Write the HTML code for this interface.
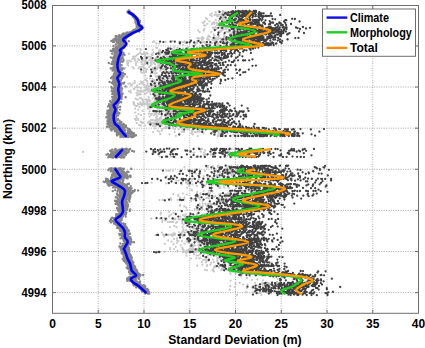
<!DOCTYPE html>
<html><head><meta charset="utf-8"><style>
html,body{margin:0;padding:0;background:#fff;width:425px;height:348px;overflow:hidden}
svg{display:block}
text{fill:#000}
</style></head><body>
<svg width="425" height="348" viewBox="0 0 425 348">
<path d="M98.25 5.5V313.3M144.00 5.5V313.3M189.75 5.5V313.3M235.50 5.5V313.3M281.25 5.5V313.3M327.00 5.5V313.3M372.75 5.5V313.3M52.5 292.64H418.5M52.5 251.52H418.5M52.5 210.40H418.5M52.5 169.28H418.5M52.5 128.16H418.5M52.5 87.04H418.5M52.5 45.92H418.5" stroke="#a8a8a8" stroke-width="1" stroke-dasharray="1 1.4" fill="none"/>
<path d="M128.6 11.4h0M128.8 10.9h0M128.3 11.2h0M129.1 10.8h0M129.3 11.2h0M129.3 10.8h0M128.0 11.6h0M128.5 10.7h0M129.5 11.1h0M128.6 10.7h0M128.6 11.7h0M128.2 11.4h0M127.6 12.4h0M130.5 12.1h0M130.6 12.3h0M128.7 12.2h0M128.9 11.8h0M129.0 12.3h0M127.5 11.6h0M128.1 11.9h0M129.1 13.0h0M128.1 12.4h0M129.9 13.0h0M129.1 12.8h0M130.0 12.7h0M130.5 13.2h0M130.0 13.2h0M129.7 13.0h0M129.9 12.7h0M130.0 12.4h0M130.5 13.7h0M130.9 13.1h0M132.6 13.8h0M130.6 13.8h0M129.8 13.8h0M131.6 13.5h0M131.8 13.3h0M131.1 13.6h0M128.8 13.2h0M131.7 13.8h0M131.4 13.9h0M130.7 14.0h0M132.4 14.0h0M131.7 14.1h0M130.8 13.8h0M131.5 13.8h0M131.2 14.4h0M131.8 14.6h0M132.6 14.2h0M132.4 14.6h0M133.8 14.8h0M132.7 15.5h0M133.7 15.0h0M133.1 14.8h0M132.5 14.8h0M131.9 15.0h0M132.6 14.7h0M132.2 15.1h0M133.3 14.8h0M134.1 14.7h0M134.4 15.7h0M133.2 15.9h0M133.3 16.2h0M132.5 15.7h0M133.0 15.9h0M134.1 16.0h0M133.5 15.8h0M133.5 16.1h0M135.2 16.1h0M134.1 15.8h0M133.8 16.9h0M134.7 16.7h0M134.4 16.5h0M134.7 17.1h0M133.9 17.1h0M133.3 16.2h0M134.0 16.6h0M134.1 16.4h0M133.3 16.9h0M136.1 17.0h0M135.9 17.8h0M135.6 17.0h0M135.3 17.8h0M135.6 17.2h0M135.0 17.1h0M135.3 17.5h0M135.4 17.3h0M134.3 17.0h0M135.6 17.2h0M135.5 17.6h0M134.2 18.1h0M138.0 18.7h0M136.9 18.3h0M136.6 18.5h0M134.9 18.6h0M136.6 18.0h0M134.6 18.6h0M135.7 18.0h0M135.7 18.5h0M136.0 18.7h0M135.2 19.3h0M137.8 18.6h0M136.0 18.9h0M136.4 19.4h0M137.2 18.7h0M137.2 18.7h0M136.7 18.8h0M136.2 19.5h0M136.0 18.7h0M137.0 19.1h0M137.3 19.6h0M136.9 20.1h0M137.3 19.6h0M137.8 20.4h0M139.0 20.3h0M136.5 20.0h0M138.0 19.6h0M136.0 20.1h0M136.7 19.6h0M136.5 20.2h0M137.1 20.3h0M135.6 20.5h0M137.2 20.4h0M139.9 20.6h0M136.4 20.8h0M135.5 20.9h0M138.5 20.3h0M135.2 20.2h0M139.0 20.6h0M135.7 20.6h0M136.8 21.1h0M136.2 21.2h0M136.8 21.2h0M138.6 21.7h0M138.3 21.6h0M137.1 21.6h0M137.7 21.5h0M135.8 21.7h0M139.8 21.9h0M137.7 21.7h0M137.9 21.8h0M138.9 22.2h0M137.7 22.1h0M138.8 21.9h0M137.7 22.4h0M136.6 21.8h0M135.6 22.6h0M136.7 22.1h0M138.5 22.1h0M138.5 22.1h0M137.8 23.3h0M138.7 23.0h0M136.4 23.4h0M136.1 23.2h0M138.9 23.1h0M137.5 23.3h0M139.3 23.5h0M137.2 22.8h0M136.0 23.3h0M138.4 23.4h0M137.6 23.8h0M138.7 23.8h0M138.6 24.0h0M138.3 24.1h0M137.9 24.2h0M139.3 23.6h0M138.4 24.1h0M137.7 24.3h0M136.9 24.0h0M138.3 23.7h0M138.7 24.8h0M138.0 24.7h0M137.1 24.3h0M138.8 25.0h0M136.5 24.8h0M139.1 25.1h0M138.0 24.7h0M137.2 24.2h0M137.8 25.2h0M136.9 24.4h0M137.0 25.8h0M138.3 25.6h0M139.2 25.1h0M137.7 25.2h0M140.3 25.7h0M139.0 25.8h0M138.5 25.1h0M137.8 25.7h0M139.5 25.6h0M138.4 25.7h0M136.6 26.8h0M136.9 26.1h0M139.0 25.9h0M139.3 26.2h0M138.5 25.9h0M138.3 26.5h0M138.3 25.9h0M137.7 26.0h0M138.8 26.7h0M141.7 25.8h0M142.6 27.4h0M138.5 26.8h0M142.2 26.7h0M139.2 26.6h0M138.4 26.6h0M141.0 27.6h0M138.9 27.1h0M138.2 26.7h0M139.7 26.6h0M137.4 27.4h0M138.3 27.7h0M143.1 27.6h0M140.8 27.5h0M141.6 27.6h0M138.5 28.0h0M140.7 27.5h0M141.2 28.3h0M140.5 27.5h0M139.6 28.0h0M138.6 28.3h0M139.0 28.7h0M141.6 28.6h0M138.3 28.3h0M139.7 29.1h0M138.5 29.0h0M138.4 28.4h0M138.0 29.0h0M137.4 28.6h0M141.5 28.6h0M138.4 28.3h0M137.8 29.5h0M138.8 29.8h0M137.8 29.4h0M135.5 29.3h0M138.7 29.7h0M135.6 29.6h0M138.4 29.3h0M135.8 29.4h0M137.4 29.9h0M139.2 29.7h0M135.2 30.3h0M135.4 29.9h0M134.4 30.2h0M137.0 30.3h0M140.5 29.9h0M136.6 30.7h0M137.5 30.6h0M133.6 30.0h0M138.3 30.6h0M138.5 29.9h0M139.1 31.5h0M135.1 30.9h0M135.4 31.4h0M133.3 30.6h0M133.7 31.2h0M133.9 30.6h0M134.2 31.0h0M134.0 30.7h0M133.9 30.9h0M135.4 31.1h0M131.1 31.9h0M130.3 32.3h0M131.7 32.1h0M133.2 31.8h0M134.4 31.4h0M131.8 31.7h0M134.7 32.2h0M132.0 31.8h0M132.0 31.6h0M132.1 31.5h0M129.0 32.8h0M131.5 32.8h0M130.6 32.2h0M132.1 32.3h0M127.2 32.4h0M133.5 32.6h0M133.2 32.6h0M130.7 32.5h0M129.2 32.6h0M131.6 32.4h0M127.2 33.9h0M123.4 33.4h0M132.2 33.5h0M128.7 33.5h0M126.2 33.5h0M125.1 33.4h0M128.8 33.2h0M128.9 33.2h0M131.1 33.0h0M127.4 33.3h0M123.0 34.2h0M129.1 34.3h0M126.6 33.9h0M128.8 34.6h0M123.0 34.4h0M127.0 33.9h0M126.5 34.6h0M128.8 34.1h0M130.8 34.5h0M125.9 34.3h0M124.4 34.7h0M123.1 35.5h0M119.2 35.3h0M126.7 35.2h0M121.8 34.8h0M126.8 35.0h0M123.3 35.5h0M129.3 34.7h0M127.4 35.3h0M125.5 35.0h0M124.0 36.1h0M116.8 36.1h0M125.7 36.0h0M126.2 35.6h0M127.4 36.4h0M124.2 36.0h0M125.2 35.7h0M128.5 35.7h0M125.3 36.3h0M119.3 36.3h0M124.1 36.8h0M122.3 36.4h0M124.8 37.0h0M118.8 37.1h0M120.5 36.7h0M115.7 36.3h0M115.9 36.8h0M121.6 36.5h0M123.4 36.3h0M123.0 36.9h0M119.7 38.0h0M123.5 37.3h0M119.6 37.4h0M119.0 37.4h0M119.8 37.6h0M121.4 37.6h0M126.4 38.0h0M125.6 37.3h0M118.5 37.5h0M124.9 37.6h0M120.6 38.1h0M115.8 38.3h0M122.2 38.7h0M115.1 38.6h0M119.9 38.2h0M119.7 38.5h0M120.2 38.4h0M121.2 38.6h0M124.5 38.2h0M120.1 37.8h0M117.0 39.1h0M114.3 39.2h0M121.4 39.2h0M120.7 39.4h0M117.1 39.2h0M123.9 39.2h0M120.6 38.7h0M123.3 39.0h0M123.5 39.5h0M115.9 38.8h0M121.3 39.6h0M117.1 40.3h0M125.7 39.8h0M116.6 39.6h0M122.6 40.3h0M116.8 40.1h0M123.1 40.2h0M118.4 40.3h0M113.3 39.8h0M121.4 40.4h0M115.7 40.2h0M118.4 40.5h0M119.4 40.5h0M119.8 40.5h0M121.0 41.1h0M120.7 40.4h0M116.8 40.2h0M111.4 40.9h0M120.6 40.5h0M120.7 41.1h0M120.9 41.8h0M119.2 41.1h0M113.0 41.9h0M128.8 41.1h0M117.5 41.7h0M118.9 41.9h0M114.2 41.9h0M117.8 41.2h0M121.8 41.5h0M120.7 41.7h0M123.4 42.5h0M117.2 42.4h0M119.1 42.5h0M118.4 42.6h0M123.4 42.5h0M117.3 41.9h0M119.3 42.1h0M123.4 42.0h0M117.0 42.1h0M124.4 42.7h0M124.2 43.3h0M121.5 43.4h0M122.7 42.7h0M121.4 43.2h0M123.6 42.9h0M122.9 42.7h0M119.3 43.2h0M123.4 42.9h0M123.6 43.3h0M122.4 42.6h0M121.3 44.3h0M121.7 43.6h0M120.6 43.9h0M121.6 44.2h0M126.0 44.3h0M119.3 43.4h0M122.1 44.3h0M121.0 44.4h0M121.1 44.1h0M118.1 43.5h0M121.9 44.4h0M120.3 44.5h0M120.1 44.6h0M118.6 44.7h0M121.3 45.0h0M115.8 44.5h0M122.3 44.3h0M121.6 44.9h0M125.2 44.2h0M123.5 44.9h0M120.7 45.8h0M124.6 45.7h0M121.2 45.4h0M120.9 45.9h0M118.5 45.5h0M121.1 45.8h0M121.0 45.9h0M122.0 45.4h0M118.4 45.2h0M121.5 45.9h0M120.9 46.5h0M118.2 46.7h0M113.5 45.9h0M124.0 46.6h0M121.5 46.1h0M118.5 46.1h0M123.5 46.5h0M124.0 46.6h0M118.9 45.9h0M118.6 46.1h0M119.9 47.1h0M119.3 46.9h0M119.2 47.2h0M122.2 46.8h0M122.6 47.4h0M124.2 47.0h0M119.8 47.5h0M123.4 47.4h0M116.2 47.0h0M121.1 47.3h0M118.6 48.1h0M119.2 48.3h0M117.7 47.7h0M119.4 47.6h0M121.6 47.7h0M115.6 47.7h0M121.3 48.4h0M121.3 48.2h0M120.2 48.3h0M118.8 48.3h0M118.9 49.1h0M117.1 49.2h0M118.2 48.5h0M115.3 49.1h0M116.5 48.3h0M117.1 48.2h0M117.8 48.3h0M116.3 48.5h0M113.4 48.7h0M119.6 48.3h0M119.4 49.5h0M114.1 49.9h0M115.4 49.1h0M119.0 49.7h0M113.0 49.0h0M113.2 49.4h0M115.1 49.0h0M118.6 49.8h0M121.2 49.3h0M118.6 49.4h0M118.0 50.3h0M115.6 50.1h0M114.6 50.5h0M115.0 49.9h0M114.5 49.9h0M114.3 50.8h0M119.8 50.6h0M113.4 50.3h0M118.4 50.5h0M116.3 50.8h0M121.0 51.6h0M119.0 50.7h0M112.5 50.9h0M115.6 50.8h0M116.7 51.5h0M113.2 51.3h0M122.0 50.9h0M119.1 51.2h0M116.3 51.2h0M110.7 50.7h0M114.9 52.2h0M117.8 51.6h0M117.3 52.4h0M117.8 51.4h0M116.6 51.7h0M117.7 51.8h0M118.0 51.7h0M120.0 51.9h0M119.7 51.6h0M117.6 51.4h0M122.1 53.0h0M116.1 52.3h0M114.8 52.7h0M119.7 52.9h0M120.2 52.8h0M123.4 52.8h0M116.0 52.2h0M116.9 52.4h0M117.3 52.8h0M118.5 52.4h0M117.1 53.7h0M115.8 53.3h0M120.8 53.8h0M120.8 53.2h0M123.1 53.8h0M119.3 53.8h0M118.8 54.0h0M115.6 53.8h0M118.4 53.9h0M112.1 53.6h0M121.1 54.3h0M119.1 53.8h0M116.1 54.4h0M122.3 54.7h0M118.0 54.5h0M116.3 53.8h0M119.4 54.8h0M116.4 53.8h0M117.9 54.7h0M116.8 54.6h0M114.4 54.8h0M117.5 55.0h0M119.3 54.7h0M119.8 55.2h0M115.3 54.9h0M117.8 55.6h0M124.5 55.0h0M115.4 54.7h0M120.4 55.0h0M122.1 54.7h0M119.3 56.0h0M117.0 55.8h0M119.2 56.2h0M119.5 55.9h0M117.8 55.5h0M117.2 55.8h0M115.9 55.7h0M115.5 56.2h0M119.8 55.5h0M114.5 56.1h0M114.0 56.9h0M114.7 56.8h0M113.6 57.1h0M120.7 57.2h0M116.8 56.4h0M119.1 56.9h0M119.3 56.6h0M116.9 56.7h0M114.5 56.6h0M119.0 56.8h0M121.7 58.0h0M116.6 57.4h0M118.3 57.2h0M118.7 57.8h0M117.8 57.9h0M120.6 57.4h0M117.7 58.0h0M122.7 57.1h0M120.4 57.3h0M110.8 57.4h0M117.8 58.6h0M118.8 58.2h0M116.2 58.7h0M119.5 58.8h0M116.2 58.1h0M119.0 58.6h0M118.6 57.9h0M116.2 58.1h0M119.6 58.8h0M112.6 58.2h0M117.8 59.4h0M117.2 59.0h0M118.0 58.7h0M118.9 59.5h0M114.1 58.8h0M118.3 59.1h0M116.8 59.5h0M123.3 59.3h0M113.0 58.7h0M115.3 59.0h0M120.5 59.7h0M113.7 59.8h0M117.0 60.4h0M117.1 59.6h0M117.5 59.9h0M115.4 59.9h0M117.8 59.5h0M119.0 59.4h0M113.5 59.6h0M120.8 59.8h0M114.3 60.4h0M118.9 60.2h0M113.2 60.8h0M123.5 60.7h0M115.7 60.3h0M121.0 60.8h0M115.8 60.7h0M116.9 60.5h0M119.8 60.4h0M117.1 60.3h0M115.4 61.4h0M113.6 61.7h0M118.6 61.5h0M114.9 61.9h0M116.4 61.5h0M119.7 61.4h0M112.3 61.9h0M115.0 61.4h0M115.8 61.7h0M121.3 61.3h0M114.7 62.3h0M117.3 62.0h0M118.5 61.9h0M117.5 62.1h0M115.5 62.7h0M118.7 62.6h0M116.2 62.3h0M122.5 61.8h0M115.5 62.1h0M116.8 62.8h0M108.8 63.0h0M114.9 62.9h0M116.8 63.4h0M118.5 63.2h0M118.5 63.5h0M114.1 63.5h0M120.1 62.7h0M118.3 63.0h0M119.2 62.7h0M119.2 62.7h0M116.0 64.2h0M112.3 64.3h0M115.2 63.7h0M111.4 63.9h0M113.8 63.9h0M115.6 63.9h0M115.6 63.5h0M116.3 64.2h0M117.6 63.5h0M115.0 63.6h0M118.4 65.2h0M114.2 64.7h0M119.7 64.3h0M119.3 64.9h0M120.7 65.0h0M116.1 64.6h0M118.0 65.1h0M117.0 65.0h0M114.6 64.7h0M115.4 65.0h0M120.8 65.1h0M120.0 65.7h0M121.6 65.3h0M116.9 65.6h0M120.1 66.0h0M117.4 65.3h0M117.1 65.0h0M115.0 65.7h0M115.7 65.1h0M120.5 65.1h0M115.1 66.0h0M119.4 65.9h0M118.4 65.9h0M118.1 66.3h0M119.6 66.1h0M117.0 65.8h0M119.9 66.5h0M116.9 66.0h0M115.4 66.3h0M115.9 66.6h0M117.7 67.5h0M119.3 66.9h0M116.8 66.9h0M115.5 67.4h0M118.0 67.0h0M114.9 66.9h0M117.4 67.4h0M118.8 67.2h0M118.5 67.3h0M113.6 67.2h0M117.4 67.7h0M119.7 67.6h0M114.2 68.4h0M122.2 68.4h0M114.6 67.8h0M116.1 67.7h0M121.9 68.2h0M115.4 67.9h0M112.3 68.3h0M117.1 68.1h0M120.3 69.0h0M115.6 68.8h0M112.0 68.6h0M115.3 69.0h0M116.4 68.9h0M124.1 68.4h0M115.9 68.3h0M114.8 68.3h0M110.8 68.4h0M119.5 68.7h0M115.4 69.7h0M117.5 69.3h0M122.0 69.8h0M118.4 69.0h0M114.7 69.7h0M117.6 69.3h0M116.7 69.9h0M116.1 69.6h0M112.9 69.7h0M119.9 69.3h0M120.3 70.2h0M119.1 70.7h0M120.0 70.6h0M121.2 70.0h0M116.9 70.1h0M120.8 70.3h0M114.4 69.9h0M116.5 70.1h0M118.9 69.9h0M112.6 70.5h0M120.1 71.6h0M114.9 71.2h0M114.8 71.2h0M118.0 71.3h0M119.0 70.9h0M117.4 71.5h0M116.5 71.2h0M115.3 70.7h0M117.9 71.4h0M118.1 70.7h0M116.3 72.1h0M119.7 71.5h0M119.6 72.0h0M118.1 71.8h0M119.9 71.7h0M119.0 72.1h0M117.9 72.2h0M117.5 71.5h0M115.7 71.4h0M119.7 71.5h0M118.3 73.0h0M114.4 73.2h0M120.3 72.9h0M117.1 72.9h0M119.2 73.1h0M123.0 72.8h0M119.0 73.0h0M116.4 72.5h0M117.4 72.8h0M121.8 72.7h0M121.2 73.5h0M115.0 73.9h0M116.8 74.0h0M120.5 73.3h0M122.5 73.7h0M122.9 73.3h0M120.4 73.5h0M115.1 73.5h0M122.1 73.1h0M117.9 73.4h0M116.2 74.2h0M124.9 74.2h0M118.9 73.9h0M113.9 74.5h0M121.7 74.1h0M117.0 74.7h0M121.3 74.0h0M119.7 74.4h0M113.9 73.9h0M121.7 74.3h0M117.7 75.4h0M119.2 75.2h0M116.0 75.0h0M120.7 74.7h0M117.6 74.7h0M118.6 75.4h0M118.4 74.6h0M115.8 75.5h0M119.8 75.4h0M118.8 75.2h0M113.1 76.3h0M119.3 76.0h0M118.4 75.9h0M117.0 76.1h0M119.3 76.0h0M115.0 75.7h0M117.1 76.4h0M114.0 75.9h0M119.2 75.9h0M122.0 75.5h0M120.1 76.4h0M116.3 76.4h0M116.9 77.0h0M123.2 76.2h0M116.3 76.6h0M114.7 76.9h0M116.4 77.1h0M119.2 77.0h0M119.2 77.2h0M113.1 77.0h0M116.5 77.7h0M114.3 77.9h0M112.7 77.2h0M114.7 77.5h0M112.3 77.5h0M115.8 77.2h0M119.6 77.1h0M116.3 77.8h0M112.1 77.0h0M121.5 77.8h0M114.4 77.8h0M112.4 78.3h0M114.0 77.9h0M116.2 78.4h0M111.0 78.0h0M122.1 78.2h0M115.5 78.0h0M115.1 77.9h0M119.0 77.9h0M112.4 78.1h0M116.1 78.7h0M115.7 78.8h0M116.9 79.3h0M114.5 78.8h0M113.8 79.2h0M113.5 78.8h0M114.5 78.9h0M117.0 78.9h0M118.0 79.0h0M115.6 79.4h0M120.9 80.3h0M119.1 80.0h0M119.5 80.2h0M115.5 80.4h0M113.8 80.4h0M116.9 80.1h0M114.1 80.1h0M116.7 80.4h0M113.8 79.9h0M116.7 79.4h0M119.0 80.8h0M113.2 80.9h0M118.1 80.8h0M114.4 80.4h0M113.4 80.8h0M115.7 80.4h0M116.9 80.6h0M117.8 80.8h0M114.6 80.6h0M120.3 80.7h0M118.3 81.2h0M120.5 81.2h0M113.9 81.5h0M119.0 81.2h0M113.6 81.2h0M115.6 81.1h0M119.0 81.6h0M115.5 81.5h0M115.0 81.2h0M117.2 81.7h0M114.9 82.3h0M111.9 82.7h0M109.6 82.0h0M117.5 82.1h0M118.0 82.4h0M114.8 82.7h0M117.9 81.8h0M118.6 82.4h0M119.5 82.3h0M117.0 82.2h0M112.9 83.5h0M118.1 83.2h0M112.1 83.0h0M118.9 82.9h0M114.0 82.8h0M118.4 83.3h0M117.2 83.3h0M118.6 83.5h0M124.3 82.6h0M113.8 83.6h0M122.7 83.4h0M114.7 84.1h0M119.9 83.7h0M123.6 83.5h0M114.5 83.9h0M115.9 83.8h0M122.0 83.4h0M119.9 84.0h0M120.5 84.0h0M119.8 83.6h0M118.0 85.1h0M115.8 84.6h0M116.8 84.5h0M115.2 84.3h0M117.3 84.7h0M117.4 84.6h0M117.4 84.7h0M119.9 85.1h0M118.6 84.8h0M115.7 84.8h0M117.1 85.1h0M114.1 85.1h0M118.3 85.6h0M115.7 85.1h0M115.8 85.0h0M116.7 85.0h0M118.0 85.8h0M121.0 85.0h0M115.3 85.6h0M117.7 85.7h0M119.4 86.7h0M118.7 86.5h0M119.3 86.2h0M120.5 86.0h0M114.9 86.5h0M119.5 86.7h0M116.4 86.2h0M125.6 86.4h0M115.3 86.5h0M119.4 86.5h0M118.0 86.9h0M117.7 86.9h0M111.4 86.9h0M119.7 86.8h0M115.3 87.0h0M118.5 87.1h0M120.9 87.2h0M120.5 87.4h0M115.9 87.3h0M118.1 87.5h0M120.7 87.5h0M114.6 87.7h0M117.1 87.7h0M116.6 87.8h0M117.5 87.7h0M116.7 88.0h0M119.7 88.1h0M117.4 87.9h0M117.3 88.1h0M115.3 87.6h0M113.9 88.3h0M113.7 88.5h0M114.5 88.3h0M122.1 88.6h0M118.4 89.2h0M117.2 88.3h0M114.4 88.9h0M116.4 88.5h0M111.9 88.4h0M118.2 89.1h0M118.5 89.2h0M118.1 89.5h0M116.0 89.1h0M120.0 89.3h0M118.5 89.7h0M117.2 89.6h0M116.5 89.8h0M117.3 89.1h0M116.3 89.9h0M114.5 89.1h0M116.7 90.7h0M117.9 90.4h0M116.4 90.7h0M118.6 90.2h0M119.4 90.2h0M119.4 90.6h0M121.5 90.7h0M118.9 89.9h0M115.4 90.6h0M113.3 90.7h0M113.5 91.2h0M118.1 91.0h0M119.6 91.1h0M119.8 90.9h0M116.6 91.1h0M111.7 91.0h0M112.9 90.9h0M117.1 91.4h0M115.1 91.2h0M113.8 90.7h0M114.1 92.1h0M113.1 92.2h0M119.2 92.1h0M119.8 92.3h0M119.0 91.6h0M118.3 91.7h0M115.8 92.3h0M115.2 92.1h0M115.4 92.3h0M111.9 91.4h0M114.0 92.9h0M119.3 93.1h0M118.4 93.1h0M120.5 92.4h0M120.2 92.4h0M118.3 92.2h0M114.5 92.8h0M119.9 93.1h0M117.1 93.1h0M119.6 92.3h0M116.4 93.8h0M116.8 93.1h0M118.8 93.9h0M115.7 93.6h0M117.8 93.7h0M115.8 93.7h0M114.8 93.5h0M119.6 93.8h0M122.6 93.5h0M117.5 93.1h0M112.8 94.0h0M112.3 93.9h0M118.1 94.3h0M118.8 94.0h0M122.0 94.7h0M114.0 94.3h0M113.9 94.2h0M119.0 94.4h0M120.8 94.4h0M119.0 94.0h0M119.0 95.5h0M120.4 95.6h0M117.2 94.9h0M115.5 95.5h0M117.4 95.3h0M121.4 94.9h0M119.6 95.6h0M116.9 95.3h0M114.3 95.5h0M117.2 95.5h0M120.2 95.4h0M118.5 95.8h0M117.1 96.0h0M115.3 95.6h0M118.6 95.7h0M120.2 96.1h0M118.3 96.2h0M115.6 95.8h0M120.0 95.9h0M114.2 96.2h0M118.4 97.1h0M116.1 96.5h0M125.7 97.2h0M121.2 96.9h0M118.4 97.0h0M118.1 96.9h0M121.7 96.8h0M112.2 97.0h0M116.1 96.8h0M120.0 96.5h0M114.9 97.4h0M113.5 97.9h0M118.3 97.1h0M116.0 97.3h0M115.1 97.2h0M116.1 97.7h0M117.0 97.1h0M120.5 97.7h0M118.1 97.9h0M119.9 97.3h0M118.1 98.3h0M116.9 98.4h0M116.9 98.0h0M114.8 98.3h0M119.4 98.2h0M116.2 98.5h0M115.4 98.2h0M120.9 98.0h0M116.8 97.9h0M117.9 98.2h0M114.6 98.7h0M121.4 98.9h0M114.5 99.2h0M115.2 99.2h0M119.1 99.1h0M116.8 98.7h0M117.6 99.6h0M113.9 98.7h0M115.2 99.0h0M116.8 99.5h0M117.0 99.8h0M118.2 99.7h0M117.3 99.7h0M112.6 100.2h0M116.9 99.6h0M117.8 100.0h0M117.4 99.6h0M112.5 99.8h0M118.4 100.2h0M113.3 99.6h0M116.9 100.2h0M114.8 100.7h0M114.0 100.7h0M113.3 100.4h0M113.5 100.2h0M115.1 100.5h0M113.0 101.2h0M119.2 101.2h0M114.0 101.1h0M115.3 101.0h0M117.9 102.0h0M115.3 101.6h0M114.6 101.9h0M114.3 101.1h0M113.6 101.8h0M110.1 101.2h0M121.0 102.0h0M115.2 101.8h0M117.7 101.2h0M115.3 101.2h0M113.7 102.7h0M115.6 102.6h0M114.2 101.9h0M117.1 102.0h0M115.0 102.5h0M117.7 101.9h0M110.8 102.0h0M113.6 102.4h0M114.9 102.3h0M121.1 102.2h0M117.5 103.0h0M113.1 102.8h0M116.5 102.6h0M116.1 103.5h0M118.8 103.1h0M111.5 103.0h0M114.3 102.9h0M116.1 102.9h0M112.9 103.1h0M114.6 103.1h0M116.1 104.3h0M116.6 104.2h0M111.9 104.1h0M113.3 103.6h0M115.1 103.6h0M112.1 104.2h0M114.4 104.1h0M116.0 103.8h0M109.1 104.3h0M117.6 104.4h0M110.6 104.8h0M112.1 104.6h0M115.1 105.0h0M112.6 105.0h0M112.2 104.9h0M117.7 105.0h0M111.5 104.7h0M112.9 105.2h0M115.0 104.8h0M111.7 104.2h0M112.0 105.4h0M109.1 105.3h0M114.4 105.4h0M113.7 105.4h0M115.0 105.0h0M116.1 105.2h0M112.3 105.8h0M114.3 106.0h0M110.3 105.8h0M113.1 105.8h0M109.4 105.9h0M108.0 106.4h0M112.2 105.9h0M120.1 106.7h0M113.8 106.7h0M112.5 106.3h0M115.5 106.8h0M111.2 106.1h0M114.4 106.8h0M116.6 106.1h0M112.5 107.0h0M111.3 107.2h0M113.7 107.5h0M110.1 107.3h0M117.0 106.6h0M114.1 106.8h0M110.6 107.3h0M112.7 107.0h0M114.6 107.2h0M110.1 107.2h0M110.3 107.4h0M113.6 107.5h0M112.9 107.6h0M115.5 108.1h0M112.1 108.1h0M114.2 107.6h0M113.1 108.1h0M115.4 107.9h0M117.9 107.6h0M114.0 107.7h0M116.9 108.8h0M116.2 108.5h0M116.7 108.3h0M113.9 109.0h0M110.9 108.8h0M113.7 108.7h0M113.2 109.0h0M114.3 108.8h0M113.7 108.7h0M113.0 108.5h0M110.1 109.3h0M113.6 109.7h0M113.9 109.9h0M113.3 109.6h0M113.6 109.0h0M120.0 109.6h0M116.9 109.9h0M110.8 109.5h0M115.0 109.8h0M113.8 109.2h0M109.1 110.3h0M107.5 110.6h0M112.0 109.8h0M109.4 110.3h0M111.7 110.7h0M110.7 110.0h0M110.4 110.2h0M113.7 110.7h0M113.2 110.4h0M114.2 110.5h0M113.0 111.1h0M111.0 111.5h0M112.7 111.4h0M109.9 110.7h0M112.3 111.3h0M108.8 111.5h0M110.3 111.4h0M116.8 111.3h0M110.8 111.5h0M113.7 110.8h0M113.1 112.2h0M115.3 112.2h0M112.0 112.2h0M115.9 112.0h0M107.6 111.9h0M116.6 111.5h0M112.0 111.6h0M115.6 112.0h0M109.7 112.3h0M112.3 111.6h0M112.8 112.9h0M117.4 112.9h0M118.1 112.4h0M115.1 112.3h0M114.8 113.1h0M113.2 112.4h0M115.2 112.9h0M119.4 113.2h0M117.6 112.6h0M114.5 112.5h0M108.8 113.5h0M115.5 113.9h0M116.7 113.1h0M111.8 113.1h0M108.2 114.0h0M112.0 113.7h0M119.3 113.6h0M113.3 113.1h0M111.3 113.3h0M107.0 113.6h0M110.4 114.1h0M110.3 114.3h0M116.1 114.0h0M111.3 114.4h0M113.0 114.7h0M111.9 114.3h0M113.4 113.9h0M114.9 114.6h0M114.2 114.8h0M110.4 114.0h0M118.0 115.4h0M112.9 114.8h0M112.3 115.2h0M113.8 115.1h0M109.1 115.4h0M108.8 114.9h0M111.4 115.2h0M113.5 115.0h0M112.0 115.0h0M110.5 115.3h0M113.9 116.0h0M114.4 116.1h0M114.8 115.9h0M114.7 115.8h0M116.6 116.1h0M114.5 115.6h0M107.6 116.1h0M111.5 115.4h0M111.9 116.3h0M114.5 116.1h0M112.8 116.9h0M112.4 116.3h0M114.1 116.8h0M115.7 116.5h0M115.7 117.2h0M109.4 116.3h0M110.2 116.6h0M113.3 116.3h0M114.0 116.3h0M112.0 116.2h0M114.4 117.3h0M107.5 117.2h0M112.4 117.6h0M115.8 117.3h0M112.6 117.9h0M108.4 117.9h0M112.7 117.8h0M106.3 117.4h0M114.8 117.9h0M113.2 117.7h0M113.4 118.6h0M112.2 118.1h0M112.2 118.6h0M115.9 118.5h0M113.3 118.2h0M113.0 118.4h0M110.4 118.7h0M113.9 118.3h0M114.6 118.2h0M115.3 118.1h0M117.5 119.3h0M116.3 119.6h0M111.9 119.5h0M110.1 119.2h0M117.5 119.1h0M109.3 118.8h0M109.9 119.0h0M117.9 119.0h0M114.0 118.6h0M117.9 119.5h0M114.3 119.7h0M114.9 119.8h0M109.2 119.9h0M110.9 120.1h0M117.0 120.0h0M114.2 119.5h0M116.9 119.9h0M112.5 119.6h0M107.8 120.1h0M112.5 119.5h0M110.8 120.3h0M119.6 120.8h0M116.5 120.8h0M110.1 120.2h0M113.0 120.5h0M115.6 120.9h0M113.2 120.3h0M113.9 120.6h0M110.0 120.5h0M115.0 121.0h0M119.8 121.9h0M110.7 121.4h0M107.5 121.2h0M115.7 121.9h0M114.7 121.0h0M111.2 121.5h0M114.3 121.4h0M115.6 121.4h0M113.5 121.8h0M108.8 121.8h0M111.3 122.2h0M115.7 122.3h0M109.5 122.7h0M114.3 122.2h0M111.8 122.4h0M113.0 122.4h0M112.2 121.9h0M110.6 122.2h0M113.5 122.7h0M116.0 122.5h0M121.4 122.1h0M111.2 122.9h0M110.6 123.0h0M114.3 122.7h0M120.5 123.2h0M111.0 123.0h0M110.6 123.0h0M111.7 123.3h0M114.1 123.4h0M117.6 123.3h0M115.2 123.1h0M117.3 122.8h0M114.8 123.8h0M110.0 123.7h0M116.1 124.0h0M117.4 123.9h0M118.8 124.1h0M109.5 124.0h0M115.5 124.3h0M119.2 124.2h0M114.9 124.2h0M107.4 123.7h0M123.6 124.0h0M109.6 124.0h0M119.6 125.1h0M109.9 124.7h0M119.0 124.6h0M113.0 124.7h0M115.3 124.4h0M115.5 125.0h0M124.1 125.1h0M117.8 124.7h0M122.6 124.6h0M110.5 125.0h0M117.1 124.4h0M119.9 124.5h0M121.6 124.5h0M116.1 125.1h0M122.9 126.0h0M109.4 125.0h0M117.9 125.2h0M113.6 125.5h0M113.7 125.2h0M125.9 125.4h0M120.3 125.5h0M122.7 125.5h0M121.4 125.5h0M113.7 125.9h0M109.4 125.6h0M112.3 125.7h0M115.8 126.4h0M117.5 126.7h0M118.2 126.1h0M107.0 126.7h0M118.3 125.8h0M118.5 126.0h0M119.1 126.3h0M125.4 126.7h0M116.3 126.1h0M119.8 126.0h0M119.1 126.3h0M107.7 126.4h0M111.7 126.6h0M115.3 126.6h0M113.7 127.1h0M120.4 126.8h0M126.1 127.0h0M122.4 126.8h0M119.6 127.0h0M118.9 127.2h0M125.2 127.0h0M114.9 127.2h0M121.3 127.0h0M119.0 127.2h0M114.3 127.0h0M109.6 127.0h0M121.0 126.8h0M121.5 127.4h0M113.0 126.7h0M113.8 127.9h0M117.5 127.9h0M116.7 127.4h0M115.6 128.0h0M114.4 127.4h0M115.2 127.6h0M118.1 128.4h0M112.3 127.9h0M118.3 128.3h0M121.9 128.1h0M123.8 127.6h0M122.5 127.9h0M123.4 128.3h0M117.2 127.7h0M116.7 128.2h0M122.0 128.5h0M123.3 128.8h0M119.4 128.6h0M117.4 129.1h0M115.0 129.1h0M112.5 128.7h0M119.3 128.7h0M123.8 129.1h0M118.5 128.5h0M127.7 128.4h0M124.2 129.0h0M121.4 128.6h0M118.5 128.5h0M118.6 128.7h0M123.6 129.0h0M120.9 129.1h0M122.0 129.2h0M114.4 129.2h0M117.8 129.3h0M115.5 129.8h0M110.6 129.3h0M117.7 129.4h0M122.5 129.8h0M117.2 129.8h0M117.2 129.9h0M115.5 129.2h0M129.3 129.3h0M118.3 129.0h0M130.1 129.6h0M120.6 130.0h0M123.4 130.2h0M124.4 130.0h0M125.2 130.3h0M129.2 130.2h0M115.3 130.5h0M125.0 130.2h0M124.4 130.1h0M123.6 130.0h0M111.6 130.4h0M115.4 129.9h0M128.0 130.8h0M129.3 130.2h0M117.8 130.5h0M122.2 130.7h0M115.2 129.8h0M118.3 131.5h0M120.7 130.9h0M121.5 131.3h0M124.2 131.2h0M129.7 131.2h0M129.6 130.9h0M115.7 130.7h0M119.4 130.9h0M114.9 131.0h0M123.5 130.7h0M119.7 131.5h0M125.0 130.6h0M122.1 131.1h0M120.9 130.7h0M118.9 131.1h0M124.0 131.8h0M128.4 131.7h0M124.1 132.0h0M119.5 131.4h0M124.7 132.1h0M120.6 132.4h0M123.9 131.5h0M129.5 132.3h0M118.9 131.4h0M116.7 131.8h0M119.8 132.2h0M120.7 132.0h0M124.8 132.0h0M131.4 131.6h0M118.8 132.0h0M128.9 132.6h0M122.6 132.4h0M122.1 132.3h0M120.7 132.9h0M116.8 132.8h0M120.7 132.6h0M128.0 132.3h0M124.3 132.5h0M121.2 132.9h0M124.8 133.0h0M121.9 132.4h0M125.2 133.2h0M122.4 132.5h0M123.1 132.5h0M131.9 132.4h0M120.7 133.6h0M134.1 133.5h0M122.2 133.6h0M123.4 133.7h0M127.1 133.9h0M124.2 133.5h0M123.6 133.4h0M130.3 133.1h0M128.2 133.5h0M123.0 133.4h0M125.7 133.3h0M120.2 133.5h0M133.7 133.1h0M122.6 133.9h0M122.1 133.3h0M123.5 134.5h0M132.1 134.1h0M121.8 134.3h0M125.7 134.3h0M119.0 133.9h0M126.1 134.0h0M127.0 134.5h0M120.0 134.4h0M123.4 134.0h0M128.0 134.8h0M130.3 134.0h0M122.0 133.9h0M124.3 134.8h0M126.4 134.5h0M116.9 133.9h0M117.6 135.1h0M136.0 135.3h0M132.6 134.8h0M123.9 135.5h0M125.5 134.6h0M122.4 134.9h0M122.6 135.0h0M127.2 135.1h0M127.8 135.2h0M134.9 135.6h0M123.6 134.7h0M123.7 134.9h0M117.1 135.4h0M122.9 135.5h0M126.1 135.0h0M121.0 135.6h0M134.2 136.0h0M126.9 135.7h0M127.1 135.9h0M127.1 135.6h0M127.5 135.9h0M125.1 135.9h0M124.9 136.0h0M123.8 135.6h0M123.8 136.2h0M128.3 135.9h0M131.6 136.2h0M127.0 135.5h0M130.1 136.1h0M120.8 136.1h0M131.3 137.0h0M127.7 136.9h0M127.0 136.6h0M120.5 137.0h0M132.6 137.0h0M133.4 136.7h0M120.8 136.2h0M122.8 136.4h0M128.0 136.6h0M123.3 137.0h0M126.2 136.6h0M125.4 136.4h0M122.5 136.6h0M128.2 137.0h0M120.5 136.4h0M123.2 149.3h0M121.5 149.0h0M125.0 149.1h0M121.0 149.6h0M129.5 149.5h0M115.5 149.0h0M126.5 148.8h0M119.0 149.6h0M127.1 149.1h0M122.2 148.7h0M122.1 149.6h0M119.9 149.6h0M124.2 149.5h0M115.8 149.7h0M114.8 149.6h0M130.1 149.0h0M128.4 150.1h0M120.5 150.2h0M122.9 149.7h0M129.1 150.2h0M118.1 150.3h0M118.7 150.0h0M119.9 149.9h0M121.7 150.1h0M114.8 149.8h0M122.9 150.1h0M112.3 149.6h0M122.0 150.4h0M124.9 149.8h0M122.2 150.2h0M119.5 150.1h0M123.9 149.6h0M117.2 150.7h0M132.2 150.9h0M111.6 150.5h0M121.3 150.3h0M115.7 150.9h0M126.1 150.5h0M120.5 150.5h0M122.0 150.9h0M124.2 150.5h0M116.7 150.6h0M121.5 150.8h0M120.0 150.9h0M117.0 151.2h0M115.7 151.1h0M110.2 150.7h0M110.8 150.7h0M120.0 151.3h0M117.2 151.9h0M122.9 152.0h0M117.1 151.6h0M111.9 151.8h0M117.2 152.0h0M113.4 151.9h0M121.7 151.8h0M123.8 151.1h0M123.1 151.9h0M124.4 151.7h0M125.3 151.6h0M115.9 151.1h0M134.0 151.5h0M118.7 151.5h0M111.5 151.6h0M118.1 152.3h0M120.1 152.5h0M114.0 152.5h0M116.9 152.3h0M119.1 152.0h0M120.6 152.2h0M128.6 152.1h0M126.5 152.1h0M114.6 152.5h0M120.4 152.5h0M121.0 152.8h0M125.0 152.0h0M121.2 152.3h0M123.5 152.8h0M125.3 152.0h0M124.1 152.1h0M122.7 153.4h0M120.9 153.3h0M127.2 153.0h0M111.5 153.3h0M115.8 153.1h0M114.2 153.7h0M113.7 153.5h0M121.4 153.1h0M120.1 153.7h0M125.4 153.3h0M117.9 153.2h0M125.6 153.1h0M111.1 153.4h0M124.1 153.7h0M120.8 152.8h0M125.8 153.3h0M113.8 154.1h0M120.9 154.1h0M120.0 153.6h0M121.3 153.9h0M122.7 153.5h0M112.2 154.3h0M114.3 154.3h0M111.9 154.2h0M116.3 153.7h0M118.2 153.5h0M113.6 153.8h0M122.9 153.5h0M117.5 154.2h0M117.4 154.2h0M121.5 154.2h0M108.0 153.9h0M114.0 154.4h0M118.7 154.9h0M118.2 155.3h0M117.1 154.9h0M117.3 154.8h0M109.3 155.2h0M120.4 154.3h0M122.7 155.3h0M115.6 155.0h0M116.7 154.3h0M106.6 154.7h0M118.7 155.0h0M125.8 154.9h0M116.6 154.6h0M120.4 154.3h0M115.4 155.0h0M111.4 155.3h0M116.3 155.1h0M116.8 155.2h0M117.0 155.6h0M121.9 155.6h0M116.6 155.5h0M120.0 155.5h0M117.6 155.7h0M118.9 155.8h0M121.7 155.2h0M120.5 155.8h0M121.0 155.6h0M112.9 155.3h0M116.9 155.2h0M117.6 155.4h0M121.6 156.1h0M112.5 156.6h0M116.4 156.1h0M115.7 156.0h0M117.2 156.8h0M112.0 156.6h0M113.5 156.7h0M119.0 155.9h0M115.0 156.2h0M113.7 156.2h0M112.6 156.9h0M119.4 156.0h0M124.4 156.7h0M113.6 156.8h0M121.8 156.4h0M119.6 156.4h0M117.1 156.1h0M112.6 156.9h0M113.1 157.6h0M117.8 157.0h0M121.7 157.5h0M110.4 157.0h0M117.7 157.2h0M123.9 157.5h0M115.6 157.3h0M120.4 157.2h0M112.4 157.5h0M108.3 157.2h0M116.9 157.4h0M116.2 157.2h0M117.3 157.4h0M111.1 156.8h0M118.3 156.9h0M119.3 168.7h0M111.1 168.4h0M121.0 168.5h0M114.6 168.7h0M118.8 168.6h0M114.4 168.7h0M120.3 168.8h0M115.6 167.9h0M111.7 168.2h0M115.0 168.7h0M114.5 168.6h0M115.5 168.5h0M114.3 168.4h0M118.3 168.8h0M120.4 168.5h0M115.6 169.1h0M118.5 169.2h0M114.3 168.7h0M114.0 168.7h0M123.8 168.7h0M117.3 169.5h0M114.9 169.4h0M131.2 168.7h0M119.7 168.6h0M122.2 168.9h0M117.3 169.4h0M116.3 169.1h0M118.9 168.8h0M109.4 168.6h0M118.8 169.5h0M112.0 170.4h0M114.9 169.7h0M108.4 170.0h0M110.7 169.5h0M115.3 169.8h0M121.0 170.0h0M122.0 169.7h0M113.9 170.2h0M116.8 169.7h0M115.8 169.4h0M114.7 170.3h0M118.8 170.4h0M116.7 169.6h0M114.9 170.2h0M123.3 169.6h0M120.1 170.9h0M115.1 170.9h0M118.7 171.2h0M116.9 170.8h0M118.4 170.6h0M119.3 170.7h0M112.7 170.7h0M117.6 170.4h0M115.7 170.9h0M112.0 170.9h0M114.2 170.6h0M119.5 171.0h0M113.2 170.4h0M116.3 171.1h0M113.4 171.1h0M127.2 171.8h0M120.7 171.5h0M123.2 171.4h0M123.5 171.6h0M113.6 171.5h0M113.3 171.3h0M110.8 171.6h0M113.3 171.8h0M113.6 171.2h0M118.3 171.4h0M118.9 171.9h0M119.2 171.8h0M122.0 171.6h0M124.1 171.9h0M120.2 171.8h0M120.6 172.3h0M122.5 172.1h0M122.7 172.3h0M120.4 171.8h0M116.8 172.5h0M123.7 172.5h0M128.4 171.9h0M116.8 172.3h0M117.6 172.1h0M118.6 172.1h0M113.4 171.9h0M119.6 172.6h0M117.5 171.9h0M117.7 171.9h0M116.4 172.0h0M121.2 172.8h0M120.6 173.4h0M120.7 172.9h0M120.2 173.2h0M120.9 173.6h0M116.1 172.6h0M113.8 173.2h0M115.1 173.0h0M120.4 173.1h0M113.3 172.7h0M118.8 172.9h0M120.3 172.7h0M118.9 173.5h0M120.6 173.0h0M124.8 172.7h0M120.6 174.0h0M120.1 174.0h0M113.5 174.0h0M120.4 174.1h0M121.2 173.6h0M124.1 173.6h0M126.3 173.8h0M116.4 173.9h0M112.4 174.3h0M122.7 174.1h0M117.6 173.6h0M117.7 174.0h0M123.8 173.7h0M118.6 173.9h0M115.1 174.4h0M123.6 174.3h0M119.9 174.4h0M114.1 174.9h0M126.8 175.0h0M112.9 175.0h0M119.2 174.5h0M115.3 175.1h0M119.2 174.8h0M123.1 175.2h0M118.0 174.2h0M127.2 174.6h0M116.0 174.4h0M119.0 174.5h0M112.0 175.1h0M120.9 174.4h0M117.9 175.4h0M118.8 175.5h0M118.6 175.8h0M118.2 175.9h0M125.0 175.6h0M121.5 175.4h0M120.5 176.0h0M114.2 175.4h0M119.9 175.0h0M122.7 175.1h0M116.6 175.0h0M123.6 175.8h0M121.3 175.2h0M119.6 175.5h0M120.2 175.9h0M116.7 176.5h0M127.3 176.2h0M126.9 176.3h0M121.7 176.1h0M129.8 176.0h0M125.8 176.8h0M119.4 176.7h0M125.1 176.7h0M112.6 176.3h0M115.8 175.8h0M130.6 176.0h0M125.8 176.0h0M123.4 176.8h0M114.9 176.3h0M129.9 176.0h0M123.9 177.5h0M123.5 177.2h0M119.3 177.5h0M118.3 176.9h0M117.0 176.8h0M115.5 177.0h0M121.3 176.8h0M125.7 177.3h0M116.9 177.1h0M123.5 177.2h0M128.0 176.8h0M130.4 177.1h0M125.4 176.6h0M111.6 176.9h0M121.0 177.2h0M118.8 178.4h0M121.2 177.9h0M116.4 177.9h0M121.4 178.3h0M115.6 177.7h0M127.5 178.4h0M121.1 177.6h0M124.3 177.8h0M121.3 178.1h0M122.2 177.8h0M119.2 177.8h0M115.5 178.1h0M116.6 178.3h0M111.3 177.8h0M119.8 177.9h0M122.5 178.8h0M115.6 178.9h0M111.1 178.7h0M119.5 178.2h0M113.2 178.4h0M119.0 178.5h0M118.6 178.8h0M117.9 178.4h0M114.7 178.4h0M118.5 179.0h0M106.1 178.8h0M113.4 179.1h0M127.1 178.2h0M122.0 178.7h0M107.4 179.1h0M119.1 179.0h0M120.3 179.2h0M114.2 179.1h0M117.6 179.3h0M115.1 179.1h0M121.9 179.1h0M115.0 179.1h0M119.3 179.3h0M119.6 179.0h0M107.9 179.5h0M115.4 179.2h0M118.8 180.0h0M111.4 179.9h0M112.7 179.3h0M116.6 179.7h0M123.3 179.9h0M113.1 180.4h0M113.8 180.2h0M106.6 180.1h0M115.5 180.2h0M114.1 179.9h0M113.4 180.5h0M112.0 180.8h0M109.8 180.6h0M117.6 180.7h0M115.1 180.6h0M118.5 180.7h0M111.5 180.2h0M120.6 179.8h0M114.9 180.3h0M109.0 181.2h0M115.9 180.9h0M114.9 180.9h0M117.1 181.5h0M119.6 181.2h0M119.5 180.6h0M122.9 181.4h0M106.0 181.5h0M113.7 181.3h0M118.2 181.1h0M116.3 180.8h0M116.3 181.6h0M106.5 181.0h0M107.0 180.9h0M106.1 180.8h0M103.7 181.6h0M108.2 181.5h0M104.5 182.0h0M118.6 181.4h0M112.5 181.9h0M108.5 182.0h0M115.5 182.1h0M119.4 181.5h0M112.6 181.6h0M112.3 182.2h0M115.2 182.2h0M116.3 182.3h0M113.9 181.9h0M120.3 182.1h0M107.7 181.5h0M113.5 182.4h0M114.4 183.0h0M108.9 182.4h0M118.2 182.3h0M110.8 182.3h0M109.7 182.2h0M114.5 182.8h0M117.9 182.3h0M115.4 182.8h0M110.5 182.4h0M119.1 182.9h0M121.7 183.0h0M118.4 182.5h0M110.0 182.6h0M115.3 182.6h0M118.4 183.7h0M114.4 183.9h0M122.5 183.4h0M120.3 183.3h0M116.5 183.6h0M121.5 183.9h0M112.3 183.0h0M107.4 183.6h0M111.3 183.6h0M114.1 183.6h0M115.8 183.0h0M118.4 183.5h0M120.0 183.7h0M117.4 183.3h0M115.4 183.6h0M113.3 184.5h0M108.4 184.6h0M124.5 184.3h0M129.0 183.8h0M117.4 184.0h0M110.1 184.4h0M117.4 183.9h0M112.9 183.9h0M112.0 184.2h0M115.8 184.3h0M116.3 183.8h0M127.5 183.9h0M113.8 184.6h0M123.6 183.9h0M121.5 183.9h0M119.8 185.4h0M111.4 185.0h0M122.4 185.2h0M122.0 184.8h0M118.5 185.2h0M113.9 185.2h0M125.9 185.2h0M115.4 185.2h0M108.3 185.1h0M120.3 185.2h0M112.0 185.0h0M115.0 185.6h0M119.9 185.5h0M108.6 185.0h0M123.3 185.8h0M123.0 185.9h0M126.8 185.6h0M125.9 185.7h0M114.3 185.5h0M123.2 186.1h0M120.6 186.3h0M118.5 186.2h0M130.7 186.1h0M115.9 186.4h0M117.2 185.8h0M109.2 185.7h0M120.4 186.1h0M126.0 185.4h0M117.3 186.7h0M115.8 187.1h0M121.2 186.9h0M122.6 186.5h0M122.0 186.3h0M115.6 186.6h0M125.8 186.7h0M118.7 186.6h0M121.4 186.3h0M123.1 186.4h0M122.7 187.0h0M116.8 187.1h0M126.3 186.6h0M123.7 186.3h0M123.5 187.1h0M122.4 187.2h0M118.8 187.9h0M115.2 187.6h0M121.9 187.5h0M118.6 187.4h0M124.6 187.8h0M119.1 187.2h0M128.0 187.7h0M127.7 187.8h0M130.5 188.0h0M121.8 187.6h0M124.4 187.6h0M113.1 187.4h0M123.8 188.5h0M118.9 188.0h0M125.0 187.9h0M124.6 188.3h0M128.3 188.1h0M124.0 188.7h0M129.8 188.1h0M121.9 188.1h0M117.9 188.3h0M125.4 188.4h0M131.5 188.2h0M121.2 188.0h0M126.7 188.3h0M121.9 188.3h0M121.6 188.6h0M128.7 189.1h0M119.6 189.5h0M131.0 188.7h0M124.3 189.6h0M124.7 189.6h0M118.7 188.9h0M121.7 188.9h0M120.2 188.9h0M125.7 189.4h0M124.3 189.4h0M118.2 189.5h0M120.6 189.5h0M126.2 189.5h0M124.9 189.4h0M123.6 190.0h0M125.6 189.9h0M127.7 189.6h0M123.2 189.4h0M127.7 190.0h0M123.4 190.3h0M134.8 189.9h0M138.1 190.4h0M120.5 190.4h0M124.7 189.8h0M115.2 190.1h0M112.8 191.1h0M122.7 190.2h0M121.1 190.4h0M130.0 190.5h0M132.5 191.0h0M121.5 190.5h0M126.9 190.7h0M125.9 190.9h0M126.4 190.7h0M127.7 190.4h0M130.1 190.2h0M125.4 191.0h0M129.0 190.5h0M129.7 191.6h0M117.5 191.3h0M128.8 191.9h0M123.5 191.5h0M132.4 191.4h0M120.0 191.3h0M121.3 191.9h0M125.6 191.8h0M122.5 191.5h0M127.7 191.1h0M121.8 191.0h0M133.1 191.7h0M134.4 191.1h0M128.1 192.2h0M121.3 192.3h0M125.1 192.0h0M123.9 192.3h0M130.5 192.4h0M123.8 192.5h0M122.8 192.6h0M124.8 192.7h0M128.0 192.5h0M121.8 192.4h0M120.6 192.5h0M121.4 192.5h0M130.7 192.4h0M116.9 193.6h0M120.8 193.0h0M128.7 192.6h0M132.2 192.8h0M124.4 193.3h0M129.5 193.4h0M120.1 192.8h0M119.8 192.6h0M125.4 192.9h0M125.8 193.5h0M128.2 193.2h0M126.7 193.2h0M119.8 193.9h0M124.4 193.6h0M121.6 194.1h0M126.4 193.8h0M128.2 193.4h0M120.2 194.1h0M129.1 193.9h0M121.1 194.0h0M129.8 193.8h0M125.3 193.9h0M129.5 194.1h0M125.5 193.4h0M123.1 195.0h0M125.1 194.4h0M117.7 195.1h0M123.2 195.2h0M126.8 194.4h0M128.2 194.6h0M121.7 194.4h0M123.3 195.0h0M127.5 194.7h0M117.1 194.5h0M130.7 194.2h0M122.7 195.0h0M125.9 195.9h0M123.3 195.1h0M122.2 195.0h0M122.7 195.4h0M123.4 195.6h0M125.6 195.8h0M130.3 195.8h0M124.5 195.9h0M123.6 195.6h0M119.1 195.9h0M125.1 195.7h0M124.3 195.5h0M130.3 196.6h0M128.7 196.1h0M121.0 196.3h0M125.1 196.4h0M127.3 196.2h0M126.3 196.5h0M127.2 196.3h0M124.8 196.0h0M123.5 196.4h0M128.0 196.0h0M130.3 196.6h0M121.2 196.4h0M124.4 196.8h0M125.4 196.8h0M117.1 197.4h0M122.3 197.4h0M122.3 197.5h0M119.8 197.1h0M125.2 197.2h0M115.8 197.2h0M120.7 196.8h0M125.3 196.7h0M129.9 196.8h0M126.7 197.8h0M121.7 197.5h0M124.9 197.9h0M125.9 197.5h0M121.2 197.7h0M119.7 197.9h0M130.2 197.6h0M124.4 198.3h0M129.2 198.3h0M120.9 198.3h0M121.9 197.8h0M127.2 199.1h0M124.0 198.5h0M122.6 199.0h0M121.8 199.2h0M120.4 198.8h0M129.6 199.1h0M129.0 198.6h0M129.3 198.9h0M122.2 198.6h0M121.4 198.8h0M121.9 199.2h0M123.0 199.4h0M117.7 199.2h0M122.0 199.6h0M120.4 199.1h0M122.8 199.3h0M125.9 199.5h0M124.9 199.2h0M124.8 199.1h0M120.8 199.2h0M126.1 199.5h0M125.9 199.1h0M120.2 200.2h0M122.7 200.3h0M119.6 200.2h0M121.5 200.5h0M118.9 200.4h0M115.0 200.7h0M122.6 200.4h0M125.1 200.3h0M126.1 200.4h0M122.7 200.2h0M128.9 200.1h0M121.7 201.6h0M116.8 200.9h0M120.1 200.9h0M118.7 201.2h0M121.5 200.8h0M125.3 201.5h0M124.0 201.0h0M121.0 200.7h0M121.6 201.0h0M120.5 201.3h0M129.5 201.5h0M118.6 201.5h0M124.4 202.1h0M125.6 202.2h0M126.9 202.1h0M127.1 202.2h0M126.6 202.2h0M124.3 201.5h0M120.6 202.1h0M117.0 202.0h0M120.8 202.8h0M116.6 202.5h0M126.3 202.5h0M122.3 202.9h0M125.9 203.0h0M122.5 202.9h0M118.6 202.7h0M118.8 202.9h0M121.0 203.0h0M121.0 202.2h0M122.5 203.7h0M121.8 203.5h0M119.7 203.2h0M119.2 203.6h0M125.3 203.4h0M126.2 203.4h0M126.2 203.1h0M116.3 203.4h0M115.6 203.7h0M125.5 203.4h0M127.9 204.4h0M123.5 204.6h0M117.9 204.5h0M122.7 204.0h0M116.0 203.9h0M121.3 204.7h0M125.1 204.1h0M122.7 204.8h0M123.3 204.1h0M119.1 204.7h0M126.8 204.6h0M121.0 204.9h0M124.9 205.3h0M122.9 204.7h0M118.2 205.2h0M123.4 204.8h0M123.5 205.1h0M123.3 205.1h0M119.2 205.0h0M128.0 204.8h0M120.8 206.4h0M126.7 205.9h0M120.7 206.2h0M121.6 206.2h0M121.0 205.9h0M122.0 205.9h0M127.8 206.3h0M122.4 205.4h0M125.1 206.1h0M125.0 206.0h0M123.2 206.2h0M122.2 207.1h0M121.5 206.7h0M123.5 206.7h0M127.0 206.9h0M119.1 206.5h0M124.2 206.9h0M119.5 206.4h0M121.3 206.2h0M127.7 206.7h0M119.8 207.6h0M124.4 207.3h0M123.2 207.7h0M124.3 207.0h0M121.5 208.0h0M121.8 207.7h0M125.9 207.9h0M123.7 207.1h0M124.7 207.1h0M117.0 207.9h0M122.9 208.0h0M123.0 208.7h0M122.5 208.1h0M118.5 208.8h0M121.6 208.6h0M119.4 208.4h0M124.0 207.9h0M126.5 208.0h0M121.2 207.8h0M123.5 208.1h0M124.9 209.0h0M130.2 209.5h0M127.2 208.7h0M124.5 209.1h0M118.2 209.4h0M127.2 209.5h0M122.0 209.3h0M120.7 209.1h0M125.7 208.8h0M121.6 209.3h0M123.4 210.4h0M123.8 210.1h0M121.5 210.1h0M123.7 210.1h0M117.6 209.6h0M124.4 209.8h0M121.9 210.2h0M121.3 210.1h0M122.6 209.9h0M119.7 209.6h0M123.3 210.5h0M119.7 211.1h0M119.6 211.1h0M129.8 210.9h0M122.7 210.8h0M118.0 210.2h0M119.5 210.6h0M118.1 210.7h0M123.7 210.8h0M125.5 210.5h0M121.4 211.7h0M123.7 211.2h0M121.3 211.2h0M123.2 211.7h0M120.9 211.6h0M122.0 211.2h0M122.0 211.6h0M122.0 211.7h0M123.5 211.6h0M120.1 211.7h0M122.6 212.3h0M123.0 212.7h0M122.1 212.0h0M123.4 212.5h0M120.9 212.0h0M126.3 212.5h0M124.0 212.6h0M125.7 212.6h0M121.3 212.1h0M125.6 212.0h0M120.4 213.5h0M121.6 213.3h0M124.8 212.6h0M120.2 213.2h0M123.4 213.5h0M120.7 213.6h0M121.0 213.2h0M122.7 212.6h0M126.1 213.3h0M121.7 213.2h0M119.0 213.6h0M118.6 213.8h0M118.3 214.3h0M122.9 213.5h0M123.8 214.3h0M125.2 213.6h0M120.0 213.7h0M120.3 214.1h0M125.8 214.2h0M121.5 213.6h0M120.7 214.4h0M122.1 215.0h0M121.0 214.8h0M116.2 214.3h0M117.8 214.5h0M125.2 214.7h0M122.9 214.9h0M125.4 214.7h0M121.1 214.6h0M118.4 214.4h0M118.1 215.3h0M116.2 215.6h0M120.3 216.0h0M116.3 215.1h0M116.4 215.6h0M120.4 215.1h0M120.0 215.6h0M121.6 215.1h0M119.0 215.8h0M121.6 215.4h0M120.5 215.9h0M122.7 216.2h0M125.7 216.6h0M118.3 216.7h0M122.8 216.5h0M121.9 216.2h0M119.5 216.6h0M121.4 215.8h0M122.0 216.6h0M120.5 216.3h0M117.2 216.6h0M119.9 217.2h0M118.9 216.6h0M120.3 217.3h0M117.0 216.8h0M119.6 217.5h0M119.8 217.6h0M116.1 217.0h0M117.3 216.9h0M117.7 217.0h0M112.1 217.8h0M121.7 217.7h0M118.3 217.4h0M118.4 218.1h0M116.3 217.9h0M114.6 218.4h0M119.7 217.9h0M117.0 217.8h0M116.7 218.2h0M114.8 218.3h0M120.4 218.3h0M119.2 218.7h0M113.5 218.3h0M116.5 218.5h0M119.5 218.3h0M121.5 218.9h0M116.3 219.0h0M115.3 218.6h0M116.9 218.5h0M111.1 218.6h0M114.5 219.0h0M111.1 220.0h0M117.6 219.9h0M119.0 219.4h0M115.4 219.3h0M117.6 219.6h0M116.3 219.3h0M118.3 219.3h0M118.9 219.6h0M118.3 219.6h0M115.1 219.9h0M114.3 220.0h0M114.7 220.2h0M109.9 220.7h0M116.8 220.2h0M121.7 220.0h0M115.4 220.0h0M114.8 220.2h0M114.7 220.2h0M118.6 220.2h0M114.7 220.9h0M114.8 221.1h0M114.6 221.2h0M112.8 221.3h0M113.2 221.1h0M118.0 221.4h0M119.8 220.7h0M117.6 221.5h0M112.6 221.0h0M113.4 220.8h0M117.2 221.9h0M114.8 221.9h0M120.3 221.4h0M116.6 221.9h0M117.0 221.6h0M116.9 222.0h0M117.6 222.3h0M116.3 222.3h0M119.1 221.7h0M114.5 221.7h0M115.8 222.7h0M110.9 222.4h0M120.7 222.7h0M116.6 223.1h0M114.2 222.4h0M117.7 222.8h0M119.2 222.5h0M117.4 222.3h0M117.8 222.7h0M116.7 222.3h0M118.7 223.4h0M114.7 223.5h0M118.1 223.4h0M121.6 223.5h0M118.2 223.2h0M116.6 223.3h0M118.3 223.8h0M120.1 223.1h0M114.1 223.5h0M123.4 223.5h0M118.6 224.2h0M119.9 224.2h0M119.5 223.8h0M125.2 224.1h0M120.0 224.3h0M116.7 224.1h0M115.8 224.3h0M116.6 224.5h0M116.4 224.5h0M118.2 224.3h0M124.5 225.0h0M124.6 224.9h0M119.1 225.4h0M120.9 224.6h0M119.5 225.2h0M119.0 224.9h0M121.2 225.6h0M117.6 225.0h0M119.6 225.2h0M119.8 225.3h0M117.4 225.8h0M124.4 225.4h0M117.9 225.6h0M122.1 226.3h0M117.0 225.6h0M120.3 226.2h0M121.9 226.0h0M118.9 225.4h0M121.0 226.1h0M123.2 226.0h0M125.9 226.4h0M122.1 226.5h0M119.6 227.2h0M122.9 227.2h0M120.6 226.3h0M119.2 226.2h0M119.5 226.8h0M119.7 226.6h0M123.8 226.5h0M124.1 227.2h0M120.1 227.4h0M121.9 227.5h0M123.9 227.2h0M117.7 227.1h0M125.1 227.4h0M124.5 227.3h0M127.0 227.8h0M117.3 227.9h0M123.9 227.7h0M126.7 227.8h0M118.8 228.0h0M119.3 228.6h0M123.9 227.9h0M124.9 228.2h0M121.4 227.9h0M125.0 228.5h0M121.9 228.4h0M124.6 228.1h0M121.9 228.3h0M124.1 228.2h0M122.4 229.2h0M122.6 228.8h0M122.9 229.4h0M123.4 228.8h0M123.9 229.2h0M120.5 229.2h0M123.0 229.6h0M126.6 229.3h0M125.3 229.2h0M124.8 229.3h0M122.8 229.7h0M123.7 230.4h0M125.1 230.1h0M124.8 230.3h0M120.9 229.7h0M122.5 229.7h0M127.8 229.7h0M122.6 230.0h0M121.3 230.1h0M123.6 230.3h0M122.9 230.6h0M123.1 231.0h0M121.7 230.4h0M129.0 230.6h0M120.2 230.7h0M120.8 230.9h0M124.2 230.3h0M128.5 231.2h0M127.0 230.3h0M127.1 231.1h0M122.9 231.4h0M125.5 231.8h0M126.0 231.2h0M126.7 231.9h0M127.1 232.0h0M124.0 231.1h0M127.4 231.8h0M121.1 231.3h0M123.5 231.3h0M124.9 231.0h0M123.8 232.7h0M126.1 232.3h0M126.8 232.0h0M125.5 232.7h0M126.8 232.3h0M122.6 232.5h0M127.0 232.5h0M127.1 232.4h0M126.1 232.7h0M124.6 231.9h0M124.5 232.9h0M123.5 233.2h0M125.6 233.1h0M124.9 232.6h0M123.5 232.6h0M125.1 233.5h0M127.1 233.1h0M124.5 233.5h0M126.2 232.7h0M124.3 233.1h0M122.1 234.0h0M124.3 234.1h0M120.9 234.2h0M125.0 233.8h0M128.5 234.0h0M119.9 234.3h0M124.0 233.9h0M129.4 233.6h0M130.0 233.8h0M119.4 234.0h0M121.5 234.3h0M126.6 234.4h0M126.2 234.2h0M123.7 235.1h0M128.2 234.2h0M126.7 234.5h0M127.0 234.6h0M125.2 234.8h0M126.9 234.5h0M128.5 234.3h0M119.8 235.1h0M125.5 235.9h0M123.2 235.5h0M123.1 235.8h0M123.5 235.1h0M126.2 235.4h0M126.1 235.5h0M123.9 235.7h0M123.1 235.4h0M124.6 235.5h0M124.3 236.2h0M124.9 236.3h0M126.8 236.6h0M121.9 236.3h0M122.6 236.7h0M126.8 236.6h0M124.4 236.3h0M128.4 236.0h0M125.4 236.2h0M122.4 236.4h0M124.2 236.9h0M123.2 236.8h0M127.0 237.1h0M123.5 237.5h0M125.6 236.9h0M128.0 236.9h0M126.1 237.2h0M124.9 237.1h0M130.0 237.5h0M123.5 236.9h0M130.5 237.4h0M124.4 237.5h0M125.7 238.0h0M125.9 237.4h0M126.6 238.2h0M128.0 237.5h0M127.9 238.4h0M126.5 238.1h0M126.3 237.6h0M127.3 237.9h0M126.2 239.0h0M120.5 238.3h0M126.4 239.1h0M125.0 238.6h0M124.2 238.8h0M128.1 238.8h0M125.3 238.9h0M128.2 239.0h0M125.3 239.1h0M122.6 238.5h0M126.9 239.1h0M126.6 239.7h0M128.5 239.3h0M129.0 239.2h0M124.9 239.7h0M128.4 239.5h0M131.1 239.5h0M129.8 239.5h0M127.6 239.4h0M123.8 239.5h0M128.7 240.7h0M130.3 240.8h0M123.8 240.7h0M127.5 239.9h0M129.4 239.9h0M126.7 240.1h0M128.6 240.3h0M124.5 240.0h0M124.2 239.9h0M128.8 240.1h0M130.9 240.9h0M126.1 240.8h0M123.6 240.8h0M126.6 241.4h0M129.2 241.3h0M131.2 241.0h0M127.2 240.9h0M126.1 240.7h0M127.7 241.0h0M125.3 240.9h0M129.2 242.3h0M126.7 241.9h0M130.2 241.6h0M125.2 242.4h0M127.9 241.7h0M129.7 242.2h0M128.8 242.0h0M134.0 242.2h0M131.9 242.1h0M129.3 242.3h0M128.4 242.5h0M125.1 242.4h0M128.7 243.0h0M124.8 242.5h0M129.7 243.0h0M129.1 242.9h0M128.1 242.4h0M128.2 242.3h0M127.6 242.5h0M128.8 242.5h0M129.9 243.8h0M124.7 243.0h0M124.9 243.1h0M128.2 243.2h0M124.8 243.9h0M120.4 243.5h0M124.1 244.0h0M124.1 243.9h0M124.8 243.2h0M129.7 243.3h0M130.3 244.6h0M128.9 243.8h0M128.6 243.9h0M126.3 244.7h0M130.4 244.0h0M124.7 244.4h0M128.2 244.7h0M123.0 243.9h0M127.4 244.0h0M124.5 244.7h0M124.7 245.3h0M127.9 244.8h0M125.4 244.8h0M126.8 244.7h0M124.0 244.9h0M126.9 244.9h0M124.8 245.1h0M123.4 244.8h0M123.7 245.3h0M123.7 244.9h0M127.9 246.4h0M127.7 245.7h0M126.0 245.8h0M124.4 246.3h0M125.6 245.5h0M126.1 245.7h0M124.5 245.4h0M123.8 245.6h0M123.8 245.8h0M126.8 246.4h0M121.6 246.4h0M119.4 246.4h0M125.1 246.6h0M125.1 247.0h0M127.6 247.0h0M126.3 247.2h0M122.2 246.3h0M125.5 247.0h0M121.4 246.8h0M122.9 246.8h0M125.0 247.5h0M125.4 247.8h0M129.0 247.7h0M121.6 247.3h0M127.7 247.5h0M124.5 247.4h0M124.3 247.1h0M127.9 247.3h0M124.6 248.0h0M120.4 247.9h0M126.1 248.4h0M121.8 247.8h0M120.8 248.4h0M122.4 248.8h0M124.7 248.1h0M123.5 248.4h0M122.0 248.5h0M124.0 248.4h0M123.9 248.3h0M123.5 248.7h0M121.5 249.1h0M128.1 249.2h0M129.1 249.5h0M122.8 249.6h0M125.0 248.7h0M124.8 249.4h0M122.1 249.0h0M126.4 249.5h0M125.8 249.5h0M125.5 249.2h0M121.2 250.0h0M124.2 249.8h0M123.8 249.5h0M122.9 250.1h0M127.2 250.0h0M128.2 249.9h0M125.3 249.9h0M125.4 249.9h0M121.3 249.5h0M123.8 249.7h0M122.6 251.1h0M126.4 250.5h0M125.0 250.9h0M125.0 250.8h0M126.3 250.5h0M125.7 250.7h0M124.2 250.6h0M124.9 250.4h0M121.7 250.3h0M127.4 251.2h0M129.4 251.1h0M122.6 251.8h0M126.5 251.5h0M123.4 251.7h0M126.2 251.9h0M123.5 251.0h0M125.5 251.1h0M126.4 251.4h0M128.7 251.1h0M123.2 251.2h0M123.6 252.3h0M126.3 251.9h0M125.4 252.7h0M123.1 252.0h0M125.0 252.0h0M123.9 252.6h0M122.6 252.1h0M121.8 251.9h0M125.6 252.4h0M125.0 252.1h0M124.1 252.8h0M121.7 253.2h0M127.2 253.3h0M125.3 253.3h0M124.5 252.7h0M126.7 253.5h0M123.2 252.7h0M129.2 253.1h0M127.4 252.8h0M123.8 252.8h0M125.5 253.5h0M126.7 253.5h0M123.8 254.1h0M125.0 254.3h0M122.7 254.1h0M125.6 254.1h0M124.5 253.7h0M127.5 253.8h0M127.4 253.7h0M126.9 254.3h0M124.4 254.5h0M125.1 254.4h0M128.4 254.6h0M129.1 255.2h0M126.8 255.2h0M126.4 254.2h0M127.0 254.4h0M127.6 254.8h0M125.2 255.0h0M130.0 254.3h0M126.9 255.3h0M128.8 255.9h0M127.7 255.3h0M128.3 255.9h0M128.6 255.9h0M128.5 255.7h0M130.8 255.2h0M126.6 255.0h0M125.6 255.8h0M125.8 255.6h0M126.0 256.2h0M126.4 256.3h0M127.3 255.9h0M125.3 256.5h0M125.4 256.2h0M124.5 256.2h0M125.2 256.5h0M123.7 256.3h0M125.9 256.2h0M126.7 256.0h0M128.0 257.0h0M127.9 256.6h0M126.2 256.6h0M129.9 256.8h0M128.3 256.8h0M124.8 256.8h0M129.1 256.7h0M126.1 257.2h0M128.0 256.9h0M127.0 257.3h0M128.2 257.5h0M125.8 257.8h0M126.8 257.5h0M123.7 257.6h0M131.8 257.5h0M126.1 257.5h0M128.9 258.0h0M128.9 258.3h0M128.2 258.3h0M124.5 258.3h0M124.4 258.2h0M129.2 258.2h0M125.5 258.4h0M131.3 258.3h0M129.8 258.3h0M131.5 258.6h0M127.8 258.5h0M130.3 258.9h0M122.8 259.1h0M128.1 258.3h0M125.7 259.5h0M129.0 259.7h0M127.6 259.8h0M125.2 259.5h0M124.9 259.7h0M128.1 259.3h0M126.7 259.0h0M127.3 259.3h0M127.0 259.6h0M123.6 259.8h0M123.8 260.7h0M128.4 260.1h0M128.7 260.3h0M129.6 260.8h0M126.1 260.0h0M129.8 260.2h0M125.4 260.4h0M127.3 260.0h0M127.6 260.1h0M129.3 260.6h0M127.9 261.2h0M129.8 261.2h0M127.4 260.9h0M129.6 260.7h0M132.1 260.7h0M126.1 260.7h0M126.7 260.9h0M129.5 261.1h0M128.3 260.9h0M125.1 261.2h0M131.1 262.1h0M131.0 261.6h0M131.2 261.5h0M125.2 262.1h0M131.1 262.2h0M130.7 262.0h0M126.6 262.1h0M132.1 261.7h0M128.2 261.8h0M128.9 261.4h0M127.8 263.1h0M127.3 262.7h0M127.1 262.7h0M133.4 262.5h0M132.2 263.1h0M132.9 262.4h0M129.9 263.0h0M131.4 262.7h0M131.7 263.0h0M130.7 263.1h0M128.4 263.3h0M131.5 263.8h0M128.4 263.5h0M126.4 263.4h0M131.1 263.1h0M129.7 263.7h0M130.6 263.1h0M132.5 263.5h0M128.1 263.5h0M129.4 263.7h0M133.3 264.2h0M127.5 264.1h0M128.6 264.6h0M129.2 264.3h0M129.5 264.4h0M130.0 263.9h0M130.1 263.8h0M127.3 264.2h0M131.3 264.7h0M128.7 263.8h0M130.3 265.3h0M131.2 265.1h0M130.6 265.1h0M131.3 264.6h0M130.2 265.1h0M133.3 265.5h0M131.7 265.2h0M132.1 265.0h0M128.3 265.6h0M128.1 264.8h0M132.4 266.1h0M134.0 266.0h0M130.9 266.2h0M130.7 265.4h0M134.0 266.1h0M132.4 265.8h0M127.7 266.3h0M132.0 266.0h0M130.1 265.4h0M129.6 265.9h0M133.4 266.7h0M131.4 266.3h0M132.1 267.2h0M133.4 267.1h0M131.4 266.7h0M133.0 266.4h0M133.1 266.5h0M134.4 266.9h0M134.7 266.4h0M135.1 266.6h0M135.0 267.2h0M130.5 267.1h0M133.1 267.9h0M131.9 267.2h0M134.4 267.8h0M133.5 267.5h0M133.0 267.5h0M126.7 267.7h0M130.2 267.3h0M132.8 267.1h0M130.6 268.5h0M129.4 268.6h0M130.3 268.5h0M128.6 267.8h0M132.3 268.2h0M128.1 268.7h0M134.0 268.3h0M131.7 268.4h0M129.0 268.6h0M135.5 268.7h0M131.7 268.6h0M132.6 269.1h0M129.7 268.8h0M135.3 269.3h0M130.3 269.4h0M132.8 269.5h0M135.7 269.1h0M131.4 268.7h0M130.7 268.8h0M130.8 269.1h0M133.0 269.4h0M132.6 269.9h0M132.9 269.8h0M131.6 270.1h0M130.4 269.9h0M132.7 269.9h0M129.1 269.5h0M130.0 269.9h0M132.5 270.1h0M133.6 269.5h0M134.5 271.2h0M132.7 271.0h0M134.4 271.0h0M130.1 270.2h0M130.6 270.6h0M134.6 270.6h0M131.1 270.4h0M131.4 270.3h0M130.8 270.6h0M137.0 270.4h0M130.7 271.5h0M134.8 271.3h0M134.2 271.1h0M133.4 271.9h0M129.6 271.5h0M134.5 271.9h0M136.6 271.8h0M130.2 271.8h0M135.5 271.7h0M135.7 271.5h0M134.5 271.9h0M133.9 272.6h0M133.2 272.4h0M134.1 272.6h0M129.1 272.0h0M132.4 272.6h0M135.0 271.9h0M134.6 272.6h0M134.2 272.3h0M135.1 272.2h0M133.8 273.3h0M137.1 273.5h0M135.7 272.8h0M133.2 272.7h0M138.0 272.8h0M129.8 273.6h0M134.9 273.5h0M132.8 273.5h0M132.7 273.0h0M133.1 272.8h0M131.4 274.0h0M138.5 273.4h0M138.3 274.0h0M135.8 273.7h0M136.9 273.8h0M136.0 274.3h0M130.9 273.9h0M134.5 274.2h0M136.8 274.0h0M131.7 274.3h0M136.0 274.4h0M138.9 274.3h0M134.9 274.3h0M135.1 274.7h0M139.9 274.5h0M136.5 274.3h0M134.2 275.0h0M136.3 274.5h0M138.9 274.8h0M135.7 274.4h0M140.6 275.1h0M139.4 275.5h0M136.6 275.1h0M134.4 275.1h0M135.9 275.8h0M143.2 275.0h0M137.3 275.2h0M133.3 276.0h0M136.1 275.5h0M140.0 275.8h0M138.3 276.3h0M133.6 276.1h0M139.2 276.7h0M138.7 276.0h0M137.1 275.9h0M137.3 276.8h0M135.8 276.0h0M133.4 276.1h0M134.6 276.1h0M139.1 276.2h0M133.0 277.3h0M135.0 277.3h0M134.0 276.6h0M129.7 277.1h0M137.5 277.4h0M133.5 276.7h0M132.3 277.2h0M131.9 277.4h0M133.6 277.0h0M130.2 276.8h0M132.8 278.1h0M133.7 277.9h0M133.1 278.2h0M135.7 277.6h0M128.5 277.8h0M133.7 277.5h0M132.4 278.0h0M132.9 277.9h0M135.3 278.3h0M135.7 277.9h0M138.6 278.6h0M132.1 278.6h0M127.2 278.5h0M130.4 278.5h0M130.5 279.2h0M132.1 279.1h0M132.8 279.1h0M132.3 278.3h0M127.2 278.7h0M129.2 278.5h0M131.6 279.4h0M135.2 279.8h0M139.2 279.1h0M128.4 279.0h0M133.8 279.2h0M128.1 279.4h0M131.9 279.6h0M135.5 279.1h0M130.0 280.0h0M130.4 279.6h0M130.9 279.9h0M127.2 279.9h0M130.7 280.4h0M136.2 280.2h0M129.4 280.2h0M134.4 280.8h0M132.2 280.0h0M134.9 280.4h0M133.3 280.6h0M134.3 280.7h0M135.4 280.7h0M135.8 281.2h0M133.5 281.3h0M136.8 281.6h0M133.9 281.2h0M131.1 281.0h0M127.4 280.8h0M135.2 280.7h0M130.1 281.0h0M131.5 280.8h0M137.2 282.2h0M136.7 282.3h0M133.8 282.0h0M135.5 282.0h0M134.3 281.7h0M140.1 281.5h0M136.7 281.6h0M132.4 282.2h0M134.5 281.5h0M134.9 282.4h0M136.7 282.8h0M134.7 282.9h0M132.9 282.4h0M137.2 282.9h0M135.0 283.0h0M138.1 282.5h0M134.0 282.7h0M136.4 282.9h0M132.8 282.4h0M134.5 282.6h0M140.2 283.7h0M136.7 283.8h0M134.4 283.6h0M137.8 283.5h0M134.3 283.9h0M138.1 283.2h0M138.5 283.5h0M133.0 283.7h0M136.8 283.5h0M139.7 283.7h0M133.6 283.8h0M137.4 283.9h0M135.9 284.0h0M138.0 284.3h0M134.5 284.5h0M133.1 284.1h0M137.1 284.0h0M138.1 284.0h0M137.6 284.4h0M138.5 284.5h0M138.8 285.3h0M137.4 285.2h0M140.4 285.2h0M133.8 284.8h0M143.8 285.2h0M139.1 285.0h0M138.8 284.9h0M135.4 285.5h0M138.6 284.9h0M133.8 285.2h0M140.0 286.0h0M139.4 286.1h0M136.2 285.8h0M142.1 285.6h0M141.1 285.7h0M137.8 285.9h0M140.0 285.6h0M140.4 286.1h0M141.4 285.6h0M141.2 286.3h0M138.5 286.3h0M145.2 286.3h0M142.2 286.7h0M140.9 286.7h0M142.6 286.9h0M143.1 286.8h0M140.9 287.1h0M139.4 286.2h0M142.1 286.7h0M141.7 286.8h0M138.9 287.5h0M140.4 288.0h0M141.6 287.2h0M140.5 287.6h0M136.3 287.4h0M141.2 288.0h0M140.0 287.3h0M139.1 287.1h0M141.4 287.9h0M139.6 287.9h0M144.0 288.5h0M141.7 288.0h0M143.5 288.4h0M141.5 288.0h0M144.5 288.0h0M140.3 288.6h0M143.9 288.2h0M145.2 288.0h0M140.8 288.6h0M142.3 288.6h0M143.2 289.3h0M141.7 288.9h0M144.0 289.0h0M143.3 289.2h0M143.7 288.7h0M145.2 288.7h0M143.1 289.0h0M142.1 289.2h0M147.1 289.0h0M141.7 288.9h0M142.4 289.9h0M145.9 290.4h0M148.1 289.8h0M143.0 289.5h0M145.1 289.8h0M143.1 289.7h0M142.7 290.3h0M142.3 289.7h0M141.6 290.3h0M147.7 290.3h0M147.1 291.1h0M141.9 290.7h0M146.6 290.9h0M148.0 290.9h0M145.0 290.9h0M146.8 290.9h0M145.7 290.2h0M143.8 290.9h0M143.5 290.2h0M145.7 291.0h0M145.6 291.2h0M145.9 291.4h0M147.9 291.0h0M142.9 291.4h0M146.2 291.5h0M146.5 291.3h0M145.7 291.7h0M147.1 291.6h0M145.8 291.2h0M142.1 291.6h0M146.1 292.8h0M148.8 292.0h0M148.8 291.8h0M146.4 292.6h0M145.4 292.7h0M146.1 292.2h0M147.6 292.4h0M147.2 292.1h0M146.4 292.8h0M147.2 292.1h0M147.9 293.5h0M145.0 292.7h0M147.3 292.8h0M146.9 292.8h0M149.3 293.5h0M145.0 293.3h0M146.8 292.8h0M145.2 293.5h0M147.7 292.7h0M148.2 292.9h0" stroke="#858585" stroke-width="2.4" stroke-linecap="round" fill="none"/>
<path d="M231.2 11.0h0M233.5 11.5h0M238.1 10.8h0M218.7 10.8h0M242.8 11.4h0M223.3 11.1h0M222.6 11.2h0M223.0 12.1h0M238.7 12.4h0M235.6 12.0h0M225.9 12.3h0M241.7 12.4h0M224.9 12.0h0M235.8 12.1h0M239.2 12.1h0M215.7 12.1h0M246.0 13.7h0M223.0 13.6h0M226.5 13.7h0M224.7 13.1h0M222.0 13.6h0M230.0 13.3h0M227.4 13.3h0M211.7 13.5h0M224.8 13.1h0M214.6 15.1h0M232.5 14.7h0M210.2 14.7h0M216.1 14.5h0M221.5 14.7h0M233.0 15.1h0M219.2 14.6h0M217.2 14.6h0M232.7 14.8h0M215.2 14.7h0M223.6 14.8h0M233.7 15.0h0M236.0 14.8h0M233.6 15.1h0M217.0 16.2h0M241.5 16.2h0M223.7 15.8h0M221.4 15.9h0M231.0 16.3h0M211.7 16.2h0M224.6 15.8h0M232.9 16.0h0M236.8 16.2h0M221.3 16.1h0M218.4 15.7h0M205.8 18.0h0M222.1 17.5h0M226.0 18.0h0M234.4 17.6h0M223.9 17.4h0M223.2 18.7h0M228.5 18.7h0M226.2 19.1h0M223.2 19.1h0M207.3 19.3h0M231.8 18.6h0M230.4 18.7h0M215.8 19.9h0M226.4 20.2h0M225.7 20.0h0M221.6 20.3h0M222.6 19.8h0M227.9 19.9h0M236.0 20.0h0M224.6 20.3h0M225.6 19.9h0M224.3 20.5h0M223.1 19.9h0M235.7 20.2h0M218.8 20.5h0M234.7 21.3h0M209.4 21.4h0M226.1 21.5h0M235.3 21.1h0M204.7 21.3h0M219.5 22.5h0M216.6 22.8h0M212.6 22.8h0M203.9 22.5h0M214.0 22.4h0M202.8 22.7h0M223.0 22.8h0M233.3 22.6h0M222.7 22.5h0M214.2 22.4h0M231.9 22.9h0M225.7 23.0h0M226.8 23.0h0M228.6 22.5h0M207.4 23.8h0M217.6 24.3h0M212.0 24.1h0M229.0 24.1h0M214.4 23.9h0M223.1 24.2h0M226.3 25.3h0M229.4 25.6h0M218.9 25.0h0M217.1 25.1h0M205.4 25.6h0M204.2 25.4h0M223.1 25.3h0M230.3 25.4h0M227.4 26.8h0M215.7 27.0h0M220.5 26.6h0M227.6 26.7h0M226.4 26.9h0M231.7 27.1h0M223.1 26.9h0M225.1 26.9h0M212.7 27.5h0M239.6 27.6h0M240.4 28.0h0M249.7 27.6h0M236.3 27.9h0M213.6 27.9h0M232.0 27.5h0M225.4 27.6h0M227.6 27.5h0M215.6 27.4h0M232.9 27.6h0M221.1 27.8h0M234.9 27.7h0M246.9 27.5h0M237.6 29.3h0M222.8 29.3h0M240.7 28.8h0M255.4 29.0h0M213.7 28.8h0M204.3 28.9h0M255.0 29.0h0M238.4 29.2h0M228.5 29.3h0M216.6 29.2h0M223.6 29.0h0M226.0 28.9h0M223.7 29.3h0M221.0 30.3h0M221.8 30.6h0M253.0 30.2h0M252.6 30.6h0M233.6 30.3h0M253.9 30.2h0M245.6 30.7h0M241.1 30.2h0M240.1 30.4h0M237.4 30.2h0M203.7 30.6h0M198.1 30.5h0M211.2 32.0h0M242.5 31.7h0M249.5 32.0h0M239.3 31.5h0M240.3 31.6h0M230.0 31.6h0M228.3 32.0h0M219.3 31.5h0M247.4 31.5h0M235.2 32.1h0M234.2 31.7h0M199.7 32.1h0M227.0 31.6h0M220.4 32.0h0M241.4 32.0h0M225.1 32.0h0M229.8 31.6h0M234.8 32.8h0M232.0 33.4h0M236.2 33.1h0M234.7 33.0h0M251.2 33.1h0M244.3 33.3h0M245.1 33.2h0M248.5 33.0h0M239.8 32.9h0M250.1 33.3h0M234.3 33.1h0M255.8 32.9h0M238.4 33.3h0M235.9 32.7h0M230.3 34.1h0M213.6 34.4h0M243.8 34.5h0M229.7 34.6h0M246.2 34.2h0M246.1 34.6h0M233.4 34.3h0M230.2 34.6h0M224.1 34.4h0M249.9 34.4h0M239.5 34.1h0M239.5 34.5h0M224.4 35.4h0M214.4 35.6h0M208.6 35.9h0M230.4 36.0h0M242.7 35.8h0M234.0 35.5h0M208.8 35.9h0M242.1 35.5h0M240.8 35.7h0M231.5 36.0h0M243.6 36.0h0M240.0 35.9h0M240.1 36.0h0M218.7 35.8h0M223.8 36.9h0M230.5 37.2h0M202.4 37.2h0M244.2 37.2h0M244.0 37.0h0M217.8 37.3h0M210.2 36.8h0M236.1 36.8h0M228.2 37.3h0M241.4 37.2h0M234.0 37.2h0M224.7 37.0h0M214.2 37.0h0M215.7 38.0h0M233.5 38.4h0M238.0 38.0h0M197.5 38.1h0M203.1 38.2h0M224.7 38.6h0M220.2 38.4h0M229.1 38.3h0M223.3 38.3h0M232.8 38.0h0M199.0 38.4h0M207.8 38.4h0M219.3 38.5h0M226.4 38.1h0M207.7 37.9h0M203.4 38.2h0M228.2 38.6h0M228.9 38.2h0M224.2 38.3h0M201.4 38.3h0M221.9 39.4h0M207.1 39.4h0M201.9 40.0h0M212.6 40.0h0M213.5 39.7h0M209.3 39.8h0M214.9 39.3h0M207.6 39.6h0M202.5 39.4h0M217.7 39.7h0M212.4 39.8h0M227.6 39.8h0M243.0 40.0h0M216.5 39.7h0M197.2 40.9h0M225.9 40.7h0M237.5 40.7h0M225.3 40.6h0M245.1 40.9h0M190.3 40.5h0M204.1 42.2h0M220.8 42.2h0M203.4 41.9h0M232.3 41.8h0M220.9 42.0h0M243.1 42.0h0M238.7 43.7h0M205.6 43.5h0M246.4 43.1h0M217.7 43.3h0M218.1 43.3h0M245.8 43.6h0M211.9 43.0h0M185.5 43.2h0M230.3 43.3h0M209.9 43.3h0M252.5 43.5h0M224.7 43.5h0M239.8 43.5h0M245.6 43.1h0M245.3 43.6h0M237.5 43.6h0M201.6 43.1h0M229.4 43.1h0M208.0 44.7h0M232.0 44.7h0M229.9 45.0h0M205.7 44.8h0M219.5 45.2h0M249.4 44.6h0M226.8 45.3h0M239.1 45.0h0M232.1 44.7h0M217.9 44.9h0M195.2 45.0h0M182.9 45.1h0M246.5 44.9h0M242.3 45.2h0M206.8 46.0h0M225.7 46.0h0M216.8 45.9h0M224.4 46.2h0M225.9 46.1h0M241.5 46.3h0M254.8 46.1h0M202.0 45.9h0M174.3 47.2h0M177.5 47.5h0M199.9 47.8h0M168.3 47.7h0M217.1 47.7h0M156.2 47.6h0M157.0 47.8h0M170.4 47.4h0M188.1 47.2h0M196.9 47.5h0M187.2 48.5h0M205.9 48.6h0M137.2 49.1h0M198.1 49.1h0M140.3 48.8h0M177.5 49.1h0M172.1 48.8h0M204.8 48.9h0M204.8 49.0h0M190.6 49.1h0M194.5 49.1h0M210.2 49.0h0M187.3 49.0h0M197.5 48.5h0M183.1 48.7h0M185.8 49.0h0M174.7 49.7h0M194.7 49.7h0M167.2 49.9h0M178.0 50.2h0M160.0 49.9h0M178.3 50.2h0M175.4 50.3h0M173.9 50.0h0M174.2 49.8h0M140.8 50.1h0M187.0 50.0h0M167.9 49.9h0M152.6 49.8h0M188.9 49.7h0M159.5 49.9h0M186.5 50.2h0M173.2 51.7h0M160.8 51.6h0M175.5 51.7h0M162.9 51.2h0M158.9 51.2h0M167.2 51.4h0M173.0 51.4h0M179.4 51.2h0M144.4 52.4h0M176.9 52.5h0M165.6 52.8h0M170.4 52.6h0M153.4 52.4h0M157.0 52.8h0M181.9 52.5h0M159.6 52.9h0M178.5 52.3h0M158.6 52.5h0M167.0 52.9h0M166.0 52.7h0M165.5 52.5h0M171.5 52.7h0M140.0 52.7h0M146.8 52.8h0M180.8 53.5h0M144.3 53.5h0M143.7 53.9h0M142.4 54.1h0M141.6 53.9h0M187.2 53.8h0M164.5 53.6h0M170.1 53.9h0M160.7 53.5h0M129.1 53.5h0M147.0 53.4h0M184.7 53.7h0M193.7 54.1h0M175.7 53.4h0M138.5 54.1h0M128.9 54.0h0M151.8 54.1h0M146.0 53.5h0M175.8 53.7h0M181.6 53.4h0M172.3 53.5h0M147.9 53.5h0M192.4 53.7h0M152.0 53.9h0M184.1 53.4h0M169.2 53.7h0M159.6 54.9h0M151.5 54.7h0M180.5 54.8h0M164.7 55.2h0M145.0 55.3h0M192.0 54.8h0M170.8 55.1h0M187.7 54.9h0M136.9 55.0h0M152.8 55.0h0M183.1 55.3h0M182.7 56.6h0M145.7 56.7h0M180.6 56.4h0M135.7 56.5h0M180.0 56.7h0M170.1 56.3h0M172.7 56.4h0M147.8 56.8h0M185.6 56.7h0M181.5 56.3h0M191.3 56.7h0M149.0 56.6h0M189.9 56.7h0M176.6 56.1h0M166.9 56.4h0M187.0 56.7h0M162.5 56.6h0M158.1 56.5h0M133.2 56.7h0M150.8 56.8h0M181.2 56.2h0M182.3 56.3h0M182.3 56.6h0M178.2 56.5h0M134.0 56.4h0M192.5 56.3h0M171.7 57.9h0M162.4 58.1h0M183.8 58.2h0M164.8 57.8h0M170.7 57.9h0M160.9 57.7h0M165.8 57.8h0M158.0 57.7h0M145.5 57.7h0M133.3 58.1h0M141.3 57.7h0M188.9 58.0h0M173.0 58.0h0M184.1 58.0h0M168.0 57.7h0M175.0 57.7h0M156.5 58.3h0M155.8 57.8h0M154.9 59.3h0M163.3 59.1h0M150.4 59.1h0M164.8 59.0h0M142.4 59.3h0M134.8 58.8h0M159.3 59.3h0M138.0 58.9h0M132.4 58.9h0M168.7 59.1h0M146.0 58.9h0M157.5 60.3h0M162.3 60.5h0M157.8 60.2h0M152.0 60.3h0M168.3 60.7h0M161.8 60.3h0M152.3 60.4h0M157.5 60.6h0M157.0 60.1h0M142.3 60.7h0M157.6 60.3h0M135.2 60.7h0M154.3 60.6h0M148.7 60.5h0M145.3 60.4h0M169.6 60.1h0M127.6 60.6h0M164.2 60.1h0M156.1 60.1h0M139.2 60.1h0M160.9 60.2h0M129.4 60.7h0M159.3 60.1h0M142.5 60.4h0M149.6 60.2h0M144.5 60.6h0M141.2 62.0h0M130.9 61.5h0M137.4 61.7h0M151.1 61.7h0M160.1 61.5h0M160.2 62.1h0M144.5 62.0h0M127.3 61.9h0M151.6 61.6h0M141.8 61.9h0M146.6 61.5h0M169.1 62.8h0M128.4 63.2h0M165.5 62.9h0M154.2 62.7h0M146.4 63.3h0M172.3 62.6h0M150.7 62.9h0M163.7 63.0h0M175.9 63.2h0M164.3 63.0h0M163.8 62.8h0M157.9 62.8h0M178.1 63.1h0M165.3 63.1h0M173.1 63.2h0M135.9 63.3h0M165.3 63.1h0M158.0 62.8h0M153.4 62.8h0M174.0 62.8h0M158.9 63.2h0M141.9 64.2h0M127.3 63.9h0M162.8 64.0h0M181.6 64.4h0M159.7 64.2h0M145.0 64.2h0M151.5 64.3h0M147.7 64.5h0M155.1 64.5h0M175.8 63.8h0M174.9 64.4h0M160.7 65.7h0M150.6 65.7h0M176.3 65.3h0M143.3 65.1h0M136.0 65.1h0M150.6 65.6h0M168.8 65.4h0M161.3 65.6h0M174.4 65.3h0M128.1 65.6h0M185.3 65.1h0M167.9 65.5h0M159.4 65.2h0M143.9 65.2h0M173.6 65.3h0M162.5 65.7h0M166.0 65.5h0M173.6 65.8h0M179.1 65.3h0M179.8 65.7h0M158.2 65.5h0M178.4 66.9h0M160.0 67.0h0M171.7 66.9h0M132.4 67.1h0M149.3 67.0h0M176.6 66.8h0M158.3 66.8h0M141.2 67.0h0M171.9 66.9h0M177.3 66.8h0M159.4 67.1h0M155.4 66.8h0M139.1 67.1h0M143.1 67.1h0M165.8 66.7h0M138.6 68.4h0M153.0 68.0h0M163.0 68.5h0M157.5 68.2h0M145.1 68.5h0M155.8 68.4h0M177.9 68.1h0M161.0 68.2h0M144.8 68.0h0M171.1 68.2h0M165.1 68.0h0M160.7 68.2h0M185.8 68.1h0M133.9 68.6h0M166.2 68.0h0M172.4 68.3h0M125.1 68.0h0M169.6 68.2h0M156.8 69.3h0M174.1 69.5h0M146.9 69.2h0M143.8 69.3h0M161.6 69.4h0M183.0 69.6h0M164.6 69.2h0M175.2 69.6h0M166.1 69.4h0M151.7 69.6h0M154.0 69.5h0M181.9 69.4h0M174.9 69.6h0M161.9 69.5h0M165.4 69.9h0M163.8 69.6h0M172.6 70.9h0M152.1 70.9h0M173.5 70.7h0M184.2 70.9h0M146.1 70.9h0M186.8 71.1h0M160.4 70.7h0M143.2 70.6h0M141.1 70.9h0M155.2 70.8h0M152.9 70.7h0M140.8 71.8h0M185.7 72.2h0M173.7 72.0h0M192.6 72.2h0M167.2 72.3h0M185.1 72.0h0M165.6 72.3h0M170.0 72.2h0M181.4 71.9h0M196.1 72.3h0M165.3 72.1h0M168.9 71.7h0M184.8 71.8h0M144.3 72.3h0M175.4 72.2h0M194.3 72.3h0M184.6 72.3h0M169.4 72.1h0M146.2 72.2h0M165.5 71.9h0M173.6 72.3h0M176.3 73.2h0M193.8 73.2h0M155.4 73.6h0M199.5 73.1h0M191.3 73.2h0M193.5 73.0h0M154.4 73.3h0M201.1 73.4h0M142.3 73.0h0M193.7 73.5h0M203.4 73.6h0M150.9 73.6h0M168.5 73.4h0M156.8 73.0h0M192.9 73.1h0M170.4 73.0h0M183.1 73.2h0M188.2 73.2h0M186.3 73.2h0M162.1 73.3h0M187.0 73.0h0M166.0 74.6h0M174.0 74.9h0M186.0 75.1h0M186.7 75.0h0M178.8 74.6h0M191.0 74.5h0M185.5 74.9h0M197.3 75.0h0M159.4 75.9h0M161.6 76.0h0M157.7 75.9h0M160.0 75.8h0M172.5 76.1h0M149.8 76.1h0M155.6 76.3h0M174.1 75.9h0M173.2 75.7h0M174.8 76.0h0M169.5 76.1h0M161.2 76.2h0M168.2 75.8h0M171.4 76.3h0M145.0 75.6h0M169.3 75.6h0M161.6 76.1h0M169.3 76.2h0M186.5 77.2h0M181.3 77.0h0M127.2 76.9h0M182.7 77.4h0M159.5 77.2h0M159.5 77.0h0M173.6 76.9h0M185.8 77.1h0M157.4 77.3h0M161.5 77.3h0M184.6 76.9h0M178.5 78.6h0M169.0 78.5h0M168.8 78.6h0M179.1 78.7h0M146.6 78.5h0M162.9 78.7h0M152.5 78.9h0M176.9 78.8h0M181.1 78.5h0M163.8 78.8h0M175.7 78.8h0M159.5 78.5h0M170.6 78.6h0M150.0 78.5h0M171.2 78.6h0M163.9 78.5h0M182.1 78.4h0M167.3 78.5h0M167.6 78.6h0M159.2 78.4h0M162.2 78.7h0M183.9 80.1h0M145.2 79.9h0M176.5 80.4h0M154.6 80.0h0M164.8 79.8h0M185.1 80.3h0M160.2 80.3h0M183.4 80.2h0M183.1 81.1h0M159.1 81.6h0M147.2 81.6h0M171.1 81.3h0M159.3 81.0h0M184.9 81.3h0M164.1 81.2h0M176.7 81.1h0M165.1 81.6h0M151.2 81.1h0M152.5 81.5h0M159.4 81.4h0M178.9 81.5h0M134.8 81.0h0M168.0 81.6h0M181.7 81.2h0M147.2 81.2h0M177.3 81.4h0M146.8 81.1h0M140.7 81.6h0M175.0 81.1h0M154.5 82.2h0M142.3 82.2h0M165.4 82.8h0M182.4 82.7h0M169.6 82.6h0M143.4 82.5h0M162.2 82.2h0M163.0 82.3h0M134.7 82.7h0M177.8 82.1h0M155.8 82.5h0M170.2 82.5h0M165.3 82.6h0M159.3 82.4h0M171.4 82.5h0M179.4 82.3h0M177.4 83.9h0M155.4 83.4h0M167.7 83.9h0M130.3 83.4h0M142.7 83.6h0M154.0 83.7h0M141.9 83.5h0M161.7 84.0h0M176.7 83.3h0M147.6 83.6h0M133.3 83.5h0M167.1 83.6h0M173.3 83.6h0M128.4 83.8h0M139.6 83.9h0M137.2 85.4h0M165.6 84.9h0M167.0 85.4h0M153.6 85.2h0M131.7 85.1h0M147.5 85.0h0M144.3 85.0h0M147.5 85.3h0M153.0 85.6h0M166.7 85.4h0M143.9 85.1h0M156.0 85.3h0M158.3 85.5h0M177.2 85.1h0M181.0 85.0h0M147.1 85.5h0M159.9 85.2h0M162.7 85.0h0M159.2 85.5h0M130.9 85.3h0M150.9 85.4h0M174.3 85.4h0M159.9 85.5h0M163.2 85.5h0M144.7 85.1h0M144.6 85.1h0M148.9 86.4h0M163.8 86.7h0M151.3 86.7h0M161.3 86.7h0M145.4 86.8h0M148.6 86.7h0M161.4 86.8h0M156.3 86.7h0M155.3 86.1h0M160.6 86.2h0M160.0 86.3h0M147.6 87.5h0M146.5 87.4h0M155.5 87.8h0M161.9 87.8h0M154.2 87.9h0M140.7 87.9h0M146.1 87.4h0M138.0 87.5h0M155.6 87.9h0M136.0 87.4h0M155.7 87.3h0M138.2 87.3h0M151.3 87.8h0M153.4 88.0h0M160.2 87.9h0M155.2 89.1h0M146.4 89.1h0M148.0 88.8h0M146.9 89.3h0M152.1 88.9h0M153.7 89.0h0M157.9 89.0h0M148.5 88.7h0M134.2 89.1h0M145.8 89.0h0M157.6 89.2h0M147.9 89.2h0M133.8 88.8h0M149.3 89.0h0M152.1 89.0h0M155.5 88.9h0M155.7 90.8h0M154.1 90.6h0M130.5 90.6h0M154.3 90.6h0M145.6 90.2h0M147.7 90.7h0M144.7 90.7h0M153.2 90.4h0M147.9 90.8h0M140.9 90.4h0M143.8 90.5h0M138.2 90.5h0M140.4 90.8h0M155.8 90.3h0M150.3 90.5h0M162.6 90.5h0M137.4 90.4h0M165.9 90.2h0M138.0 90.6h0M152.1 90.7h0M161.4 90.7h0M138.4 91.5h0M159.8 91.5h0M141.3 91.5h0M154.3 91.7h0M158.5 91.3h0M156.9 91.5h0M157.9 91.6h0M150.3 91.6h0M149.4 91.8h0M157.0 91.6h0M158.9 91.4h0M129.0 91.4h0M157.6 91.5h0M153.5 91.7h0M142.4 91.6h0M164.1 92.6h0M155.7 92.6h0M158.3 92.9h0M139.7 93.3h0M136.5 92.9h0M146.7 92.8h0M161.1 92.6h0M130.9 92.6h0M177.7 94.0h0M138.4 94.4h0M153.3 94.2h0M161.3 94.0h0M139.8 94.3h0M161.4 94.1h0M160.7 94.0h0M154.3 94.1h0M144.8 94.0h0M150.6 94.2h0M150.7 94.3h0M163.0 94.5h0M156.1 94.4h0M145.0 94.0h0M153.3 94.5h0M140.8 94.5h0M153.9 94.2h0M162.7 93.9h0M156.5 95.5h0M157.2 95.3h0M172.2 95.9h0M168.5 95.9h0M159.5 95.3h0M154.1 95.5h0M159.7 95.9h0M181.8 95.8h0M176.6 95.9h0M176.4 95.6h0M137.1 95.4h0M164.4 96.9h0M168.9 96.8h0M148.7 96.9h0M160.3 96.6h0M179.4 96.7h0M164.0 97.0h0M172.7 97.2h0M155.7 97.0h0M160.8 97.3h0M154.1 97.0h0M156.5 97.3h0M156.4 96.9h0M162.1 97.0h0M158.1 97.2h0M170.2 96.9h0M169.7 97.0h0M174.8 96.8h0M173.1 96.6h0M182.2 98.3h0M165.0 98.1h0M164.5 98.2h0M152.7 98.5h0M160.9 98.4h0M160.9 98.4h0M163.6 98.6h0M163.0 98.0h0M166.6 98.3h0M161.3 98.4h0M166.9 98.0h0M155.7 98.1h0M170.4 98.4h0M170.6 98.1h0M175.6 98.2h0M139.8 98.2h0M159.4 98.6h0M170.4 98.4h0M168.7 98.3h0M141.2 98.4h0M135.4 98.6h0M170.1 98.5h0M158.2 98.3h0M161.6 98.0h0M176.5 98.3h0M173.4 98.1h0M142.4 99.4h0M166.4 99.7h0M159.9 99.3h0M175.0 99.4h0M160.2 99.4h0M155.1 99.6h0M157.2 99.6h0M136.8 99.5h0M160.8 99.6h0M157.1 99.6h0M137.8 99.5h0M149.2 99.5h0M145.5 99.6h0M160.5 99.2h0M167.7 99.5h0M145.9 99.4h0M170.8 99.1h0M145.1 99.5h0M155.1 99.2h0M142.4 99.3h0M148.1 99.4h0M170.8 99.7h0M162.4 99.3h0M159.1 99.3h0M166.4 99.4h0M165.4 99.3h0M154.8 100.7h0M166.4 100.8h0M148.4 101.0h0M173.0 100.6h0M173.4 100.9h0M156.9 100.9h0M150.1 100.5h0M164.5 101.0h0M165.4 100.5h0M161.0 101.0h0M169.8 100.5h0M147.4 100.7h0M176.8 100.5h0M173.1 100.9h0M142.9 100.6h0M158.9 100.6h0M170.5 100.7h0M147.8 100.9h0M149.5 100.9h0M163.0 100.7h0M171.6 101.0h0M168.2 102.4h0M166.5 102.0h0M143.6 101.9h0M161.9 102.3h0M158.7 102.0h0M155.6 101.8h0M147.1 102.3h0M159.0 101.9h0M146.6 101.8h0M153.7 102.3h0M146.7 102.2h0M160.3 102.1h0M140.4 102.4h0M165.6 102.0h0M158.2 102.1h0M159.1 101.8h0M156.5 102.1h0M133.6 102.1h0M133.6 103.6h0M162.1 103.4h0M149.5 103.4h0M134.1 103.2h0M162.3 103.3h0M158.2 103.3h0M162.7 103.7h0M146.1 103.7h0M143.0 103.3h0M137.8 103.5h0M142.5 103.3h0M157.0 103.8h0M152.9 103.4h0M151.7 103.7h0M143.6 103.7h0M155.4 103.4h0M163.7 104.5h0M141.3 104.3h0M147.7 104.5h0M156.1 104.2h0M145.2 104.3h0M147.7 104.3h0M147.7 104.3h0M160.8 104.3h0M144.2 104.6h0M157.1 104.7h0M151.6 104.2h0M145.9 104.1h0M134.2 104.7h0M144.8 104.2h0M142.8 104.2h0M155.1 104.3h0M161.6 104.8h0M138.1 104.6h0M151.3 104.5h0M144.8 104.2h0M138.6 104.1h0M156.5 104.8h0M151.6 104.2h0M144.9 104.1h0M150.2 104.4h0M139.8 104.4h0M135.8 105.8h0M148.9 105.9h0M137.0 106.0h0M156.7 106.1h0M150.1 105.5h0M147.8 105.5h0M154.5 105.8h0M149.0 105.5h0M150.5 105.9h0M142.0 105.5h0M159.4 105.5h0M159.2 105.5h0M149.6 105.6h0M162.7 105.8h0M158.2 105.5h0M159.0 105.5h0M168.8 106.9h0M151.3 107.0h0M167.8 107.4h0M149.5 107.0h0M139.6 107.1h0M171.2 107.1h0M151.1 106.9h0M155.8 106.8h0M157.8 107.1h0M176.0 106.8h0M163.7 107.3h0M163.0 107.2h0M169.7 107.2h0M177.7 106.8h0M148.1 107.1h0M177.6 108.8h0M177.4 108.1h0M180.0 108.5h0M170.3 108.2h0M169.0 108.3h0M174.0 108.5h0M169.8 108.7h0M159.0 108.6h0M165.2 108.2h0M171.4 108.4h0M166.4 108.5h0M148.0 108.1h0M148.2 108.7h0M157.4 108.7h0M149.6 108.5h0M178.1 108.3h0M175.8 108.8h0M135.2 108.7h0M195.8 110.0h0M196.4 110.0h0M169.8 109.9h0M182.8 109.6h0M138.3 109.6h0M191.7 110.0h0M181.9 109.9h0M185.6 109.7h0M196.6 111.2h0M159.9 111.1h0M183.8 111.5h0M187.0 111.5h0M183.9 111.4h0M193.3 110.9h0M181.0 111.5h0M189.2 111.0h0M192.1 111.5h0M149.6 111.2h0M173.1 111.0h0M163.9 111.1h0M189.3 111.1h0M153.2 111.4h0M176.6 111.2h0M185.8 111.1h0M204.7 111.5h0M154.6 111.1h0M193.7 111.4h0M157.0 111.1h0M186.1 111.4h0M180.3 110.9h0M166.7 111.5h0M171.2 111.4h0M142.5 110.9h0M190.2 111.4h0M191.4 112.0h0M166.2 112.0h0M183.0 112.0h0M167.0 112.3h0M190.2 112.0h0M179.0 112.1h0M190.1 112.1h0M176.5 112.6h0M172.3 112.6h0M135.2 112.5h0M177.4 112.1h0M158.8 114.2h0M144.2 114.1h0M151.9 114.1h0M166.3 113.9h0M154.8 113.6h0M176.7 113.7h0M138.5 114.0h0M151.3 113.9h0M172.9 113.9h0M189.9 113.9h0M165.4 114.1h0M156.4 113.8h0M156.6 113.8h0M159.3 114.0h0M148.9 113.7h0M154.9 113.5h0M170.5 113.6h0M181.8 114.0h0M170.4 113.6h0M155.1 114.1h0M161.7 114.0h0M154.0 115.2h0M161.8 114.8h0M162.1 115.1h0M168.6 114.9h0M166.7 114.8h0M187.1 114.8h0M173.8 114.7h0M141.0 115.0h0M180.6 114.7h0M151.0 114.8h0M185.4 114.8h0M149.5 116.6h0M165.7 116.4h0M176.7 116.1h0M173.5 116.0h0M189.2 115.9h0M172.4 116.2h0M161.4 116.3h0M136.3 116.0h0M170.9 116.3h0M173.6 116.0h0M187.6 116.4h0M178.5 116.2h0M171.5 116.0h0M157.0 116.2h0M172.2 116.0h0M188.3 116.5h0M180.2 117.8h0M171.8 117.9h0M155.9 117.6h0M160.3 118.0h0M136.9 118.0h0M155.9 117.3h0M179.1 117.8h0M161.0 117.9h0M165.1 118.8h0M138.3 119.1h0M135.0 118.9h0M172.2 119.1h0M176.6 119.1h0M156.9 118.7h0M159.3 118.7h0M143.8 118.7h0M164.9 120.4h0M163.9 120.1h0M159.0 119.9h0M162.9 120.4h0M154.3 120.4h0M165.1 120.4h0M151.0 119.9h0M156.5 120.0h0M152.9 120.2h0M156.0 120.4h0M161.0 120.3h0M162.8 120.0h0M165.8 119.9h0M163.2 120.2h0M153.5 120.4h0M157.3 119.9h0M136.0 120.1h0M138.3 120.1h0M162.6 121.5h0M163.6 121.7h0M162.8 121.3h0M150.6 121.9h0M162.2 121.7h0M156.1 121.9h0M165.1 121.4h0M167.1 121.3h0M167.0 121.8h0M160.3 122.0h0M149.2 121.4h0M164.0 121.4h0M177.0 121.4h0M162.1 121.4h0M169.4 121.6h0M157.5 121.3h0M140.8 121.7h0M162.5 121.7h0M152.0 123.2h0M163.1 122.6h0M156.2 123.2h0M158.0 122.8h0M158.5 122.9h0M157.9 122.7h0M153.5 123.2h0M148.0 122.7h0M171.0 122.7h0M141.9 122.7h0M162.6 122.7h0M136.7 123.2h0M154.5 122.9h0M150.3 122.8h0M143.2 122.8h0M160.6 124.3h0M166.0 124.1h0M154.3 124.5h0M151.0 124.1h0M159.4 124.4h0M156.6 124.4h0M161.8 124.0h0M159.1 124.0h0M161.1 124.5h0M159.8 124.6h0M167.4 124.0h0M157.6 124.2h0M158.6 124.4h0M160.2 124.2h0M176.1 124.5h0M159.5 124.5h0M166.7 123.9h0M167.8 124.5h0M149.8 124.0h0M150.1 124.2h0M165.0 124.3h0M171.4 124.0h0M158.2 124.1h0M159.3 124.1h0M176.4 124.5h0M165.3 124.4h0M181.1 125.6h0M181.0 125.4h0M176.7 125.8h0M185.4 125.6h0M152.9 125.8h0M173.6 125.8h0M181.5 125.7h0M161.0 125.3h0M139.1 125.1h0M192.7 125.7h0M173.6 125.5h0M176.8 125.3h0M161.7 125.6h0M174.8 125.4h0M154.7 125.3h0M155.8 125.8h0M140.7 125.7h0M144.9 125.5h0M184.8 125.3h0M177.5 125.2h0M183.9 125.4h0M165.9 126.5h0M169.8 126.4h0M192.1 126.4h0M194.9 126.8h0M168.3 126.5h0M204.0 126.5h0M166.1 126.7h0M155.2 126.3h0M190.2 126.5h0M190.5 126.8h0M183.1 126.4h0M185.9 126.6h0M196.7 126.9h0M176.3 126.7h0M176.5 126.8h0M183.2 126.6h0M173.0 126.7h0M192.2 126.6h0M201.6 128.2h0M207.2 128.4h0M173.3 127.8h0M203.0 127.9h0M155.0 128.5h0M166.5 127.9h0M203.4 128.5h0M201.3 128.0h0M164.7 127.9h0M195.8 128.3h0M204.9 128.0h0M165.9 127.9h0M194.6 128.2h0M189.2 128.3h0M216.3 128.1h0M165.9 128.3h0M184.5 128.5h0M216.4 128.3h0M182.1 127.9h0M203.3 127.8h0M207.1 128.2h0M185.6 128.0h0M208.3 128.0h0M187.4 129.3h0M178.8 129.5h0M174.7 129.5h0M199.7 129.1h0M219.2 129.5h0M162.4 129.1h0M203.2 129.2h0M206.3 129.4h0M201.4 129.2h0M216.9 129.1h0M203.1 129.3h0M212.8 129.7h0M220.2 129.4h0M208.2 129.3h0M223.7 129.4h0M216.6 129.5h0M220.3 129.3h0M189.1 129.1h0M182.3 129.3h0M226.5 129.5h0M223.8 131.0h0M250.7 130.6h0M162.0 130.5h0M192.0 130.7h0M231.3 130.7h0M202.5 131.1h0M216.9 130.4h0M199.4 130.9h0M157.5 130.6h0M192.4 132.0h0M153.1 132.0h0M239.6 132.0h0M230.6 131.9h0M221.0 131.9h0M257.8 132.0h0M221.7 131.7h0M244.4 131.6h0M225.1 131.8h0M183.1 131.5h0M199.9 131.7h0M183.3 131.7h0M198.1 131.7h0M222.2 131.9h0M196.2 132.1h0M159.5 131.7h0M257.4 132.2h0M184.2 131.8h0M227.2 131.9h0M241.7 131.9h0M214.5 131.8h0M224.0 132.0h0M182.0 131.8h0M253.6 131.8h0M195.0 132.0h0M252.3 132.1h0M218.5 131.8h0M174.7 132.1h0M253.3 131.8h0M243.0 133.1h0M258.0 133.0h0M227.5 133.4h0M203.5 133.2h0M179.4 133.5h0M222.1 133.4h0M191.3 133.3h0M219.0 133.6h0M268.0 133.2h0M253.3 133.2h0M214.8 133.5h0M252.6 133.5h0M257.2 134.5h0M160.3 134.2h0M169.5 134.3h0M238.3 134.2h0M250.6 134.7h0M234.7 134.8h0M278.6 134.6h0M218.4 134.4h0M246.8 134.2h0M264.6 134.5h0M260.8 134.5h0M233.5 134.8h0M255.7 134.6h0M221.0 134.3h0M192.9 134.4h0M225.0 136.1h0M242.8 135.9h0M222.0 136.0h0M197.7 136.0h0M256.3 136.2h0M217.7 136.1h0M237.5 136.1h0M251.6 136.0h0M221.3 135.7h0M281.4 135.7h0M246.5 135.7h0M242.0 136.3h0M259.9 135.7h0M257.2 136.2h0M218.1 136.1h0M236.6 135.8h0M238.0 136.1h0M175.9 135.8h0M265.8 136.1h0M242.9 135.8h0M241.8 148.8h0M263.5 149.3h0M260.5 148.7h0M213.2 149.4h0M250.0 148.9h0M201.9 148.9h0M201.2 149.3h0M223.9 149.3h0M234.6 149.4h0M250.2 148.7h0M231.6 149.2h0M231.3 149.1h0M238.2 150.3h0M163.1 150.5h0M215.3 150.5h0M184.8 150.2h0M185.6 150.3h0M228.1 150.1h0M189.8 150.8h0M248.2 150.8h0M205.0 150.4h0M246.3 150.7h0M163.1 152.0h0M189.8 151.5h0M229.5 151.6h0M235.4 151.8h0M223.3 151.4h0M221.6 151.9h0M200.7 151.7h0M203.9 152.6h0M152.7 152.9h0M234.6 152.6h0M154.8 152.6h0M240.8 152.8h0M240.5 152.8h0M220.6 153.1h0M193.5 153.0h0M194.5 152.6h0M220.5 153.2h0M244.8 152.7h0M224.5 152.7h0M212.2 154.3h0M210.8 154.4h0M173.1 154.0h0M214.7 154.4h0M205.5 154.2h0M229.6 154.0h0M232.5 154.5h0M234.9 155.6h0M204.0 155.2h0M206.9 155.0h0M227.8 155.5h0M159.6 156.5h0M171.0 156.6h0M235.1 156.9h0M255.3 157.2h0M239.4 156.6h0M198.5 156.6h0M246.9 157.2h0M231.9 156.6h0M238.3 157.2h0M196.3 156.9h0M224.4 156.9h0M218.6 165.6h0M231.3 165.9h0M226.7 165.8h0M208.2 165.8h0M217.8 165.9h0M229.1 165.9h0M244.6 166.0h0M237.6 165.6h0M213.0 166.2h0M254.4 167.1h0M244.9 167.7h0M230.8 167.4h0M184.5 167.3h0M206.5 167.3h0M218.6 167.7h0M231.0 167.6h0M207.9 167.6h0M221.7 167.5h0M244.3 167.1h0M243.2 167.5h0M244.6 167.3h0M241.3 167.2h0M217.9 167.2h0M225.3 168.8h0M236.0 168.9h0M237.3 168.8h0M227.3 168.3h0M238.6 168.4h0M240.8 168.6h0M232.6 168.4h0M243.3 168.3h0M226.5 168.6h0M246.2 170.1h0M199.6 169.6h0M188.4 170.1h0M227.4 169.7h0M230.9 170.0h0M240.5 169.9h0M242.7 170.0h0M188.0 170.3h0M225.6 171.6h0M226.2 171.2h0M219.4 171.2h0M229.2 171.6h0M216.8 171.4h0M248.0 171.4h0M232.4 171.1h0M233.5 171.4h0M230.4 171.6h0M240.0 171.3h0M237.9 171.4h0M214.5 172.5h0M211.0 172.2h0M240.8 172.4h0M243.8 172.3h0M237.9 172.2h0M232.2 172.5h0M218.4 172.3h0M240.8 172.6h0M220.0 172.7h0M247.2 172.4h0M189.6 172.8h0M226.4 173.3h0M230.4 173.3h0M227.0 173.4h0M232.0 173.8h0M233.5 173.5h0M248.9 173.8h0M228.6 173.9h0M241.1 173.7h0M195.5 173.4h0M230.6 173.7h0M231.7 175.3h0M239.2 175.3h0M218.2 175.0h0M240.6 175.3h0M206.9 175.3h0M216.3 175.3h0M228.0 175.3h0M255.6 175.2h0M255.2 175.4h0M203.8 176.2h0M251.1 176.5h0M166.8 176.4h0M257.0 176.1h0M229.0 176.5h0M228.4 176.6h0M265.7 176.3h0M242.0 176.6h0M259.3 176.2h0M207.7 177.4h0M236.8 177.8h0M242.9 177.8h0M241.2 177.6h0M219.5 177.2h0M212.3 177.7h0M240.5 177.5h0M246.9 177.3h0M243.9 177.4h0M209.0 179.0h0M208.0 178.8h0M192.1 178.9h0M209.6 179.3h0M228.4 178.8h0M194.5 178.7h0M203.3 178.9h0M186.2 179.2h0M198.8 179.3h0M235.5 179.3h0M194.9 178.8h0M215.6 179.1h0M240.0 179.3h0M182.5 180.6h0M213.5 180.3h0M222.1 180.8h0M176.3 180.5h0M178.5 180.6h0M213.6 180.4h0M185.9 180.6h0M191.7 181.3h0M182.6 181.5h0M202.9 181.2h0M187.4 181.6h0M211.7 181.8h0M223.2 182.6h0M207.0 182.6h0M174.9 182.7h0M187.3 182.5h0M202.2 182.4h0M187.6 184.0h0M206.6 184.0h0M232.9 184.4h0M246.7 184.1h0M224.2 184.1h0M192.3 184.4h0M235.0 184.3h0M218.1 184.4h0M213.2 184.4h0M181.7 184.2h0M233.3 184.0h0M219.1 184.3h0M237.9 185.8h0M211.5 185.6h0M237.4 185.6h0M261.0 185.8h0M233.8 185.5h0M204.9 185.8h0M189.2 185.9h0M243.2 185.6h0M223.7 185.7h0M236.3 185.6h0M240.9 185.6h0M196.8 185.9h0M267.5 186.8h0M264.4 186.5h0M219.5 186.8h0M245.4 186.6h0M272.8 186.8h0M246.3 186.4h0M228.0 187.0h0M253.9 186.7h0M251.5 188.2h0M187.0 187.8h0M219.4 187.8h0M277.0 188.2h0M271.5 187.7h0M267.6 188.4h0M259.0 187.9h0M265.5 188.2h0M259.1 188.0h0M262.8 188.0h0M229.2 188.1h0M249.2 188.1h0M236.4 187.9h0M224.2 187.7h0M220.2 187.9h0M275.8 189.8h0M256.6 189.7h0M251.1 189.7h0M259.7 189.6h0M191.3 189.6h0M263.8 189.2h0M248.8 190.9h0M212.1 191.1h0M267.1 190.9h0M242.2 190.6h0M230.6 190.8h0M208.9 190.8h0M210.6 190.7h0M238.3 191.2h0M235.8 191.2h0M234.0 190.6h0M254.0 190.7h0M192.1 190.6h0M203.7 191.0h0M252.6 190.6h0M236.8 191.0h0M250.9 192.0h0M197.2 191.9h0M254.4 191.9h0M253.6 191.8h0M212.7 191.6h0M252.8 193.7h0M182.9 193.5h0M210.1 193.1h0M254.4 193.2h0M200.4 193.3h0M250.3 193.5h0M221.0 193.5h0M245.6 193.1h0M208.1 193.2h0M234.5 193.5h0M245.3 193.3h0M227.9 193.3h0M178.4 194.7h0M230.6 194.1h0M235.9 194.6h0M219.2 194.5h0M173.3 194.2h0M208.8 194.2h0M186.7 194.5h0M243.7 194.1h0M197.0 194.7h0M226.3 194.3h0M208.1 194.2h0M237.7 194.2h0M225.2 194.4h0M200.8 194.5h0M207.1 194.3h0M178.3 196.0h0M236.2 196.1h0M234.7 195.9h0M221.7 196.1h0M228.5 195.6h0M234.0 195.8h0M215.3 195.9h0M237.2 196.0h0M227.3 196.1h0M197.4 196.0h0M198.5 195.6h0M198.3 195.7h0M230.8 196.0h0M248.8 195.8h0M239.6 195.8h0M226.3 196.1h0M211.4 197.3h0M199.5 197.6h0M225.6 197.4h0M180.2 197.7h0M239.6 197.4h0M213.5 197.2h0M218.7 197.5h0M213.9 197.2h0M236.2 197.5h0M198.1 197.6h0M207.8 197.6h0M237.7 197.2h0M184.5 197.4h0M196.1 198.0h0M206.2 198.0h0M234.2 198.6h0M170.6 198.1h0M209.0 198.4h0M200.0 199.5h0M238.9 199.5h0M222.8 199.8h0M218.6 199.4h0M218.9 199.4h0M193.7 199.4h0M227.7 199.7h0M226.9 199.6h0M227.2 199.5h0M232.2 200.7h0M191.1 200.9h0M202.4 201.1h0M233.7 200.6h0M222.0 200.9h0M216.4 201.1h0M239.6 201.0h0M220.2 201.2h0M242.5 200.8h0M230.8 201.1h0M218.2 201.0h0M249.2 202.5h0M247.2 202.7h0M221.1 202.5h0M250.6 202.3h0M218.9 202.6h0M222.1 202.5h0M243.7 202.1h0M248.5 202.3h0M221.2 203.9h0M253.8 203.7h0M238.6 203.9h0M226.3 203.9h0M205.3 203.7h0M225.3 203.4h0M210.3 203.7h0M255.6 203.7h0M205.2 203.6h0M199.5 203.8h0M208.3 203.8h0M202.8 203.5h0M228.5 205.3h0M206.2 205.2h0M180.2 205.0h0M211.8 204.7h0M231.6 205.1h0M247.6 204.8h0M207.9 204.7h0M221.1 205.0h0M242.1 204.9h0M226.1 205.1h0M251.0 204.9h0M215.2 204.8h0M228.0 205.1h0M207.1 206.3h0M247.5 206.2h0M237.8 206.5h0M217.9 205.8h0M200.0 206.0h0M196.2 206.4h0M226.5 206.4h0M249.5 205.8h0M218.2 206.3h0M184.4 206.4h0M207.1 206.4h0M247.5 206.1h0M202.8 205.9h0M207.8 206.0h0M180.1 205.8h0M218.5 206.3h0M233.0 206.1h0M244.3 206.1h0M244.6 207.5h0M231.2 207.4h0M198.1 207.5h0M237.9 207.2h0M237.2 207.5h0M230.5 207.4h0M234.8 207.3h0M186.4 207.7h0M238.6 207.4h0M252.0 207.3h0M242.3 207.8h0M202.5 209.2h0M197.1 208.9h0M210.8 209.1h0M252.5 208.9h0M228.1 209.2h0M226.0 208.9h0M215.8 209.3h0M220.6 209.0h0M224.3 209.3h0M206.9 209.0h0M219.9 209.4h0M194.8 209.0h0M242.1 209.1h0M206.5 210.0h0M237.0 210.5h0M232.8 210.0h0M218.1 210.3h0M198.8 210.4h0M187.4 210.0h0M216.8 210.5h0M233.5 210.3h0M215.4 210.5h0M224.4 209.9h0M229.5 211.7h0M169.1 211.8h0M219.7 211.6h0M214.7 211.2h0M229.1 211.7h0M223.3 211.8h0M228.8 212.9h0M229.1 212.7h0M219.1 213.1h0M190.3 213.1h0M173.5 212.6h0M161.0 212.7h0M209.8 214.5h0M218.3 214.2h0M176.0 214.4h0M204.3 214.3h0M222.1 214.2h0M171.2 214.3h0M219.0 214.4h0M185.5 214.4h0M202.9 214.5h0M160.5 214.5h0M191.3 213.9h0M196.9 213.9h0M204.9 214.2h0M205.3 215.1h0M206.7 215.3h0M193.9 215.1h0M196.8 215.1h0M169.6 215.6h0M183.0 215.1h0M197.7 216.7h0M180.5 216.7h0M204.4 216.6h0M197.4 216.4h0M194.8 216.7h0M208.4 216.5h0M195.2 216.5h0M184.6 216.4h0M185.4 216.4h0M169.0 216.6h0M201.7 217.9h0M188.0 217.8h0M191.1 218.0h0M193.2 217.7h0M189.4 218.1h0M187.3 218.3h0M164.7 218.0h0M191.0 218.3h0M199.3 218.1h0M187.3 217.9h0M185.5 218.1h0M194.0 219.1h0M186.7 219.3h0M174.7 219.5h0M185.8 219.4h0M179.4 219.2h0M175.0 219.4h0M186.6 219.1h0M172.5 218.9h0M173.8 219.1h0M166.3 219.2h0M175.3 218.9h0M178.4 219.2h0M181.3 219.5h0M196.9 220.7h0M182.6 220.7h0M200.5 220.5h0M198.1 220.7h0M186.5 220.2h0M190.9 220.4h0M189.2 220.3h0M166.0 220.3h0M162.5 220.1h0M165.2 220.4h0M197.3 222.2h0M181.9 222.1h0M191.0 221.8h0M162.1 222.1h0M196.3 222.0h0M173.3 222.0h0M185.5 222.3h0M202.9 221.7h0M197.3 221.9h0M171.5 221.9h0M177.2 222.0h0M167.8 222.0h0M182.0 222.3h0M169.7 221.9h0M207.2 222.1h0M214.0 223.5h0M182.3 223.2h0M176.0 223.0h0M207.2 223.1h0M210.2 222.9h0M198.0 223.1h0M215.6 223.1h0M201.7 223.2h0M189.6 223.2h0M204.3 223.0h0M209.0 223.2h0M215.5 224.2h0M183.5 224.6h0M228.5 224.3h0M199.1 224.2h0M191.0 224.5h0M220.9 224.7h0M229.9 224.2h0M194.5 224.2h0M222.9 224.4h0M190.2 224.2h0M195.7 225.9h0M174.3 225.9h0M240.9 225.7h0M215.8 226.2h0M219.9 226.2h0M211.7 225.7h0M186.6 226.2h0M194.4 226.1h0M222.7 225.7h0M222.8 225.8h0M195.5 225.7h0M221.7 225.9h0M200.3 226.2h0M201.8 227.0h0M197.1 227.1h0M203.4 226.8h0M194.0 227.0h0M201.2 227.2h0M231.6 227.2h0M231.3 226.7h0M221.7 227.2h0M210.5 227.0h0M222.5 226.7h0M169.9 227.0h0M204.1 226.7h0M203.4 226.6h0M176.4 227.2h0M182.6 227.1h0M207.5 227.2h0M231.4 226.6h0M204.0 227.1h0M222.8 228.6h0M203.5 228.6h0M193.9 228.5h0M202.5 228.6h0M200.6 228.8h0M229.1 228.2h0M226.9 228.4h0M195.2 228.8h0M192.8 228.3h0M232.5 228.7h0M183.2 229.4h0M200.6 229.4h0M216.9 229.5h0M190.4 229.6h0M185.9 229.9h0M196.0 229.5h0M183.4 231.1h0M211.0 231.3h0M195.4 231.0h0M212.7 230.8h0M198.9 230.8h0M192.9 231.1h0M187.7 231.3h0M207.7 231.1h0M215.1 231.3h0M199.6 231.2h0M195.8 232.3h0M178.8 232.1h0M197.5 232.3h0M161.9 232.6h0M201.2 232.4h0M202.4 232.5h0M197.8 232.5h0M182.3 232.2h0M186.8 231.9h0M184.8 232.5h0M215.3 232.0h0M201.1 232.1h0M190.8 232.6h0M201.4 233.1h0M204.4 233.1h0M174.9 233.7h0M181.4 233.2h0M173.5 233.3h0M196.3 233.1h0M200.1 233.1h0M184.8 233.5h0M191.8 233.2h0M211.4 233.8h0M199.0 233.5h0M197.8 234.9h0M179.3 235.0h0M172.1 234.7h0M174.3 234.9h0M204.1 234.7h0M190.6 234.8h0M201.6 235.0h0M199.3 235.0h0M180.3 234.8h0M196.5 235.0h0M182.9 234.8h0M173.4 234.8h0M192.0 234.7h0M197.6 235.2h0M200.8 235.0h0M170.5 234.7h0M195.6 234.8h0M202.2 235.2h0M205.7 236.1h0M207.0 236.0h0M164.2 236.3h0M183.1 236.1h0M172.3 236.2h0M213.6 236.0h0M203.1 237.6h0M219.8 237.0h0M204.0 237.4h0M193.5 237.2h0M195.2 237.1h0M209.4 237.0h0M209.2 237.3h0M225.4 237.6h0M193.3 238.9h0M199.8 238.8h0M218.8 238.8h0M219.7 238.4h0M217.9 238.6h0M205.2 239.0h0M207.3 238.5h0M199.0 238.4h0M174.0 238.9h0M209.5 238.5h0M189.6 238.8h0M209.7 238.6h0M222.2 238.4h0M212.7 238.9h0M217.2 238.9h0M205.9 239.0h0M177.0 238.4h0M193.8 238.7h0M229.4 240.0h0M241.0 239.8h0M205.7 240.0h0M208.9 240.3h0M202.6 240.3h0M207.7 240.2h0M224.0 240.0h0M168.1 240.4h0M232.6 240.0h0M177.0 240.3h0M212.7 240.0h0M209.2 240.5h0M204.4 239.9h0M225.8 240.2h0M197.2 240.2h0M226.3 240.0h0M213.1 240.4h0M219.2 240.2h0M226.1 241.6h0M186.5 241.4h0M187.3 241.3h0M212.8 241.6h0M218.4 241.6h0M223.4 241.2h0M237.8 241.2h0M186.9 241.3h0M178.5 241.1h0M236.8 241.0h0M230.3 241.3h0M188.6 241.6h0M196.9 241.0h0M232.2 241.5h0M171.6 241.6h0M195.3 241.4h0M189.1 241.5h0M182.0 241.2h0M229.1 242.5h0M188.3 242.7h0M177.1 242.8h0M198.2 242.6h0M224.7 242.7h0M199.6 242.7h0M207.2 242.6h0M225.8 242.8h0M187.9 242.3h0M235.4 242.6h0M216.0 242.4h0M221.4 243.0h0M213.2 242.4h0M203.5 242.7h0M223.5 242.9h0M212.9 242.9h0M233.8 242.7h0M218.5 242.9h0M218.2 243.9h0M191.7 243.8h0M184.6 243.7h0M173.5 244.1h0M164.7 243.9h0M202.7 243.8h0M199.8 244.3h0M229.8 244.0h0M223.0 244.3h0M215.6 243.8h0M213.7 243.7h0M201.9 243.7h0M220.0 244.0h0M214.5 244.9h0M191.3 245.3h0M180.8 245.3h0M218.4 245.2h0M192.0 245.3h0M207.4 245.6h0M221.5 245.6h0M212.0 245.1h0M216.9 245.4h0M193.3 245.4h0M194.8 245.5h0M203.9 245.0h0M198.4 245.4h0M194.8 245.4h0M216.6 245.1h0M218.5 246.7h0M193.2 246.3h0M211.5 246.9h0M175.7 246.8h0M208.3 246.7h0M213.3 246.7h0M212.6 246.8h0M216.6 246.6h0M192.4 246.9h0M190.3 246.8h0M203.9 246.9h0M170.1 248.1h0M192.6 247.6h0M182.3 247.6h0M208.3 247.6h0M201.8 247.6h0M199.0 247.6h0M204.9 248.1h0M211.5 247.6h0M211.0 248.1h0M203.4 247.6h0M201.0 249.0h0M205.6 249.5h0M191.7 249.3h0M195.7 249.0h0M203.0 248.9h0M197.9 249.0h0M199.1 249.3h0M174.1 249.0h0M197.4 249.0h0M193.0 249.4h0M192.5 249.2h0M190.9 249.2h0M194.0 249.4h0M182.5 249.1h0M189.0 249.2h0M194.2 249.2h0M182.8 248.9h0M170.2 249.3h0M190.0 250.4h0M186.4 250.8h0M206.6 250.6h0M199.0 250.7h0M187.5 250.6h0M203.7 250.4h0M214.7 250.6h0M177.4 250.7h0M183.7 250.4h0M191.8 251.0h0M192.3 250.9h0M194.6 250.5h0M198.2 250.5h0M189.6 250.8h0M191.0 250.9h0M205.3 250.7h0M197.7 250.5h0M193.1 251.0h0M193.5 252.1h0M193.5 252.2h0M183.6 252.2h0M193.6 251.7h0M187.6 251.8h0M196.0 251.7h0M206.2 252.2h0M177.4 251.6h0M201.7 252.0h0M211.3 252.0h0M205.9 251.5h0M201.1 252.0h0M198.3 251.9h0M204.3 252.0h0M206.9 251.8h0M212.7 251.9h0M201.9 252.0h0M203.8 252.0h0M193.8 253.0h0M186.2 252.9h0M214.1 252.8h0M228.1 253.1h0M203.9 253.3h0M206.9 252.9h0M203.6 253.4h0M220.8 253.2h0M215.7 254.0h0M217.8 254.1h0M211.6 254.2h0M203.9 254.1h0M217.7 254.4h0M193.9 254.3h0M200.1 254.3h0M220.1 254.1h0M228.6 255.6h0M208.3 255.3h0M226.9 255.9h0M236.6 255.8h0M215.9 255.6h0M225.9 255.5h0M207.9 255.3h0M216.4 255.8h0M186.4 255.7h0M198.4 255.5h0M196.6 255.6h0M211.0 255.5h0M225.0 255.7h0M227.8 257.0h0M221.8 256.8h0M220.3 257.0h0M229.8 256.6h0M228.4 257.2h0M204.9 256.9h0M222.4 256.7h0M222.3 256.9h0M223.9 257.0h0M221.8 256.8h0M240.6 256.7h0M228.2 256.7h0M225.2 257.3h0M229.2 256.9h0M238.2 257.1h0M232.9 258.5h0M218.7 258.5h0M226.8 258.7h0M237.0 258.6h0M196.3 258.4h0M230.8 258.0h0M243.3 258.4h0M225.3 258.3h0M218.6 258.4h0M224.6 258.4h0M200.2 258.2h0M232.2 258.2h0M191.0 258.6h0M217.2 258.2h0M230.3 258.5h0M208.7 258.5h0M230.5 258.5h0M199.4 258.4h0M207.8 260.1h0M221.7 259.7h0M205.5 259.5h0M237.1 259.5h0M221.0 259.6h0M204.6 259.8h0M220.6 259.7h0M224.6 260.1h0M213.0 259.5h0M221.1 259.7h0M203.1 260.0h0M224.2 259.7h0M230.8 260.0h0M232.7 261.0h0M226.1 261.1h0M234.6 260.5h0M207.2 260.6h0M226.0 261.1h0M234.8 260.7h0M208.2 260.5h0M207.0 260.4h0M217.0 260.5h0M226.3 260.9h0M217.4 260.6h0M206.7 261.1h0M222.8 260.7h0M227.0 262.0h0M227.2 262.3h0M201.7 262.1h0M217.7 262.2h0M230.8 262.4h0M213.8 262.1h0M225.1 262.5h0M211.2 262.7h0M232.9 262.5h0M224.4 262.2h0M205.9 262.4h0M224.7 263.4h0M229.0 263.2h0M236.9 263.2h0M241.8 263.5h0M235.2 263.5h0M223.8 263.3h0M210.4 264.7h0M202.3 264.7h0M234.9 265.3h0M229.3 265.1h0M238.9 265.2h0M220.5 264.8h0M249.5 264.7h0M207.1 265.2h0M249.0 264.6h0M240.3 265.1h0M225.0 264.7h0M237.5 266.1h0M207.0 266.1h0M249.7 265.7h0M220.2 265.9h0M245.7 265.8h0M219.6 266.0h0M217.8 266.1h0M222.9 265.8h0M220.3 265.9h0M240.1 266.1h0M197.3 265.7h0M215.6 265.8h0M242.7 265.8h0M231.0 265.8h0M214.9 265.9h0M221.6 265.8h0M236.2 265.8h0M224.2 266.1h0M228.7 267.5h0M239.9 267.6h0M215.5 267.2h0M228.9 267.6h0M218.9 267.7h0M214.0 267.0h0M238.4 267.2h0M236.7 267.6h0M223.2 267.2h0M238.7 267.5h0M223.8 269.1h0M240.5 268.7h0M213.4 269.0h0M232.0 269.0h0M226.2 268.6h0M236.8 269.0h0M222.0 268.6h0M242.0 268.8h0M221.2 269.9h0M212.8 269.9h0M212.6 270.2h0M234.6 270.2h0M227.5 269.9h0M207.1 270.3h0M205.0 269.8h0M222.2 269.9h0M238.1 271.4h0M232.9 271.4h0M245.7 271.0h0M214.0 271.4h0M229.4 271.1h0M230.4 270.9h0M244.0 271.1h0M244.2 272.7h0M240.3 272.9h0M240.4 272.7h0M245.0 272.6h0M230.5 272.6h0M230.5 274.1h0M256.4 273.8h0M256.4 273.7h0M235.6 273.6h0M265.4 274.2h0M251.1 273.8h0M255.5 274.3h0M242.7 273.7h0M256.4 275.0h0M261.6 275.3h0M256.5 274.8h0M255.9 275.3h0M254.8 275.0h0M259.0 275.0h0M260.2 274.8h0M241.6 274.9h0M269.3 275.0h0M288.7 274.9h0M287.3 274.7h0M269.9 276.2h0M240.8 276.4h0M249.8 276.5h0M268.6 276.1h0M287.2 276.3h0M287.9 276.1h0M283.7 278.0h0M281.3 277.5h0M246.9 277.9h0M257.3 279.4h0M277.9 279.0h0M292.9 279.3h0M307.7 280.0h0M230.6 280.5h0M263.1 280.3h0M252.0 280.0h0M276.9 281.9h0M307.5 281.5h0M299.5 283.1h0M267.7 282.7h0M239.7 282.9h0M275.2 283.3h0M262.4 282.9h0M255.1 282.8h0M304.3 282.7h0M268.8 283.4h0M275.9 282.9h0M235.3 283.0h0M261.0 284.2h0M243.1 284.5h0M269.9 284.3h0M262.8 284.4h0M247.5 284.6h0M302.4 284.8h0M297.7 284.5h0M272.5 284.3h0M274.9 285.6h0M257.1 285.4h0M253.2 285.8h0M287.4 286.1h0M290.2 285.5h0M289.7 285.6h0M276.9 285.9h0M290.9 285.6h0M272.9 286.0h0M258.5 285.8h0M288.1 285.9h0M230.3 286.1h0M288.2 287.3h0M263.1 286.7h0M255.3 287.2h0M234.8 287.1h0M252.1 287.4h0M266.8 286.8h0M275.3 286.8h0M255.1 286.7h0M269.9 286.8h0M284.8 288.2h0M253.0 288.2h0M263.8 288.0h0M271.2 288.4h0M273.7 288.6h0M246.8 288.2h0M287.1 288.4h0M263.5 288.2h0M255.6 288.6h0M283.9 288.3h0M293.0 289.4h0M229.8 289.9h0M265.6 289.5h0M283.8 289.4h0M270.4 290.0h0M266.3 289.3h0M229.6 289.6h0M257.1 289.7h0M266.5 290.7h0M284.4 291.2h0M260.3 291.2h0M268.8 290.6h0M264.0 291.2h0M267.8 292.2h0M289.2 291.7h0M277.0 292.0h0M253.4 292.1h0M260.4 291.9h0M277.5 291.8h0M280.7 291.6h0M245.9 292.1h0M263.2 292.1h0M256.6 291.7h0M281.6 291.6h0M269.1 293.1h0M277.7 292.9h0M278.0 293.5h0M268.3 293.1h0M257.6 293.4h0M271.1 293.5h0M259.4 293.0h0M260.6 293.0h0M261.4 295.0h0M237.0 294.9h0M282.4 294.5h0M83.2 151.9h0M181.7 200.3h0M181.1 200.1h0M159.5 200.1h0M171.3 199.7h0M162.7 199.9h0M184.3 199.6h0M177.6 199.8h0M160.0 218.6h0M151.2 218.7h0M166.6 218.4h0M172.0 218.5h0M164.8 218.1h0M187.4 218.9h0M166.6 218.8h0M151.3 218.7h0M182.4 235.4h0M165.9 234.8h0M164.8 234.9h0M167.3 235.0h0M168.5 234.8h0M163.6 234.9h0M174.8 234.8h0M163.1 234.7h0M155.7 235.2h0M182.8 252.2h0M164.6 251.8h0M191.4 251.8h0M191.9 252.0h0M189.2 251.9h0M194.9 251.6h0M185.9 182.7h0M166.1 183.4h0M189.4 183.3h0M151.7 182.7h0M168.8 183.1h0M172.9 170.7h0M168.8 171.0h0M204.8 171.0h0M166.6 170.8h0M181.0 171.0h0M199.6 171.2h0M169.9 170.7h0M196.5 42.7h0M152.9 41.9h0M216.4 42.8h0M214.6 41.6h0M197.1 43.4h0M205.7 42.2h0M220.6 41.3h0M222.0 43.3h0M185.5 42.3h0M165.6 41.8h0M182.4 42.2h0M190.3 41.2h0M197.3 42.3h0M171.8 41.6h0M159.4 43.4h0M179.6 41.7h0M194.3 42.5h0M194.6 42.9h0M214.9 40.6h0M156.3 43.4h0M184.7 41.4h0M184.4 42.0h0M189.6 42.4h0M172.6 40.8h0M154.2 41.4h0M179.2 42.9h0M206.1 42.8h0" stroke="#c8c8c8" stroke-width="2.2" stroke-linecap="round" fill="none"/>
<path d="M242.7 11.0h0M238.8 11.3h0M249.6 10.9h0M246.0 10.8h0M255.2 10.8h0M245.1 11.1h0M240.8 11.3h0M238.4 11.3h0M244.3 11.5h0M249.4 11.0h0M253.7 11.0h0M238.8 10.8h0M241.9 11.4h0M255.9 11.5h0M232.8 11.2h0M245.9 11.3h0M246.9 11.4h0M235.6 11.4h0M237.5 11.5h0M256.0 10.9h0M251.6 12.0h0M234.7 12.1h0M235.5 12.4h0M259.4 12.2h0M219.6 11.9h0M241.8 12.4h0M228.2 12.3h0M248.6 12.2h0M236.0 12.0h0M233.6 12.2h0M235.0 12.4h0M238.2 11.9h0M236.4 11.8h0M242.8 12.3h0M255.9 12.0h0M247.1 12.4h0M232.9 12.2h0M241.0 12.2h0M231.2 12.2h0M241.0 11.8h0M244.3 12.2h0M228.8 12.4h0M244.7 12.3h0M255.2 12.4h0M243.9 12.4h0M249.9 12.1h0M254.4 13.7h0M249.5 13.4h0M253.6 13.7h0M263.7 13.3h0M245.2 13.7h0M234.5 13.4h0M247.4 13.4h0M248.3 13.6h0M270.9 13.5h0M255.0 13.2h0M225.7 13.3h0M232.6 13.7h0M252.9 13.4h0M226.0 13.3h0M254.0 13.5h0M260.7 13.4h0M250.0 13.6h0M251.9 13.5h0M258.5 13.5h0M235.9 13.5h0M260.8 13.6h0M239.2 13.2h0M248.7 13.6h0M237.7 13.3h0M225.1 13.5h0M261.9 13.5h0M259.1 13.2h0M248.0 15.0h0M247.3 14.8h0M249.3 15.1h0M245.0 15.0h0M248.6 15.1h0M246.4 15.0h0M243.1 14.5h0M250.2 14.5h0M251.8 14.8h0M250.0 14.5h0M242.6 14.9h0M255.9 14.6h0M245.4 14.8h0M231.4 14.6h0M239.4 14.8h0M251.0 14.6h0M249.4 15.1h0M258.8 14.8h0M228.7 14.8h0M231.5 14.7h0M246.8 15.1h0M252.0 14.7h0M245.8 15.1h0M236.8 14.6h0M252.4 14.9h0M252.0 14.8h0M260.8 14.6h0M252.3 14.9h0M242.1 14.9h0M231.7 14.5h0M227.6 14.8h0M252.2 14.6h0M243.8 15.0h0M280.2 14.9h0M223.3 14.8h0M243.3 14.4h0M236.6 14.6h0M249.6 15.1h0M227.5 14.9h0M249.2 15.0h0M260.6 16.1h0M240.4 16.0h0M237.0 16.1h0M243.9 16.1h0M249.5 16.2h0M241.7 15.9h0M252.8 16.4h0M266.6 15.9h0M247.2 15.7h0M230.2 16.0h0M262.8 16.1h0M233.6 16.0h0M262.1 16.1h0M245.0 15.9h0M250.0 16.0h0M268.1 16.0h0M255.8 16.2h0M240.7 15.8h0M246.3 15.8h0M258.3 16.2h0M271.9 16.1h0M255.3 16.3h0M241.6 16.2h0M244.4 15.7h0M269.8 15.8h0M253.1 16.0h0M266.1 16.2h0M260.9 15.9h0M236.6 16.1h0M263.8 16.3h0M265.6 15.8h0M243.5 15.8h0M237.7 16.4h0M236.2 15.8h0M238.7 17.4h0M232.1 17.6h0M258.9 17.5h0M242.5 17.5h0M246.2 17.4h0M262.4 17.6h0M249.4 17.7h0M220.7 17.5h0M229.8 17.7h0M225.6 17.4h0M229.5 17.6h0M252.5 17.6h0M249.4 17.5h0M246.8 19.0h0M240.7 19.2h0M219.9 18.8h0M241.6 18.7h0M275.2 19.3h0M239.2 19.3h0M232.2 18.8h0M239.4 18.7h0M262.4 19.2h0M292.2 18.8h0M235.4 19.0h0M260.0 18.9h0M230.8 19.1h0M272.6 19.0h0M246.7 19.2h0M240.7 19.0h0M294.9 19.0h0M250.0 19.2h0M235.9 18.8h0M256.7 20.0h0M241.0 20.2h0M244.9 20.4h0M249.0 20.2h0M259.0 20.4h0M231.3 20.4h0M257.8 19.8h0M245.8 19.9h0M252.9 20.2h0M233.7 20.2h0M243.6 20.1h0M257.7 20.2h0M246.8 20.0h0M265.5 20.3h0M246.3 20.1h0M250.3 19.8h0M241.2 20.0h0M234.9 20.1h0M239.5 19.9h0M246.4 20.4h0M254.9 20.0h0M242.3 20.0h0M244.9 20.3h0M228.9 20.1h0M256.2 20.0h0M240.0 20.3h0M285.3 20.2h0M246.6 20.3h0M255.2 20.4h0M250.5 19.8h0M238.6 20.2h0M254.5 20.3h0M242.1 20.2h0M255.0 20.1h0M286.3 20.2h0M261.5 20.5h0M247.4 20.2h0M227.3 21.1h0M241.4 21.6h0M253.4 21.2h0M246.6 21.2h0M284.1 21.5h0M256.9 21.5h0M299.6 21.5h0M238.2 21.4h0M248.4 21.6h0M246.5 21.4h0M248.4 21.6h0M222.0 21.6h0M258.4 21.0h0M269.7 21.1h0M255.0 21.2h0M246.6 22.7h0M256.1 22.7h0M272.8 22.4h0M244.2 22.5h0M264.3 22.5h0M255.5 22.5h0M273.1 22.7h0M254.9 22.4h0M237.5 22.6h0M250.2 22.4h0M256.3 22.6h0M279.5 22.4h0M239.2 23.1h0M248.8 22.9h0M270.7 22.5h0M250.6 22.6h0M245.8 22.4h0M237.0 22.9h0M258.9 22.5h0M239.6 22.9h0M285.4 23.1h0M257.5 22.8h0M252.3 22.7h0M251.5 22.5h0M243.2 23.0h0M270.5 22.9h0M250.2 22.8h0M226.7 22.4h0M231.7 22.5h0M272.2 22.6h0M263.2 22.8h0M242.5 23.0h0M232.2 22.7h0M257.2 22.4h0M252.1 22.9h0M248.1 22.9h0M236.7 22.5h0M257.1 22.4h0M279.2 23.0h0M235.1 22.6h0M242.3 22.7h0M255.5 24.1h0M276.9 23.8h0M259.4 24.3h0M270.1 24.0h0M259.3 24.4h0M246.4 24.4h0M253.7 24.1h0M232.5 24.2h0M269.0 24.3h0M251.7 24.2h0M219.6 24.2h0M245.7 23.8h0M265.1 24.0h0M251.1 23.9h0M229.4 24.3h0M280.8 23.7h0M239.2 25.5h0M234.6 25.6h0M261.2 25.3h0M258.0 25.0h0M219.7 25.1h0M233.3 25.0h0M224.0 25.2h0M251.3 25.5h0M281.2 25.4h0M243.5 25.3h0M257.4 25.5h0M257.3 25.2h0M242.4 25.1h0M286.1 25.0h0M259.9 25.2h0M236.0 25.5h0M230.2 25.0h0M275.2 25.2h0M259.9 25.2h0M242.0 25.3h0M250.3 25.1h0M262.4 25.4h0M278.3 25.3h0M282.7 25.0h0M256.3 26.7h0M238.5 26.7h0M270.7 26.7h0M240.0 26.6h0M242.3 26.7h0M252.3 26.7h0M253.7 26.8h0M269.2 26.9h0M262.6 26.9h0M268.7 26.9h0M283.3 27.0h0M261.8 26.6h0M262.5 26.5h0M277.4 27.1h0M251.7 26.5h0M249.4 26.5h0M232.4 27.0h0M251.4 27.0h0M238.7 26.9h0M241.1 26.6h0M243.4 27.1h0M248.4 26.5h0M256.0 27.0h0M261.6 26.6h0M231.3 26.7h0M285.3 27.7h0M285.4 27.4h0M251.0 27.9h0M258.5 27.6h0M252.4 27.5h0M269.3 27.6h0M254.2 27.5h0M267.5 27.9h0M248.3 27.9h0M282.7 27.6h0M246.3 28.0h0M250.6 27.5h0M239.1 27.4h0M269.7 27.7h0M257.1 27.7h0M275.5 27.7h0M249.6 27.7h0M255.1 28.0h0M254.9 27.4h0M272.8 28.1h0M262.0 27.5h0M218.3 27.8h0M271.2 27.9h0M222.2 27.9h0M286.5 27.8h0M244.0 27.6h0M240.3 27.7h0M279.6 27.5h0M243.3 27.7h0M244.4 27.9h0M266.2 28.0h0M297.6 28.1h0M233.3 27.6h0M231.1 27.6h0M239.1 28.0h0M247.9 27.4h0M270.2 28.0h0M258.7 27.4h0M286.6 27.5h0M262.5 27.9h0M258.8 29.4h0M268.8 29.0h0M249.0 29.0h0M274.8 29.0h0M275.8 29.4h0M273.1 28.9h0M269.3 29.0h0M249.7 28.8h0M242.8 28.8h0M286.5 29.2h0M279.6 28.9h0M243.6 29.1h0M240.3 28.9h0M262.5 29.2h0M277.5 29.1h0M260.4 28.9h0M246.7 29.0h0M272.9 28.8h0M233.8 29.1h0M247.5 28.9h0M278.6 29.4h0M249.5 28.9h0M260.3 29.3h0M240.1 29.4h0M248.0 29.1h0M250.6 29.2h0M248.9 28.8h0M259.8 29.4h0M252.3 29.3h0M261.8 29.3h0M237.7 29.2h0M284.0 29.4h0M268.4 28.8h0M273.9 28.7h0M278.8 28.9h0M254.3 29.2h0M276.3 29.2h0M231.9 29.2h0M255.7 30.1h0M249.6 30.2h0M259.2 30.3h0M261.5 30.6h0M264.7 30.3h0M273.2 30.2h0M267.6 30.4h0M214.9 30.1h0M277.4 30.6h0M284.2 30.4h0M273.6 30.1h0M278.5 30.2h0M262.3 30.3h0M269.5 30.1h0M251.8 30.7h0M250.6 30.3h0M229.6 30.4h0M257.8 30.6h0M278.7 30.5h0M277.9 30.3h0M250.1 30.1h0M254.3 30.2h0M271.7 30.1h0M259.5 30.1h0M273.7 30.2h0M281.5 30.2h0M252.7 30.3h0M247.9 30.3h0M255.9 30.1h0M272.2 30.2h0M250.4 30.4h0M270.3 30.6h0M260.0 30.2h0M271.4 30.3h0M247.0 30.7h0M275.2 31.8h0M260.0 31.6h0M277.0 31.8h0M270.2 31.7h0M267.6 31.7h0M269.7 31.9h0M252.4 31.8h0M234.3 31.5h0M253.1 31.8h0M244.2 31.4h0M266.1 31.8h0M250.9 31.7h0M275.4 31.7h0M261.6 31.9h0M262.0 31.8h0M252.3 31.4h0M253.1 31.5h0M262.0 32.0h0M245.1 31.4h0M283.0 32.0h0M269.7 31.6h0M264.7 31.9h0M271.7 31.9h0M272.6 31.8h0M275.9 31.8h0M237.5 31.5h0M259.2 31.7h0M267.4 31.8h0M268.6 31.4h0M233.5 32.1h0M256.3 31.4h0M280.5 31.6h0M265.9 31.7h0M261.7 31.9h0M286.0 31.6h0M281.3 31.6h0M243.2 31.8h0M265.5 31.8h0M263.2 31.5h0M241.0 31.9h0M266.0 31.9h0M245.3 31.7h0M254.7 32.0h0M252.6 31.8h0M276.7 31.4h0M278.4 31.9h0M259.6 31.5h0M259.9 32.0h0M269.5 32.0h0M271.6 31.6h0M239.4 32.9h0M279.6 32.8h0M218.5 32.7h0M234.1 33.0h0M274.3 32.9h0M289.5 33.1h0M267.8 33.2h0M267.2 33.1h0M249.8 33.2h0M244.7 32.8h0M262.9 33.3h0M283.4 33.0h0M260.1 32.9h0M278.8 32.7h0M262.3 32.9h0M267.5 33.0h0M262.6 32.7h0M270.4 32.9h0M246.6 32.7h0M246.2 33.2h0M224.7 33.1h0M251.6 32.8h0M264.9 33.0h0M254.0 33.1h0M262.7 33.3h0M262.0 33.0h0M262.3 32.7h0M281.0 33.3h0M249.8 33.1h0M258.2 33.2h0M237.8 32.7h0M279.1 33.2h0M272.6 33.3h0M267.3 32.7h0M253.9 33.0h0M272.8 33.4h0M273.0 32.9h0M250.5 32.9h0M261.8 32.9h0M242.8 33.3h0M248.2 33.2h0M243.8 33.1h0M236.9 34.4h0M270.5 34.5h0M270.3 34.1h0M265.1 34.3h0M259.1 34.5h0M252.8 34.4h0M276.7 34.3h0M260.4 34.5h0M259.4 34.3h0M246.6 34.4h0M261.4 34.3h0M280.4 34.6h0M253.1 34.6h0M250.8 34.1h0M281.6 34.1h0M240.4 34.0h0M260.1 34.0h0M258.6 34.3h0M242.0 34.5h0M239.5 34.5h0M266.1 34.4h0M246.0 34.5h0M277.9 34.7h0M262.3 34.7h0M243.0 34.2h0M269.4 34.0h0M252.1 34.2h0M238.4 34.5h0M269.2 34.5h0M287.1 34.5h0M259.4 34.2h0M234.3 34.6h0M259.6 34.7h0M218.1 34.6h0M231.0 36.1h0M252.7 35.5h0M253.0 35.5h0M245.0 35.5h0M255.2 35.7h0M280.1 36.0h0M240.1 35.9h0M257.9 35.5h0M244.8 36.1h0M258.3 35.5h0M254.1 35.9h0M275.3 35.8h0M244.2 35.4h0M275.0 36.0h0M271.6 35.7h0M259.7 36.0h0M281.1 35.9h0M231.1 35.5h0M248.6 36.0h0M243.7 35.6h0M239.0 35.6h0M256.2 35.8h0M261.4 35.8h0M237.9 35.6h0M269.3 35.8h0M262.5 36.0h0M274.7 35.6h0M261.3 35.8h0M246.2 35.9h0M254.7 35.8h0M252.1 36.1h0M255.8 35.8h0M254.6 35.5h0M235.0 35.6h0M242.4 36.0h0M230.3 35.4h0M233.8 35.5h0M239.8 35.4h0M275.0 35.4h0M244.1 35.5h0M253.8 35.6h0M267.4 36.9h0M256.1 37.4h0M259.6 37.1h0M260.7 37.0h0M239.2 37.0h0M248.1 37.1h0M255.5 36.9h0M237.6 37.3h0M261.3 37.2h0M248.0 37.3h0M272.9 37.3h0M263.6 37.1h0M257.6 37.3h0M274.9 37.0h0M249.2 37.4h0M250.2 37.2h0M275.5 37.3h0M258.7 36.8h0M268.9 37.3h0M244.7 36.9h0M242.3 37.3h0M246.3 37.1h0M268.7 37.4h0M274.2 37.2h0M242.8 37.1h0M255.3 37.2h0M251.7 37.3h0M254.7 36.9h0M260.3 36.9h0M237.4 37.0h0M262.9 36.8h0M248.5 36.8h0M272.1 36.9h0M240.3 37.1h0M269.8 37.0h0M260.9 37.2h0M226.6 37.2h0M226.4 38.5h0M258.9 38.1h0M249.1 38.3h0M254.8 38.0h0M257.5 37.9h0M234.0 37.9h0M253.5 38.2h0M269.4 37.9h0M262.7 38.3h0M268.6 38.3h0M246.2 38.0h0M262.4 38.5h0M256.2 38.4h0M255.8 38.4h0M245.7 38.3h0M243.8 37.9h0M298.4 37.9h0M258.7 38.3h0M253.5 38.3h0M278.1 38.0h0M267.4 38.2h0M259.8 38.0h0M235.3 38.4h0M245.6 37.9h0M244.4 38.5h0M233.3 37.9h0M213.6 37.9h0M244.3 38.4h0M260.9 38.1h0M240.7 37.9h0M237.9 38.3h0M240.4 38.1h0M249.4 38.4h0M259.1 37.9h0M243.8 38.1h0M228.9 38.2h0M243.6 38.0h0M254.4 38.5h0M247.1 37.9h0M261.3 38.1h0M240.4 38.5h0M249.8 38.2h0M252.2 38.5h0M259.3 38.1h0M259.2 38.2h0M238.2 38.1h0M256.3 38.0h0M241.0 38.3h0M262.2 38.4h0M237.2 38.1h0M295.3 38.1h0M270.6 38.3h0M250.3 38.5h0M245.7 38.1h0M235.9 38.3h0M248.6 37.9h0M231.1 38.0h0M231.0 38.5h0M246.0 38.0h0M265.1 39.8h0M250.8 39.6h0M261.6 39.6h0M287.4 39.4h0M265.1 39.6h0M237.5 39.5h0M226.5 39.6h0M273.3 39.6h0M247.7 39.5h0M238.3 39.8h0M275.0 39.6h0M280.0 39.4h0M245.2 39.5h0M287.7 39.4h0M240.7 39.7h0M258.3 39.6h0M247.0 39.7h0M244.2 39.9h0M253.6 39.8h0M261.5 39.9h0M254.2 39.9h0M261.4 39.4h0M223.3 39.5h0M259.7 39.4h0M262.2 39.9h0M253.6 39.4h0M257.6 40.0h0M238.8 39.9h0M238.7 40.0h0M263.9 39.3h0M273.4 39.4h0M267.0 39.5h0M247.1 39.8h0M250.6 39.6h0M233.2 39.6h0M222.3 39.6h0M279.6 39.7h0M232.7 39.8h0M241.4 39.9h0M239.3 39.9h0M244.4 41.0h0M277.7 40.6h0M270.3 40.7h0M282.2 40.9h0M240.5 41.1h0M264.2 41.0h0M236.7 40.5h0M256.8 40.8h0M265.8 41.1h0M260.0 40.7h0M255.5 41.1h0M239.9 40.9h0M231.1 40.6h0M247.3 40.6h0M241.3 40.9h0M247.8 40.5h0M258.7 40.5h0M252.6 40.9h0M280.1 41.9h0M223.3 42.1h0M220.5 42.0h0M216.5 41.8h0M256.5 42.0h0M253.5 42.3h0M227.4 42.3h0M272.3 42.3h0M252.0 42.1h0M236.2 42.1h0M257.0 42.0h0M210.3 42.1h0M207.0 42.1h0M258.4 41.8h0M233.8 42.0h0M243.6 42.1h0M259.0 42.1h0M239.5 43.3h0M238.6 43.4h0M251.2 43.4h0M270.2 43.4h0M268.0 43.1h0M226.9 43.6h0M243.1 43.2h0M245.0 43.7h0M246.0 43.1h0M262.9 43.6h0M224.0 43.3h0M232.3 43.5h0M257.4 43.7h0M281.6 43.2h0M232.8 43.3h0M258.1 43.4h0M271.6 43.4h0M223.1 43.1h0M251.7 43.3h0M244.0 43.7h0M250.7 43.4h0M260.7 43.3h0M247.1 43.1h0M252.0 43.5h0M271.7 43.5h0M266.3 43.2h0M276.4 43.5h0M273.2 43.1h0M254.8 43.4h0M242.6 43.1h0M247.6 43.5h0M246.2 43.5h0M254.2 43.5h0M252.6 43.2h0M258.0 43.6h0M255.4 43.3h0M259.4 43.6h0M234.4 43.6h0M258.3 43.6h0M275.8 43.6h0M242.9 43.6h0M249.8 43.4h0M250.9 43.6h0M259.8 43.3h0M243.7 43.4h0M242.5 43.2h0M226.3 43.2h0M253.3 43.1h0M249.4 43.1h0M263.0 43.0h0M254.1 43.1h0M271.3 43.7h0M264.2 43.7h0M250.0 43.2h0M236.7 44.8h0M264.6 44.8h0M226.6 45.2h0M273.7 45.2h0M267.9 45.2h0M252.8 45.0h0M268.3 44.8h0M244.7 44.7h0M270.6 44.8h0M238.3 45.1h0M265.2 44.9h0M234.3 45.1h0M245.0 44.7h0M215.2 45.0h0M206.8 45.1h0M270.9 44.8h0M239.4 45.0h0M244.9 45.3h0M258.5 44.8h0M257.5 44.7h0M269.0 45.3h0M258.5 44.9h0M263.7 44.7h0M232.5 44.7h0M209.9 45.3h0M268.8 45.2h0M268.5 44.9h0M262.7 44.7h0M261.1 45.1h0M264.2 45.1h0M242.3 44.9h0M258.3 44.9h0M239.8 44.8h0M269.5 44.7h0M262.2 44.9h0M258.1 45.0h0M254.0 45.0h0M256.1 45.1h0M266.9 44.8h0M263.2 44.8h0M230.8 45.0h0M241.5 45.3h0M248.9 45.8h0M193.8 46.2h0M226.6 46.0h0M255.8 46.1h0M258.2 46.1h0M220.4 46.0h0M240.2 46.1h0M250.1 46.2h0M254.2 46.2h0M249.9 45.6h0M254.1 45.8h0M259.5 46.1h0M261.1 45.9h0M232.4 46.1h0M246.0 45.6h0M246.1 45.6h0M237.5 45.6h0M255.2 45.6h0M248.3 45.7h0M202.7 45.8h0M240.4 45.6h0M262.6 45.7h0M253.1 45.7h0M209.4 47.2h0M249.9 47.3h0M234.1 47.4h0M226.5 47.4h0M207.9 47.7h0M238.1 47.5h0M220.1 47.6h0M239.1 47.7h0M235.4 47.2h0M230.1 47.3h0M228.6 47.6h0M241.7 47.6h0M252.4 47.7h0M251.3 47.7h0M207.7 47.2h0M204.2 47.7h0M231.7 47.3h0M258.3 47.5h0M233.0 47.5h0M224.5 47.6h0M224.6 47.5h0M240.2 47.5h0M208.6 47.5h0M255.3 47.8h0M232.3 49.0h0M193.9 48.7h0M222.5 48.8h0M215.7 49.1h0M221.3 48.6h0M217.5 48.9h0M203.5 48.5h0M168.2 48.7h0M216.4 48.9h0M234.6 48.5h0M205.8 48.5h0M253.1 48.7h0M224.1 48.9h0M186.5 48.6h0M216.9 49.0h0M222.9 48.7h0M218.5 49.1h0M207.1 48.5h0M215.4 48.5h0M242.1 48.6h0M193.3 49.1h0M223.1 48.6h0M199.8 48.8h0M230.6 49.0h0M249.5 48.7h0M179.8 48.8h0M231.0 48.7h0M233.0 48.9h0M192.5 49.1h0M170.6 48.8h0M145.9 49.1h0M191.9 48.9h0M236.6 48.6h0M240.0 48.7h0M240.3 48.5h0M202.4 48.5h0M213.3 48.8h0M224.5 48.5h0M197.1 49.1h0M215.8 50.2h0M226.2 50.0h0M236.9 49.9h0M176.7 50.1h0M198.8 50.2h0M221.5 49.9h0M226.0 50.1h0M167.6 50.2h0M191.2 50.0h0M207.2 50.2h0M250.6 49.9h0M203.5 50.1h0M223.1 50.1h0M177.5 50.3h0M198.9 50.1h0M220.6 50.0h0M235.6 50.2h0M223.7 50.3h0M199.7 49.8h0M187.5 50.2h0M212.0 49.8h0M179.3 50.0h0M201.3 50.2h0M198.5 49.8h0M246.5 50.3h0M181.8 50.1h0M210.9 50.3h0M193.2 50.0h0M215.3 49.9h0M166.3 50.0h0M209.3 50.0h0M223.9 49.9h0M231.3 50.1h0M207.4 50.2h0M217.0 49.8h0M193.5 50.0h0M244.3 50.1h0M214.7 50.0h0M225.0 49.8h0M221.2 49.9h0M206.1 50.3h0M238.1 51.2h0M226.2 51.2h0M234.9 51.2h0M175.2 51.7h0M205.0 51.1h0M186.5 51.3h0M238.1 51.2h0M209.0 51.2h0M230.4 51.7h0M186.4 51.2h0M201.2 51.1h0M220.9 51.6h0M193.2 51.0h0M204.2 51.1h0M208.5 51.5h0M243.2 51.5h0M185.4 51.3h0M169.0 51.6h0M163.0 51.0h0M199.8 51.5h0M224.5 52.7h0M239.8 52.8h0M191.0 52.7h0M231.0 52.7h0M168.6 52.4h0M192.9 52.9h0M172.3 53.0h0M178.6 52.5h0M215.6 52.8h0M178.1 52.6h0M167.1 52.9h0M221.7 52.8h0M203.2 52.9h0M214.8 52.6h0M212.1 52.7h0M174.9 52.8h0M193.7 52.4h0M195.2 52.8h0M180.7 52.5h0M162.1 52.3h0M191.5 52.9h0M169.1 52.6h0M165.7 52.7h0M179.2 52.4h0M212.0 52.7h0M205.3 52.3h0M165.2 52.4h0M166.9 52.8h0M234.4 52.9h0M186.5 52.5h0M196.6 53.0h0M212.3 52.9h0M210.5 52.7h0M205.8 52.4h0M217.4 52.3h0M216.6 52.9h0M176.9 52.8h0M192.0 52.9h0M219.2 53.0h0M250.9 52.9h0M211.5 52.9h0M209.4 53.6h0M224.7 54.1h0M229.7 53.6h0M190.4 53.7h0M232.1 53.9h0M188.6 53.5h0M193.6 53.6h0M197.5 53.7h0M167.7 53.8h0M190.9 53.7h0M166.3 53.8h0M185.5 53.4h0M166.1 53.8h0M193.8 53.8h0M194.4 53.9h0M177.6 53.8h0M176.4 53.8h0M186.6 53.5h0M205.1 53.5h0M195.7 53.6h0M177.8 53.7h0M180.8 53.9h0M186.5 54.0h0M173.4 53.8h0M204.7 53.5h0M227.9 54.1h0M175.2 54.0h0M174.0 53.7h0M173.7 53.9h0M224.6 53.6h0M174.3 53.8h0M224.5 54.0h0M215.2 53.5h0M191.6 53.4h0M191.5 53.9h0M182.6 54.0h0M180.3 53.6h0M205.3 53.6h0M197.9 53.7h0M205.8 53.7h0M176.0 53.6h0M208.3 53.6h0M179.7 53.4h0M203.3 53.6h0M172.1 53.8h0M198.6 53.6h0M204.8 53.7h0M211.7 53.6h0M182.9 53.9h0M196.5 53.7h0M156.1 54.1h0M195.4 53.4h0M200.8 53.9h0M217.9 53.5h0M158.5 53.5h0M222.8 53.7h0M197.4 53.7h0M192.4 53.6h0M210.4 53.5h0M222.0 53.7h0M199.0 54.0h0M200.6 53.6h0M203.8 53.8h0M201.3 53.5h0M168.1 53.8h0M190.3 55.3h0M210.3 54.9h0M208.3 54.7h0M205.3 55.3h0M239.5 55.1h0M176.2 55.0h0M205.5 54.9h0M227.6 55.4h0M205.8 55.1h0M189.2 54.7h0M179.2 55.0h0M182.1 55.1h0M205.4 55.1h0M188.4 55.3h0M201.2 55.1h0M222.1 54.8h0M207.1 54.9h0M221.7 55.3h0M221.8 55.2h0M173.1 55.1h0M225.0 55.4h0M204.7 54.9h0M201.2 55.3h0M210.8 55.1h0M184.7 55.2h0M206.4 55.2h0M189.7 55.1h0M201.7 55.0h0M184.2 56.7h0M200.8 56.6h0M224.1 56.3h0M196.9 56.3h0M188.5 56.4h0M141.0 56.8h0M175.8 56.8h0M228.1 56.8h0M218.4 56.6h0M182.9 56.5h0M190.5 56.2h0M219.0 56.8h0M198.2 56.3h0M188.9 56.2h0M201.7 56.4h0M180.4 56.3h0M180.4 56.3h0M237.7 56.8h0M177.0 56.7h0M205.3 56.8h0M171.6 56.8h0M184.9 56.7h0M172.8 56.4h0M169.6 56.7h0M189.7 56.7h0M184.3 56.4h0M215.1 56.5h0M190.7 56.5h0M227.9 56.5h0M174.7 56.2h0M188.5 56.7h0M207.3 56.5h0M205.3 56.5h0M173.0 56.7h0M197.5 56.8h0M231.4 56.6h0M219.1 56.5h0M176.3 56.6h0M204.2 56.2h0M188.9 56.6h0M226.2 56.6h0M197.2 56.3h0M179.1 56.6h0M210.4 56.5h0M216.8 56.7h0M183.5 56.2h0M231.4 56.2h0M163.7 56.8h0M242.4 56.3h0M208.2 56.3h0M201.6 56.4h0M187.8 56.3h0M187.9 56.7h0M202.1 56.5h0M231.5 56.2h0M210.1 56.7h0M207.5 56.3h0M202.1 56.5h0M215.3 56.8h0M208.5 56.3h0M197.2 56.8h0M180.6 56.2h0M191.7 56.4h0M157.6 56.8h0M189.6 56.3h0M180.3 58.0h0M146.7 58.0h0M141.9 57.9h0M180.5 58.3h0M204.7 58.1h0M212.4 58.2h0M205.4 58.3h0M192.0 57.9h0M191.1 57.8h0M160.8 57.9h0M225.5 57.8h0M223.1 58.3h0M220.9 58.0h0M177.1 58.2h0M196.5 57.9h0M235.9 58.1h0M224.1 58.2h0M226.8 57.7h0M177.2 58.3h0M181.9 57.7h0M171.5 57.7h0M199.8 58.0h0M197.3 57.9h0M217.1 57.6h0M206.5 57.7h0M175.1 57.8h0M202.8 57.8h0M179.0 57.7h0M220.6 58.3h0M152.6 58.2h0M208.6 57.9h0M197.0 58.2h0M164.9 58.1h0M219.6 57.9h0M175.5 57.8h0M161.0 58.2h0M203.8 57.6h0M219.0 57.8h0M184.8 58.0h0M202.2 58.1h0M204.6 57.8h0M187.4 58.1h0M206.7 58.1h0M182.3 57.8h0M170.6 58.3h0M182.3 59.4h0M177.7 58.8h0M185.1 58.8h0M220.6 58.8h0M187.9 59.2h0M220.7 59.2h0M192.3 59.0h0M193.3 59.1h0M190.9 59.1h0M200.0 59.1h0M178.8 59.4h0M174.0 59.3h0M186.2 58.9h0M174.4 58.9h0M179.8 59.3h0M187.8 58.8h0M141.8 58.8h0M185.7 59.1h0M205.0 59.2h0M162.1 58.8h0M172.7 58.8h0M215.2 59.4h0M252.5 59.3h0M180.4 58.8h0M205.8 59.2h0M192.3 59.3h0M190.6 59.3h0M160.4 58.9h0M194.4 60.3h0M183.6 60.2h0M193.4 60.1h0M177.7 60.6h0M171.2 60.3h0M243.0 60.3h0M155.7 60.5h0M182.2 60.2h0M202.7 60.4h0M204.3 60.6h0M180.2 60.4h0M218.5 60.7h0M203.3 60.5h0M209.2 60.6h0M170.3 60.1h0M177.2 60.3h0M186.5 60.6h0M181.8 60.4h0M214.6 60.1h0M176.7 60.4h0M209.4 60.6h0M183.5 60.1h0M169.5 60.2h0M234.3 60.5h0M165.9 60.4h0M163.2 60.2h0M243.4 60.5h0M180.2 60.1h0M166.9 60.1h0M190.6 60.2h0M169.3 60.3h0M170.4 60.5h0M205.2 60.4h0M169.5 60.4h0M199.2 60.6h0M181.2 60.6h0M185.5 60.3h0M156.2 60.6h0M161.0 60.4h0M196.2 60.7h0M186.2 60.8h0M191.1 60.5h0M158.1 60.1h0M249.2 60.3h0M170.3 60.1h0M204.4 60.3h0M216.4 60.1h0M178.8 60.1h0M221.6 60.1h0M214.3 60.4h0M173.7 60.3h0M191.8 60.1h0M211.0 60.1h0M197.3 60.4h0M169.4 60.8h0M178.3 60.2h0M210.5 60.4h0M191.9 60.5h0M183.2 60.3h0M229.0 60.7h0M238.1 60.3h0M174.0 60.4h0M217.2 60.6h0M187.8 60.1h0M245.2 60.3h0M203.2 62.0h0M170.9 61.7h0M187.2 61.8h0M225.5 62.0h0M233.1 62.0h0M179.4 61.7h0M168.9 61.6h0M208.7 62.1h0M200.2 61.8h0M183.0 61.6h0M174.1 61.5h0M167.7 62.0h0M184.4 62.0h0M204.5 61.5h0M172.1 62.0h0M189.2 61.9h0M188.3 61.5h0M208.2 62.0h0M181.4 61.9h0M209.1 61.7h0M200.7 61.9h0M201.5 61.9h0M176.6 61.6h0M205.4 61.5h0M231.7 62.1h0M199.8 62.0h0M190.9 61.6h0M164.9 62.1h0M195.5 63.1h0M180.4 62.9h0M178.6 62.9h0M201.4 62.8h0M184.3 63.1h0M193.0 62.7h0M188.5 62.9h0M210.6 63.1h0M192.8 62.9h0M147.3 63.0h0M206.3 63.1h0M192.7 62.6h0M192.2 62.9h0M195.2 62.9h0M177.5 62.9h0M182.7 63.2h0M192.1 62.6h0M166.4 62.6h0M189.8 63.3h0M209.3 63.2h0M211.4 62.8h0M165.8 63.3h0M179.4 62.9h0M200.8 63.0h0M191.6 63.2h0M211.7 63.2h0M200.3 62.9h0M185.2 62.7h0M219.0 63.1h0M177.8 63.0h0M206.8 63.0h0M191.8 63.0h0M197.0 62.7h0M200.0 62.8h0M164.5 63.0h0M195.8 63.1h0M222.7 63.2h0M208.1 63.0h0M161.2 63.0h0M182.8 62.7h0M219.9 62.9h0M219.3 62.9h0M185.8 62.9h0M181.2 63.0h0M204.6 63.3h0M212.6 62.9h0M198.4 63.1h0M161.3 62.7h0M168.4 63.3h0M186.6 63.2h0M223.1 62.7h0M176.7 62.6h0M181.7 63.3h0M195.2 63.9h0M188.2 63.9h0M216.3 63.9h0M166.6 64.0h0M198.6 64.1h0M166.5 64.2h0M199.7 64.3h0M173.1 63.8h0M174.3 64.0h0M183.3 64.3h0M208.2 64.0h0M214.7 64.3h0M207.0 63.9h0M190.5 64.3h0M167.1 64.3h0M192.8 64.2h0M207.5 64.4h0M190.8 64.2h0M179.6 63.8h0M215.7 64.5h0M204.3 64.1h0M195.5 64.2h0M181.9 64.3h0M215.1 64.5h0M168.3 64.0h0M171.4 64.4h0M191.7 64.3h0M190.1 64.3h0M212.5 65.6h0M184.0 65.3h0M202.4 65.5h0M188.6 65.6h0M196.3 65.3h0M255.9 65.6h0M210.3 65.2h0M220.5 65.2h0M180.8 65.7h0M202.8 65.3h0M191.0 65.6h0M180.6 65.7h0M184.8 65.8h0M223.6 65.2h0M216.2 65.2h0M252.5 65.8h0M215.7 65.3h0M174.1 65.2h0M202.2 65.1h0M162.8 65.2h0M223.1 65.1h0M186.9 65.4h0M200.8 65.6h0M184.1 65.2h0M177.1 65.6h0M211.6 65.4h0M181.8 65.4h0M202.0 65.4h0M170.1 65.2h0M205.0 65.1h0M186.1 65.2h0M227.9 65.2h0M184.2 65.2h0M192.1 65.1h0M178.9 65.2h0M170.3 65.5h0M194.0 65.7h0M195.4 65.1h0M235.3 65.4h0M184.7 65.6h0M206.1 65.4h0M182.9 65.6h0M201.1 65.3h0M194.7 65.1h0M211.7 65.5h0M188.1 65.5h0M211.2 65.2h0M179.6 65.5h0M197.9 65.6h0M230.7 65.2h0M201.0 65.2h0M227.7 65.2h0M198.3 65.4h0M210.5 66.5h0M192.2 67.0h0M189.7 66.7h0M161.9 66.5h0M165.9 66.8h0M197.1 66.6h0M189.8 67.0h0M178.5 66.5h0M177.2 66.7h0M190.6 66.9h0M179.2 66.5h0M175.7 66.7h0M208.5 67.0h0M185.9 66.7h0M195.3 66.8h0M217.9 66.6h0M165.5 66.8h0M191.8 66.5h0M208.0 66.7h0M176.9 66.9h0M187.8 66.7h0M193.7 66.6h0M176.9 66.5h0M201.4 66.9h0M177.1 67.1h0M217.8 66.6h0M172.9 66.7h0M179.8 67.0h0M188.8 66.8h0M174.1 66.6h0M201.9 66.7h0M176.3 66.7h0M226.2 67.1h0M211.9 66.7h0M187.1 66.5h0M164.9 66.5h0M174.0 66.9h0M171.0 68.4h0M203.2 68.4h0M160.7 68.0h0M191.0 68.6h0M182.8 68.0h0M203.8 68.6h0M174.6 68.5h0M188.9 67.9h0M160.9 68.0h0M212.2 68.2h0M186.3 68.4h0M199.0 68.3h0M205.5 68.4h0M181.9 68.6h0M182.8 68.4h0M186.1 68.1h0M208.0 68.4h0M167.7 68.1h0M186.3 68.0h0M183.3 68.0h0M185.8 68.5h0M187.9 68.4h0M221.2 68.2h0M185.9 68.5h0M197.6 68.6h0M215.0 68.3h0M206.4 68.0h0M186.4 68.1h0M194.9 68.3h0M179.4 68.2h0M218.8 68.2h0M198.3 68.0h0M187.2 68.3h0M198.8 68.4h0M218.8 68.6h0M174.0 68.1h0M154.9 68.3h0M202.6 68.1h0M174.0 68.3h0M186.6 68.5h0M185.7 68.6h0M200.8 68.2h0M192.5 68.0h0M216.5 68.3h0M186.7 68.3h0M180.7 69.9h0M183.9 69.4h0M200.2 69.5h0M189.1 69.8h0M174.6 69.9h0M209.7 69.4h0M177.8 69.7h0M236.2 69.6h0M203.2 69.6h0M225.0 69.7h0M189.9 69.7h0M196.2 69.3h0M195.2 69.8h0M189.5 69.5h0M191.9 69.5h0M216.5 69.7h0M211.5 69.5h0M182.3 69.8h0M248.8 69.6h0M192.3 69.8h0M213.4 69.6h0M218.6 69.2h0M200.8 69.8h0M185.1 69.3h0M240.0 69.7h0M151.1 69.6h0M188.6 69.8h0M197.9 69.9h0M202.1 69.9h0M203.0 69.3h0M193.0 69.9h0M206.5 69.7h0M182.5 69.4h0M227.9 69.7h0M184.8 69.7h0M141.1 69.3h0M194.7 69.7h0M214.3 69.4h0M212.5 69.8h0M207.9 69.5h0M166.3 69.4h0M198.0 71.1h0M204.6 70.6h0M223.5 70.6h0M174.9 70.9h0M200.0 71.0h0M214.6 71.2h0M187.1 70.6h0M207.1 71.2h0M186.5 70.8h0M210.3 70.6h0M184.9 71.1h0M180.5 71.1h0M205.5 70.8h0M191.3 71.1h0M194.2 71.1h0M197.8 71.1h0M187.3 70.8h0M216.5 71.2h0M185.6 70.7h0M213.3 70.7h0M196.6 71.1h0M189.5 70.7h0M183.4 71.0h0M202.0 71.0h0M201.9 71.1h0M176.6 70.6h0M239.4 70.6h0M173.1 70.6h0M189.9 72.1h0M204.9 72.1h0M191.2 72.1h0M215.5 72.3h0M211.4 72.3h0M223.4 72.4h0M188.6 72.0h0M152.2 72.3h0M197.6 72.3h0M209.3 71.9h0M197.1 72.4h0M163.5 72.2h0M207.9 72.0h0M197.9 72.0h0M202.1 72.0h0M205.1 71.8h0M179.1 72.1h0M197.3 71.8h0M171.0 71.8h0M189.2 72.4h0M197.4 72.3h0M243.2 72.3h0M245.2 72.2h0M194.5 72.1h0M193.6 72.3h0M205.3 71.8h0M215.5 72.2h0M166.9 72.1h0M204.9 71.7h0M218.6 71.9h0M180.0 71.7h0M202.8 72.4h0M192.0 72.3h0M199.6 72.1h0M187.3 72.2h0M199.3 72.0h0M206.8 71.8h0M211.7 71.8h0M219.9 72.1h0M202.5 71.9h0M187.8 72.3h0M193.4 72.3h0M225.0 72.3h0M197.9 71.8h0M175.2 72.2h0M206.6 72.1h0M211.6 72.3h0M183.7 71.9h0M216.3 72.3h0M151.8 72.1h0M211.9 72.2h0M181.9 72.0h0M186.6 71.7h0M223.0 72.9h0M192.1 73.1h0M193.2 73.5h0M215.8 73.6h0M204.0 73.5h0M176.4 73.2h0M171.9 73.3h0M219.2 73.5h0M180.6 73.1h0M208.5 73.4h0M192.9 73.2h0M192.8 73.2h0M187.0 73.0h0M175.8 73.1h0M212.4 73.2h0M220.3 73.6h0M195.0 73.3h0M213.8 73.0h0M172.0 73.6h0M178.4 73.0h0M197.7 73.0h0M196.1 73.4h0M206.7 73.1h0M190.6 73.2h0M172.6 73.3h0M162.4 73.0h0M168.8 73.4h0M173.3 73.4h0M194.5 73.2h0M203.5 73.3h0M191.8 73.4h0M209.8 73.5h0M207.7 73.2h0M186.2 73.5h0M208.6 73.4h0M210.0 73.3h0M218.2 73.4h0M191.3 73.6h0M184.4 73.0h0M218.8 73.6h0M190.1 73.2h0M191.3 73.1h0M195.9 73.5h0M237.1 73.1h0M185.2 73.6h0M207.5 73.2h0M220.1 73.2h0M165.2 73.4h0M221.3 73.4h0M200.8 73.0h0M212.3 73.2h0M209.8 73.2h0M214.6 73.0h0M223.5 75.0h0M184.6 74.6h0M180.5 75.0h0M192.8 74.8h0M185.0 74.7h0M203.0 74.9h0M206.4 75.1h0M223.1 74.5h0M212.7 74.5h0M210.2 75.1h0M190.5 75.2h0M214.2 75.1h0M240.2 74.9h0M215.8 74.9h0M208.9 74.7h0M192.7 74.8h0M204.5 75.2h0M198.5 74.7h0M201.2 74.6h0M161.9 75.0h0M212.0 76.1h0M217.0 75.8h0M190.1 75.9h0M211.4 75.9h0M197.7 76.1h0M176.9 75.8h0M166.0 75.8h0M189.8 76.0h0M181.8 76.0h0M215.3 75.8h0M196.1 76.1h0M197.5 75.7h0M203.2 75.9h0M196.6 75.9h0M182.4 76.2h0M184.1 76.2h0M194.1 76.0h0M173.6 76.1h0M218.7 76.0h0M179.8 76.2h0M202.1 75.9h0M164.1 76.2h0M169.3 76.2h0M204.6 75.7h0M224.9 75.8h0M196.6 75.6h0M172.7 75.9h0M176.2 75.7h0M214.1 76.0h0M201.2 75.9h0M209.7 75.9h0M190.7 75.9h0M165.1 76.1h0M191.3 75.9h0M207.1 75.8h0M199.8 75.8h0M205.4 76.2h0M185.2 76.2h0M177.1 75.9h0M151.0 76.1h0M181.4 75.9h0M197.2 75.9h0M191.0 76.1h0M197.5 76.0h0M201.5 76.2h0M166.8 77.2h0M200.9 77.4h0M184.9 77.0h0M192.9 77.1h0M159.7 77.0h0M209.1 77.1h0M181.7 77.0h0M216.8 77.3h0M189.3 77.4h0M179.2 77.1h0M209.7 77.5h0M191.5 77.0h0M166.5 77.0h0M206.6 77.5h0M196.4 77.5h0M193.3 77.2h0M180.0 77.0h0M190.7 76.9h0M199.5 77.3h0M159.2 76.9h0M207.0 77.5h0M179.0 77.1h0M207.7 76.9h0M189.4 77.3h0M196.4 77.1h0M177.0 77.0h0M180.6 77.5h0M173.7 77.0h0M193.9 78.6h0M194.2 78.4h0M194.4 78.6h0M194.3 78.9h0M191.4 78.8h0M232.4 78.3h0M203.5 78.9h0M194.2 78.5h0M203.8 78.4h0M203.3 78.4h0M196.4 78.4h0M200.3 78.7h0M159.6 78.9h0M213.0 78.9h0M207.2 79.0h0M192.6 78.4h0M210.2 79.0h0M174.0 78.4h0M180.0 78.7h0M196.8 78.4h0M205.2 78.8h0M171.9 78.5h0M202.3 78.7h0M191.7 78.5h0M184.0 78.7h0M194.3 78.8h0M214.8 78.6h0M185.6 78.5h0M184.4 78.9h0M196.7 78.7h0M184.4 79.0h0M196.8 78.4h0M185.7 78.9h0M206.9 78.4h0M184.7 78.7h0M191.8 78.7h0M197.9 78.9h0M189.7 79.0h0M183.6 78.7h0M182.7 78.8h0M162.9 78.4h0M209.4 78.8h0M167.5 78.5h0M204.2 78.7h0M210.2 79.0h0M178.6 78.9h0M178.7 79.0h0M172.5 78.3h0M228.2 78.8h0M195.7 78.9h0M159.0 78.5h0M199.6 78.6h0M199.1 78.5h0M225.3 80.0h0M184.1 80.2h0M173.1 79.9h0M191.1 80.1h0M220.8 79.7h0M179.0 80.0h0M200.3 80.0h0M185.4 79.9h0M185.0 79.9h0M174.0 79.8h0M160.4 80.3h0M204.4 80.0h0M212.6 80.2h0M181.0 79.8h0M180.0 79.8h0M212.3 79.7h0M157.0 79.9h0M192.4 80.2h0M200.3 80.0h0M181.1 79.8h0M192.7 81.1h0M197.9 81.6h0M168.1 81.4h0M197.6 81.0h0M190.0 81.6h0M179.2 81.5h0M176.9 81.1h0M185.3 81.6h0M200.3 81.4h0M189.2 81.4h0M176.5 81.1h0M188.1 81.0h0M211.3 81.6h0M187.4 81.0h0M178.1 81.6h0M186.0 81.0h0M181.9 81.6h0M177.7 81.5h0M176.4 81.0h0M188.6 81.0h0M167.0 81.0h0M201.2 81.5h0M199.6 81.3h0M200.4 81.0h0M197.1 81.6h0M187.1 81.5h0M152.4 81.3h0M187.7 81.0h0M203.4 81.4h0M176.4 81.3h0M202.9 81.4h0M167.7 81.0h0M190.7 81.5h0M184.1 81.0h0M174.0 81.2h0M170.5 81.1h0M174.1 81.1h0M176.4 81.3h0M194.0 81.6h0M185.5 81.1h0M186.8 81.0h0M202.6 81.5h0M220.9 81.0h0M179.3 81.2h0M189.5 81.1h0M190.8 81.2h0M193.0 81.2h0M184.5 81.6h0M208.2 81.1h0M182.9 81.0h0M161.9 81.1h0M190.8 81.3h0M204.0 81.2h0M188.1 82.1h0M162.2 82.2h0M200.7 82.2h0M198.4 82.3h0M175.6 82.6h0M175.0 82.7h0M167.5 82.3h0M182.6 82.2h0M202.9 82.7h0M199.0 82.2h0M190.5 82.1h0M171.9 82.5h0M190.0 82.4h0M199.3 82.7h0M187.8 82.2h0M168.6 82.1h0M164.1 82.5h0M159.8 82.8h0M194.1 82.7h0M174.7 82.5h0M197.7 82.8h0M178.9 82.5h0M209.3 82.2h0M179.8 82.4h0M176.3 82.4h0M173.6 82.5h0M193.1 82.1h0M188.1 82.6h0M186.5 82.5h0M196.2 82.3h0M182.4 82.5h0M181.4 82.6h0M173.5 82.4h0M177.2 82.2h0M171.3 82.7h0M176.1 82.2h0M184.7 82.7h0M183.8 82.5h0M168.7 82.1h0M195.7 82.6h0M164.7 82.3h0M185.9 83.6h0M205.3 83.3h0M191.3 83.5h0M193.2 83.9h0M179.2 83.6h0M183.5 83.4h0M163.1 83.3h0M198.3 83.5h0M180.6 83.4h0M194.7 83.7h0M188.5 83.3h0M207.2 83.5h0M158.9 83.7h0M188.1 83.8h0M169.2 83.5h0M185.2 83.4h0M192.2 83.5h0M189.7 83.4h0M150.8 83.9h0M186.1 83.9h0M186.4 83.7h0M192.5 83.3h0M164.9 83.9h0M193.9 83.6h0M174.2 83.6h0M154.7 83.4h0M201.0 83.9h0M172.4 83.7h0M200.8 83.5h0M182.5 83.6h0M181.2 83.7h0M201.7 83.8h0M198.8 83.5h0M182.5 83.8h0M182.9 83.9h0M211.4 83.8h0M220.3 83.3h0M184.0 85.2h0M179.1 85.2h0M206.1 85.1h0M193.9 85.5h0M205.2 85.0h0M191.8 85.6h0M189.7 85.0h0M199.2 84.9h0M172.3 85.1h0M171.3 84.9h0M195.1 85.5h0M175.4 84.9h0M202.6 85.5h0M180.0 85.2h0M188.6 85.3h0M169.2 85.0h0M171.6 85.4h0M178.3 85.4h0M170.6 85.0h0M177.7 85.0h0M180.0 85.3h0M193.0 85.4h0M195.5 85.5h0M172.2 85.1h0M187.4 85.5h0M181.3 85.5h0M170.8 85.0h0M183.8 85.5h0M180.8 85.3h0M186.8 85.3h0M204.0 85.1h0M191.3 85.0h0M166.2 85.3h0M174.1 85.2h0M167.8 85.4h0M191.8 85.1h0M192.3 85.0h0M171.6 85.1h0M201.6 85.5h0M169.5 85.3h0M163.7 84.9h0M166.0 85.5h0M151.3 84.9h0M195.2 85.2h0M168.1 85.2h0M180.3 85.6h0M181.6 85.4h0M160.8 85.5h0M187.0 84.9h0M190.7 85.5h0M182.9 85.3h0M195.7 85.2h0M184.1 85.0h0M177.2 85.4h0M178.9 84.9h0M205.9 85.2h0M185.6 85.0h0M180.0 85.0h0M178.5 84.9h0M171.1 85.0h0M206.8 85.4h0M182.9 85.5h0M176.7 84.9h0M200.8 85.3h0M196.0 84.9h0M155.3 86.3h0M163.9 86.4h0M202.8 86.8h0M174.8 86.8h0M182.4 86.3h0M166.1 86.3h0M203.5 86.8h0M163.9 86.3h0M192.3 86.2h0M175.1 86.8h0M162.5 86.5h0M187.6 86.7h0M175.4 86.7h0M188.2 86.5h0M164.9 86.4h0M190.9 86.4h0M173.2 86.5h0M174.4 86.7h0M197.6 86.8h0M204.0 86.5h0M181.4 86.8h0M164.1 86.2h0M165.5 86.6h0M160.3 86.5h0M175.7 86.8h0M177.4 86.3h0M192.6 86.1h0M164.1 86.6h0M193.8 87.7h0M203.3 87.7h0M186.6 87.4h0M164.0 87.5h0M169.0 87.9h0M173.9 87.9h0M158.3 87.9h0M179.7 88.0h0M172.8 87.9h0M168.4 87.3h0M172.2 87.3h0M170.1 87.4h0M174.9 87.4h0M203.5 88.0h0M177.2 87.3h0M189.9 87.3h0M169.1 87.8h0M178.6 87.9h0M179.8 87.4h0M180.5 87.9h0M168.4 87.9h0M211.0 88.0h0M170.4 87.6h0M167.1 87.4h0M176.9 87.4h0M161.9 87.5h0M177.3 88.0h0M202.2 87.9h0M171.5 87.9h0M173.8 87.8h0M174.0 87.6h0M185.9 87.8h0M180.1 87.6h0M178.6 87.6h0M174.9 87.4h0M183.4 87.8h0M166.7 88.0h0M166.7 89.2h0M165.7 89.2h0M182.6 89.2h0M170.5 88.9h0M157.2 89.2h0M156.0 89.2h0M197.2 89.4h0M169.0 89.1h0M198.1 89.0h0M174.5 89.1h0M172.2 89.2h0M177.8 88.9h0M176.3 89.3h0M207.8 89.2h0M191.2 89.2h0M180.1 89.3h0M179.1 88.9h0M183.8 89.0h0M171.7 89.3h0M186.9 89.0h0M169.3 89.3h0M175.4 88.9h0M162.3 89.2h0M199.0 89.4h0M198.6 89.3h0M171.9 88.8h0M193.2 88.8h0M173.3 89.4h0M184.8 88.8h0M198.4 88.8h0M177.8 89.0h0M171.7 89.3h0M166.4 88.8h0M173.7 88.8h0M185.0 88.8h0M183.5 88.9h0M175.9 89.4h0M178.5 88.8h0M165.7 88.8h0M186.4 88.9h0M190.3 88.9h0M152.0 90.2h0M189.3 90.4h0M173.9 90.6h0M164.3 90.5h0M173.0 90.3h0M171.1 90.5h0M187.2 90.3h0M159.8 90.7h0M186.4 90.8h0M176.8 90.5h0M170.9 90.5h0M186.3 90.2h0M191.4 90.2h0M171.7 90.4h0M183.9 90.6h0M178.5 90.7h0M167.8 90.4h0M159.9 90.6h0M182.1 90.6h0M174.4 90.4h0M168.9 90.5h0M152.4 90.5h0M188.4 90.3h0M184.3 90.2h0M192.2 90.6h0M154.8 90.4h0M165.3 90.2h0M203.1 90.3h0M188.9 90.6h0M185.6 90.3h0M181.0 90.4h0M169.9 90.5h0M187.5 90.2h0M157.3 90.2h0M186.9 90.1h0M177.5 90.8h0M168.1 90.4h0M181.3 90.7h0M163.2 90.7h0M176.1 90.4h0M200.8 90.6h0M175.0 90.6h0M179.4 90.8h0M170.2 90.4h0M189.0 90.3h0M168.6 90.8h0M169.3 90.8h0M180.0 90.8h0M178.3 90.2h0M177.5 90.8h0M172.6 90.2h0M182.7 90.4h0M179.0 90.4h0M158.9 91.6h0M171.1 91.4h0M189.6 91.6h0M180.7 91.8h0M198.7 91.2h0M169.5 91.2h0M205.7 91.5h0M168.2 91.7h0M169.2 91.8h0M159.8 91.5h0M182.8 91.5h0M207.8 91.3h0M204.4 91.8h0M173.5 91.6h0M176.7 91.5h0M179.8 91.4h0M172.8 91.7h0M187.8 91.5h0M161.8 91.6h0M172.0 91.5h0M171.2 91.6h0M164.5 91.8h0M171.9 91.4h0M193.7 91.8h0M197.4 91.4h0M154.7 91.8h0M179.0 91.7h0M172.2 91.6h0M167.6 91.7h0M182.0 91.6h0M160.1 91.8h0M175.1 91.8h0M209.4 91.6h0M182.3 91.2h0M174.1 91.6h0M203.0 91.6h0M169.3 91.6h0M187.2 93.0h0M159.1 92.6h0M179.4 92.7h0M188.6 93.2h0M174.9 92.6h0M181.9 93.2h0M169.4 92.8h0M177.9 93.0h0M167.2 92.6h0M182.0 93.2h0M195.8 93.0h0M187.2 92.7h0M163.0 92.6h0M187.9 92.9h0M176.5 92.8h0M173.2 93.2h0M167.7 93.1h0M182.0 92.9h0M182.4 93.2h0M177.0 93.1h0M181.6 94.3h0M189.3 94.2h0M159.4 94.4h0M184.0 94.1h0M182.6 93.9h0M172.9 94.1h0M189.0 94.1h0M170.0 94.5h0M192.4 93.9h0M160.6 93.9h0M153.4 94.2h0M166.2 94.3h0M185.2 94.4h0M182.9 94.1h0M192.1 94.2h0M172.4 94.4h0M192.1 93.9h0M179.5 94.2h0M173.7 94.3h0M191.5 93.9h0M186.5 94.1h0M173.1 94.1h0M163.6 94.2h0M194.9 93.9h0M172.0 94.0h0M171.8 94.3h0M166.7 94.2h0M175.5 94.1h0M196.1 94.4h0M180.1 94.3h0M172.9 94.0h0M200.8 94.5h0M167.2 94.1h0M175.9 94.5h0M173.7 94.3h0M169.6 94.3h0M182.0 93.8h0M190.7 94.1h0M176.3 94.5h0M163.0 94.4h0M191.9 94.0h0M199.7 93.9h0M190.2 94.0h0M166.6 94.1h0M167.8 94.5h0M194.9 95.3h0M169.3 95.7h0M181.4 95.7h0M166.4 95.9h0M154.8 95.7h0M191.4 95.6h0M197.7 95.3h0M177.2 95.6h0M171.2 95.6h0M178.5 95.5h0M187.7 95.4h0M176.1 95.9h0M174.4 95.4h0M180.4 95.4h0M184.6 95.5h0M185.4 95.8h0M177.4 95.3h0M200.4 95.9h0M169.8 95.9h0M173.2 95.5h0M188.5 95.4h0M185.8 95.9h0M173.1 95.7h0M210.3 95.5h0M193.3 95.4h0M188.4 95.8h0M167.2 95.5h0M192.9 95.6h0M197.1 96.7h0M197.9 96.8h0M174.9 97.0h0M183.3 97.0h0M178.8 97.2h0M171.1 96.7h0M187.4 97.2h0M172.6 96.8h0M179.1 96.6h0M181.0 96.8h0M165.8 96.8h0M191.2 96.8h0M187.4 96.9h0M195.8 96.7h0M199.4 97.0h0M187.8 96.8h0M194.2 96.7h0M193.8 96.8h0M186.0 97.3h0M176.6 97.0h0M179.0 96.7h0M162.9 96.8h0M181.7 97.1h0M187.5 97.0h0M173.0 96.7h0M184.0 96.8h0M174.9 97.1h0M167.6 96.7h0M180.5 96.6h0M183.6 97.2h0M171.5 97.0h0M187.8 97.1h0M178.7 96.8h0M193.5 97.3h0M190.4 96.8h0M195.4 97.3h0M159.3 97.0h0M169.1 96.9h0M192.0 96.9h0M183.3 96.9h0M177.8 96.8h0M192.1 96.8h0M173.5 96.6h0M181.6 97.2h0M186.2 97.1h0M198.9 98.6h0M164.2 98.5h0M168.6 98.6h0M168.6 98.5h0M188.5 98.1h0M169.4 98.6h0M193.8 98.6h0M193.8 98.2h0M194.4 98.3h0M183.6 98.6h0M203.1 98.4h0M160.8 98.4h0M172.4 98.0h0M195.9 98.2h0M183.0 98.0h0M159.4 98.2h0M188.7 98.0h0M177.6 98.2h0M158.1 98.3h0M186.0 98.2h0M178.4 98.1h0M165.8 98.6h0M167.8 98.0h0M189.7 98.5h0M186.9 98.5h0M158.9 98.6h0M190.2 98.3h0M208.8 98.4h0M197.9 98.5h0M191.4 98.5h0M171.2 98.2h0M201.3 98.2h0M192.3 98.4h0M155.8 98.5h0M185.2 98.4h0M174.3 98.0h0M162.5 98.6h0M174.5 98.3h0M175.1 98.3h0M156.9 98.4h0M196.0 98.4h0M169.1 98.4h0M191.0 98.3h0M200.2 98.5h0M190.1 98.3h0M189.0 98.4h0M188.4 98.1h0M166.5 98.1h0M189.8 98.2h0M179.0 98.1h0M189.8 98.3h0M185.4 98.3h0M187.0 98.3h0M197.0 98.2h0M188.3 98.5h0M187.5 98.4h0M184.1 98.2h0M171.5 98.6h0M181.1 98.2h0M172.6 98.3h0M168.2 98.1h0M203.7 98.6h0M171.1 98.0h0M191.0 98.6h0M175.1 98.5h0M180.5 99.2h0M184.5 99.6h0M178.4 99.3h0M190.9 99.2h0M159.3 99.3h0M188.0 99.8h0M190.0 99.1h0M156.9 99.3h0M190.7 99.5h0M178.3 99.4h0M193.3 99.2h0M185.7 99.3h0M185.5 99.6h0M206.6 99.7h0M174.8 99.2h0M171.8 99.6h0M180.4 99.4h0M192.6 99.7h0M188.4 99.7h0M194.9 99.4h0M187.3 99.3h0M181.2 99.5h0M191.4 99.2h0M187.0 99.6h0M164.0 99.4h0M184.3 99.4h0M194.2 99.6h0M190.7 99.8h0M180.3 99.8h0M198.5 99.6h0M195.7 99.6h0M176.0 99.4h0M184.1 99.3h0M197.4 99.7h0M172.6 99.4h0M185.5 99.4h0M180.2 99.6h0M186.5 99.3h0M180.0 99.4h0M172.0 99.3h0M179.6 99.2h0M179.8 99.3h0M185.5 99.7h0M200.8 99.8h0M168.0 99.3h0M166.8 99.6h0M202.4 99.7h0M165.3 99.2h0M162.5 99.6h0M197.0 99.3h0M181.7 99.8h0M182.7 99.3h0M184.2 99.3h0M166.3 99.2h0M185.1 99.4h0M179.0 99.5h0M169.6 99.3h0M173.7 99.1h0M169.6 99.7h0M193.9 99.8h0M197.4 99.6h0M165.6 99.2h0M191.5 99.2h0M178.5 99.6h0M168.2 99.7h0M181.6 100.8h0M175.1 100.8h0M168.6 100.9h0M174.7 101.0h0M175.1 100.9h0M199.4 100.6h0M169.2 101.0h0M191.5 100.5h0M184.8 100.4h0M194.4 100.9h0M199.7 100.6h0M181.3 100.7h0M173.0 100.9h0M180.7 100.7h0M185.7 100.6h0M182.1 100.4h0M168.5 100.8h0M190.1 100.4h0M161.2 100.4h0M176.5 100.4h0M176.7 100.8h0M201.0 100.6h0M179.1 100.6h0M186.0 101.0h0M188.1 100.4h0M160.4 100.6h0M176.5 100.6h0M186.5 100.4h0M177.7 101.0h0M180.8 100.7h0M190.4 100.7h0M178.5 101.0h0M184.0 100.6h0M194.1 100.9h0M176.8 100.5h0M189.0 100.8h0M170.5 100.4h0M158.7 100.7h0M199.4 100.5h0M189.3 100.7h0M182.2 100.4h0M201.7 100.7h0M170.5 101.0h0M176.2 100.6h0M173.6 101.0h0M181.8 100.5h0M178.9 101.0h0M164.1 100.9h0M174.1 100.9h0M176.9 100.5h0M197.6 100.6h0M178.2 100.5h0M189.7 100.7h0M157.3 101.9h0M160.0 101.9h0M190.7 101.8h0M212.1 101.8h0M168.6 102.2h0M209.2 101.8h0M180.8 102.3h0M207.3 101.9h0M188.7 102.1h0M188.9 102.4h0M197.1 102.0h0M174.4 101.7h0M175.5 101.8h0M169.7 101.8h0M185.1 102.3h0M163.7 101.7h0M188.4 101.8h0M157.7 101.7h0M203.7 101.8h0M187.8 102.0h0M170.4 102.3h0M163.4 102.2h0M180.7 101.8h0M195.1 102.1h0M169.9 102.0h0M179.1 101.9h0M166.3 102.1h0M190.9 102.1h0M176.0 102.0h0M168.0 101.8h0M193.5 102.3h0M179.6 102.1h0M168.3 101.8h0M166.9 102.3h0M185.0 102.1h0M172.0 102.0h0M189.2 101.8h0M178.5 102.3h0M173.1 102.2h0M195.1 101.9h0M199.5 102.1h0M169.4 102.0h0M193.6 102.4h0M200.7 101.9h0M168.8 102.4h0M214.7 103.7h0M169.7 103.8h0M199.9 103.7h0M227.4 103.2h0M188.4 103.3h0M168.1 103.3h0M198.8 103.6h0M207.8 103.5h0M167.9 103.7h0M207.1 103.6h0M177.2 103.6h0M222.4 103.5h0M219.1 103.6h0M177.1 103.4h0M206.9 103.5h0M175.1 103.3h0M188.6 103.3h0M182.7 103.6h0M219.8 103.6h0M172.3 103.6h0M180.7 103.4h0M167.8 103.2h0M173.0 103.4h0M169.5 103.4h0M167.0 103.5h0M178.0 103.6h0M179.0 103.8h0M162.4 103.8h0M185.4 103.8h0M179.4 103.2h0M172.6 103.3h0M182.1 103.6h0M185.8 103.4h0M216.7 103.5h0M228.1 103.7h0M200.5 103.4h0M172.2 103.2h0M192.8 103.8h0M213.3 103.8h0M180.2 103.6h0M164.0 103.3h0M180.4 104.1h0M168.1 104.1h0M180.3 104.6h0M167.9 104.5h0M180.5 104.7h0M169.7 104.2h0M194.6 104.4h0M195.2 104.5h0M178.5 104.4h0M193.6 104.4h0M213.4 104.6h0M205.6 104.3h0M211.3 104.4h0M175.4 104.6h0M171.8 104.7h0M192.1 104.2h0M169.3 104.6h0M192.4 104.3h0M177.4 104.6h0M211.0 104.5h0M215.8 104.4h0M180.1 104.6h0M172.3 104.1h0M216.4 104.8h0M175.6 104.5h0M188.9 104.5h0M177.6 104.7h0M207.0 104.1h0M170.1 104.3h0M190.1 104.4h0M174.5 104.5h0M213.6 104.3h0M176.9 104.4h0M203.7 104.5h0M197.8 104.6h0M222.4 104.8h0M158.8 104.7h0M213.1 104.3h0M196.0 104.2h0M184.4 104.6h0M171.9 104.4h0M193.1 104.5h0M203.5 104.5h0M176.0 104.3h0M163.8 104.7h0M168.2 104.7h0M204.1 104.2h0M182.2 104.6h0M208.5 104.5h0M181.8 104.2h0M173.8 104.4h0M177.7 104.6h0M187.1 104.3h0M178.9 104.4h0M158.5 104.5h0M176.9 104.8h0M171.5 104.7h0M182.9 104.1h0M189.9 104.2h0M179.4 104.5h0M210.3 104.7h0M214.9 104.3h0M175.3 104.7h0M169.6 104.8h0M187.3 104.3h0M192.9 105.7h0M169.6 105.6h0M169.2 105.9h0M215.3 105.7h0M167.5 106.1h0M203.0 105.8h0M211.8 105.7h0M182.6 105.9h0M171.2 106.0h0M173.4 105.8h0M241.8 105.6h0M164.4 105.4h0M171.2 105.7h0M200.4 106.0h0M220.7 105.9h0M179.7 106.0h0M218.5 105.6h0M164.9 105.5h0M193.4 106.0h0M222.5 105.7h0M193.5 105.8h0M200.0 105.7h0M180.1 106.1h0M194.9 105.6h0M220.0 106.1h0M155.7 105.5h0M173.8 106.1h0M215.5 105.7h0M189.8 106.0h0M204.2 106.1h0M176.3 105.5h0M224.2 105.9h0M193.5 105.7h0M176.4 105.6h0M221.0 105.5h0M229.7 105.6h0M178.5 105.6h0M208.6 105.4h0M213.0 105.9h0M182.9 106.0h0M173.6 106.0h0M171.7 107.3h0M212.9 107.3h0M189.3 106.7h0M171.6 107.0h0M187.1 107.2h0M198.6 107.3h0M188.6 107.2h0M166.5 107.0h0M186.3 106.9h0M199.7 107.2h0M169.8 107.1h0M169.0 107.0h0M220.0 107.2h0M172.8 107.1h0M182.1 106.8h0M222.4 107.0h0M208.9 107.1h0M191.4 107.1h0M179.5 106.9h0M185.3 106.9h0M178.6 107.4h0M151.5 107.0h0M193.9 106.8h0M191.3 107.4h0M185.3 106.8h0M184.8 107.3h0M217.2 107.1h0M212.2 107.3h0M204.1 106.8h0M202.7 106.7h0M187.7 107.4h0M150.3 107.1h0M174.5 107.2h0M189.3 107.2h0M182.5 107.1h0M177.8 107.4h0M226.6 107.2h0M190.7 108.5h0M180.9 108.6h0M187.5 108.1h0M188.2 108.7h0M226.0 108.5h0M202.3 108.1h0M201.9 108.6h0M206.0 108.5h0M223.4 108.1h0M196.4 108.4h0M212.6 108.5h0M209.7 108.5h0M201.6 108.3h0M225.1 108.4h0M189.3 108.2h0M206.3 108.7h0M164.9 108.5h0M169.5 108.4h0M202.8 108.2h0M197.3 108.1h0M214.7 108.3h0M198.5 108.2h0M191.9 108.2h0M181.0 108.5h0M173.9 108.1h0M204.2 108.2h0M179.7 108.4h0M206.3 108.6h0M247.6 108.3h0M178.8 108.2h0M224.4 108.1h0M211.1 108.7h0M203.3 108.5h0M225.9 108.4h0M190.6 108.3h0M170.5 108.6h0M185.1 108.3h0M186.4 108.1h0M234.6 108.4h0M207.9 108.5h0M185.4 108.5h0M189.2 108.1h0M194.7 108.3h0M185.3 108.5h0M195.9 108.4h0M192.5 109.5h0M175.6 109.6h0M226.9 109.9h0M230.4 109.8h0M221.5 109.7h0M183.7 110.1h0M166.1 110.2h0M197.8 110.0h0M221.3 109.6h0M186.2 110.1h0M196.3 109.9h0M203.1 109.9h0M225.1 110.0h0M202.0 109.7h0M181.7 109.8h0M223.0 109.8h0M200.5 109.7h0M167.2 109.5h0M184.0 109.8h0M204.3 109.9h0M203.8 111.5h0M155.2 111.2h0M198.1 111.2h0M213.2 111.2h0M224.5 111.5h0M210.4 110.9h0M199.3 111.1h0M199.1 111.5h0M188.8 111.3h0M231.4 111.1h0M193.2 111.1h0M208.4 111.5h0M240.0 111.4h0M187.7 111.4h0M212.0 111.5h0M194.4 110.9h0M181.7 111.2h0M174.1 111.0h0M200.6 110.9h0M204.9 111.2h0M210.8 110.9h0M239.7 111.5h0M200.4 111.2h0M229.1 111.5h0M175.9 111.3h0M189.7 111.5h0M235.4 111.2h0M199.4 111.3h0M241.9 111.5h0M196.1 111.0h0M168.7 111.5h0M203.5 111.1h0M200.8 111.2h0M156.8 111.4h0M159.4 111.5h0M174.0 110.9h0M192.5 111.3h0M219.9 110.9h0M153.4 111.0h0M161.5 111.5h0M203.0 111.2h0M206.4 111.3h0M224.2 111.2h0M205.3 111.5h0M199.6 110.9h0M194.2 111.1h0M231.8 111.0h0M195.6 111.1h0M193.1 111.4h0M179.3 111.3h0M201.9 111.1h0M248.5 110.9h0M194.9 111.0h0M192.1 111.2h0M220.8 111.5h0M243.7 111.4h0M196.8 111.1h0M202.8 111.6h0M200.2 111.1h0M208.9 110.9h0M175.8 111.6h0M173.6 111.3h0M180.6 111.0h0M222.5 111.1h0M183.5 111.4h0M220.5 112.4h0M184.4 111.9h0M200.2 112.2h0M201.7 112.5h0M217.5 112.4h0M194.8 112.1h0M191.4 112.1h0M220.3 112.2h0M243.1 112.0h0M177.3 112.1h0M193.5 112.1h0M202.1 111.9h0M200.7 112.1h0M210.3 112.4h0M190.5 112.5h0M210.4 112.3h0M205.6 112.6h0M185.4 112.2h0M203.3 112.0h0M200.0 112.2h0M205.3 112.1h0M222.6 112.2h0M239.1 112.6h0M184.4 111.9h0M195.1 112.1h0M203.3 112.1h0M222.7 112.0h0M236.7 112.2h0M201.0 113.9h0M201.3 114.1h0M205.6 113.7h0M209.3 113.6h0M193.9 113.9h0M219.6 114.1h0M227.5 114.1h0M194.2 113.9h0M194.1 114.1h0M210.2 113.8h0M209.8 113.9h0M201.8 113.7h0M167.7 113.6h0M183.4 113.7h0M174.9 113.8h0M173.8 114.0h0M208.9 114.0h0M186.0 113.8h0M192.8 113.8h0M213.6 113.8h0M200.2 114.0h0M203.0 114.1h0M229.8 113.8h0M177.5 113.8h0M189.2 113.7h0M196.3 113.8h0M236.8 114.2h0M178.0 113.9h0M214.6 114.1h0M161.7 114.0h0M191.3 114.0h0M184.7 113.6h0M233.5 114.1h0M227.3 114.1h0M190.3 114.1h0M180.4 114.0h0M225.0 113.9h0M198.2 113.7h0M223.1 114.0h0M183.9 113.7h0M186.8 113.6h0M170.3 114.0h0M209.0 113.6h0M224.0 113.8h0M194.4 114.1h0M196.5 114.0h0M198.4 114.1h0M191.0 114.1h0M223.5 114.2h0M176.6 113.8h0M191.9 113.8h0M222.8 113.9h0M238.5 113.8h0M222.3 115.0h0M213.3 114.8h0M174.2 115.0h0M192.5 115.1h0M193.6 114.5h0M217.7 114.8h0M232.7 115.2h0M186.9 115.1h0M195.8 114.9h0M165.2 115.1h0M215.6 114.8h0M217.3 114.7h0M233.0 114.9h0M195.8 114.9h0M190.4 114.9h0M187.1 114.8h0M212.8 114.8h0M243.6 115.0h0M183.0 114.8h0M174.7 114.6h0M165.7 115.0h0M237.8 115.0h0M195.6 114.9h0M207.1 115.0h0M203.2 114.7h0M193.3 115.1h0M245.8 114.6h0M197.5 114.7h0M207.9 116.5h0M230.8 116.3h0M224.8 116.2h0M184.7 116.1h0M246.2 116.5h0M224.9 116.4h0M211.9 116.6h0M195.9 116.3h0M179.4 116.1h0M244.6 116.4h0M180.9 116.2h0M217.7 116.6h0M181.0 116.1h0M209.5 116.1h0M203.7 116.6h0M194.0 116.0h0M190.5 116.4h0M204.1 116.1h0M208.3 116.4h0M220.2 116.2h0M224.5 116.6h0M209.2 115.9h0M226.6 116.4h0M235.5 116.4h0M174.3 116.1h0M229.5 116.1h0M211.3 116.3h0M220.2 115.9h0M202.6 116.0h0M184.1 116.5h0M203.4 116.0h0M196.7 116.5h0M170.8 116.0h0M226.4 116.0h0M199.2 116.5h0M240.6 116.6h0M221.9 116.0h0M170.6 116.1h0M236.9 116.4h0M188.7 116.1h0M176.6 116.3h0M175.6 117.7h0M184.3 117.6h0M185.3 117.8h0M200.9 117.4h0M216.3 117.5h0M205.4 117.8h0M221.5 117.6h0M205.8 117.6h0M189.6 117.8h0M168.0 117.6h0M223.0 117.6h0M197.4 117.6h0M228.4 117.9h0M213.5 117.4h0M186.7 118.0h0M217.9 117.6h0M216.6 117.5h0M186.2 117.9h0M171.8 117.4h0M172.8 117.8h0M232.2 119.0h0M214.5 119.2h0M190.0 119.0h0M194.2 118.9h0M166.2 118.7h0M208.3 119.1h0M170.9 118.7h0M189.8 118.8h0M201.3 118.7h0M165.9 118.6h0M179.8 119.1h0M202.1 119.3h0M194.9 119.0h0M189.6 119.0h0M243.4 118.8h0M185.0 119.1h0M201.6 118.8h0M184.6 118.7h0M184.3 119.0h0M203.0 119.1h0M171.5 120.0h0M183.2 120.0h0M204.5 120.3h0M170.9 120.2h0M203.7 120.0h0M223.5 119.9h0M203.0 120.2h0M219.8 120.3h0M213.0 120.3h0M196.0 120.3h0M196.5 119.9h0M174.7 120.0h0M191.5 120.2h0M208.1 119.9h0M168.1 120.0h0M166.5 120.3h0M164.2 120.3h0M190.6 120.3h0M182.5 120.2h0M188.8 120.1h0M179.8 119.8h0M185.5 120.1h0M201.7 119.9h0M218.2 119.9h0M180.3 119.8h0M199.6 119.8h0M203.3 120.1h0M189.0 120.0h0M187.3 119.8h0M193.7 119.8h0M195.6 120.4h0M180.4 120.2h0M191.4 119.9h0M203.8 120.0h0M167.4 120.0h0M201.8 120.2h0M224.7 119.9h0M183.7 120.4h0M230.0 120.2h0M198.5 120.3h0M190.7 119.8h0M180.1 119.8h0M189.0 120.0h0M221.0 120.1h0M166.4 120.1h0M190.2 121.4h0M198.9 121.7h0M181.0 121.4h0M228.1 121.6h0M176.8 121.3h0M233.5 121.8h0M216.4 121.5h0M239.1 121.5h0M185.7 121.9h0M186.5 121.5h0M181.2 121.5h0M183.3 121.9h0M222.6 121.7h0M194.4 121.8h0M213.5 121.3h0M176.8 121.5h0M166.7 121.8h0M181.7 121.5h0M212.9 122.0h0M224.4 121.9h0M187.4 121.5h0M174.7 121.5h0M186.2 122.0h0M186.1 121.7h0M179.1 121.9h0M185.9 121.8h0M168.3 121.8h0M199.3 121.9h0M184.5 121.8h0M208.8 121.4h0M215.9 121.6h0M198.5 121.6h0M206.0 121.4h0M182.1 121.3h0M174.0 121.4h0M188.9 121.8h0M175.7 121.9h0M193.2 121.7h0M183.5 121.4h0M186.5 121.6h0M184.4 121.6h0M207.0 121.7h0M200.7 121.3h0M234.0 121.4h0M228.5 121.4h0M178.6 123.2h0M210.7 123.1h0M189.4 123.0h0M186.9 122.8h0M198.4 123.0h0M228.1 122.9h0M187.0 122.6h0M190.3 122.7h0M177.5 122.7h0M180.5 123.1h0M177.6 123.3h0M196.0 123.3h0M183.5 122.7h0M169.6 122.7h0M185.4 123.3h0M193.7 122.9h0M226.2 123.0h0M231.8 122.9h0M179.7 123.3h0M164.8 123.1h0M206.8 122.6h0M234.5 122.7h0M164.6 123.2h0M187.7 122.9h0M200.3 122.7h0M213.4 122.6h0M206.7 122.8h0M228.6 122.8h0M204.0 122.8h0M170.9 123.3h0M188.1 123.2h0M221.7 123.2h0M191.2 122.7h0M177.8 122.7h0M173.0 122.7h0M177.9 123.2h0M177.8 123.1h0M187.0 124.4h0M176.7 124.5h0M200.8 124.3h0M195.6 123.9h0M181.5 124.1h0M228.5 124.5h0M197.2 124.3h0M173.5 124.5h0M178.7 124.5h0M200.3 123.9h0M222.0 124.5h0M172.3 123.9h0M216.8 124.3h0M223.8 124.4h0M205.7 124.1h0M187.3 124.2h0M236.3 124.0h0M202.1 124.0h0M179.4 124.1h0M184.2 124.2h0M189.7 124.5h0M158.2 124.4h0M179.9 124.3h0M200.1 124.5h0M218.6 124.3h0M185.1 124.5h0M173.1 124.4h0M197.3 124.0h0M203.8 124.5h0M196.7 123.9h0M239.8 124.0h0M204.4 124.0h0M190.6 124.0h0M205.4 123.9h0M177.9 124.1h0M206.0 124.1h0M171.6 124.0h0M179.9 123.9h0M182.8 124.0h0M200.3 123.9h0M188.9 124.1h0M209.9 123.9h0M184.1 124.0h0M215.6 124.0h0M150.3 124.5h0M156.6 124.1h0M184.3 124.1h0M172.2 124.0h0M220.4 124.3h0M197.1 123.9h0M231.3 124.1h0M185.5 124.1h0M169.9 124.5h0M215.2 124.3h0M183.2 124.1h0M204.1 124.0h0M254.6 124.0h0M190.1 124.4h0M171.4 124.4h0M204.6 124.0h0M209.4 124.5h0M187.9 124.0h0M208.8 123.9h0M187.0 124.1h0M222.6 124.2h0M194.9 125.2h0M225.3 125.1h0M204.7 125.7h0M174.7 125.2h0M182.9 125.8h0M188.4 125.2h0M185.8 125.2h0M220.9 125.3h0M199.9 125.4h0M212.0 125.7h0M191.3 125.6h0M193.1 125.2h0M219.8 125.3h0M194.1 125.6h0M206.3 125.6h0M240.1 125.2h0M196.6 125.3h0M201.2 125.2h0M226.3 125.7h0M199.4 125.1h0M218.1 125.5h0M194.9 125.4h0M218.9 125.6h0M230.3 125.2h0M225.4 125.3h0M219.3 125.6h0M169.3 125.3h0M180.5 125.6h0M202.4 125.5h0M219.0 125.5h0M215.4 125.3h0M206.8 125.6h0M174.4 125.3h0M199.7 125.7h0M187.2 125.4h0M178.4 125.2h0M220.8 125.2h0M209.5 125.3h0M175.6 125.6h0M185.4 125.3h0M202.7 125.1h0M199.3 125.6h0M207.2 125.7h0M220.5 125.5h0M180.7 125.5h0M172.6 125.2h0M194.8 125.2h0M212.4 125.6h0M198.1 125.5h0M211.3 125.4h0M193.4 125.8h0M239.4 125.7h0M209.4 125.5h0M246.1 126.9h0M203.7 126.4h0M200.9 126.5h0M213.2 126.5h0M239.9 126.5h0M180.6 126.7h0M239.8 126.7h0M191.0 126.5h0M225.6 126.6h0M233.4 126.4h0M190.9 126.8h0M185.4 126.3h0M180.9 126.3h0M187.1 126.7h0M206.7 126.7h0M206.0 126.8h0M196.0 126.8h0M223.6 126.4h0M190.0 126.7h0M238.8 126.3h0M187.6 126.6h0M242.4 126.5h0M193.6 126.4h0M213.7 126.4h0M222.3 126.6h0M226.3 126.4h0M221.0 126.6h0M253.7 126.5h0M216.7 126.5h0M213.2 126.8h0M238.3 126.7h0M192.1 126.9h0M195.3 126.5h0M160.0 126.2h0M180.9 126.6h0M227.2 126.4h0M235.0 126.8h0M224.6 126.7h0M199.8 126.3h0M216.9 126.5h0M198.4 126.6h0M220.1 126.6h0M203.0 126.8h0M216.6 126.4h0M208.6 126.5h0M208.4 126.3h0M233.7 128.0h0M221.9 128.5h0M205.9 128.1h0M264.0 128.0h0M209.7 128.3h0M236.2 128.4h0M251.6 128.4h0M251.4 128.3h0M229.5 127.9h0M248.1 127.8h0M248.1 128.4h0M246.7 128.1h0M258.7 128.0h0M232.4 128.3h0M227.1 128.1h0M169.2 128.2h0M229.0 128.3h0M210.4 128.1h0M194.6 128.0h0M241.2 128.3h0M215.3 128.1h0M248.5 128.4h0M218.1 127.9h0M266.2 128.4h0M238.5 128.4h0M262.8 127.8h0M274.8 128.4h0M213.0 128.0h0M243.1 128.2h0M221.8 128.0h0M203.8 128.0h0M216.5 128.0h0M238.3 127.9h0M249.2 128.4h0M211.4 128.3h0M237.3 128.3h0M233.4 127.9h0M235.2 128.0h0M243.4 128.1h0M229.2 128.2h0M257.1 127.8h0M246.9 128.0h0M227.2 128.2h0M248.9 128.0h0M223.6 128.1h0M218.4 128.0h0M207.0 127.8h0M273.8 128.3h0M224.8 128.1h0M235.8 128.3h0M210.9 128.3h0M254.6 128.5h0M204.9 128.1h0M240.6 128.2h0M239.3 128.3h0M205.7 128.2h0M249.3 129.5h0M228.9 129.2h0M227.8 129.3h0M240.9 129.3h0M285.0 129.1h0M229.2 129.5h0M258.9 129.6h0M244.3 129.4h0M251.5 129.1h0M215.9 129.7h0M239.4 129.3h0M259.5 129.6h0M193.3 129.2h0M229.6 129.3h0M292.0 129.7h0M228.1 129.6h0M293.9 129.4h0M268.9 129.3h0M250.9 129.2h0M229.6 129.1h0M230.5 129.2h0M324.0 129.1h0M197.7 129.2h0M202.4 129.3h0M279.9 129.3h0M310.9 129.4h0M293.3 129.2h0M286.6 129.3h0M184.2 129.6h0M221.8 129.1h0M288.0 129.1h0M229.8 129.3h0M249.5 129.2h0M211.9 129.2h0M229.8 129.2h0M275.8 129.4h0M243.7 129.3h0M246.0 129.5h0M239.7 129.1h0M234.1 129.5h0M222.9 129.2h0M233.9 129.4h0M240.2 129.5h0M279.1 129.1h0M240.8 129.7h0M234.4 129.7h0M205.8 129.3h0M251.5 129.6h0M300.5 129.1h0M216.7 130.7h0M236.2 130.9h0M256.4 131.1h0M283.6 130.9h0M259.4 130.9h0M230.3 131.0h0M261.4 130.5h0M264.1 130.6h0M243.5 130.9h0M253.0 130.4h0M264.7 130.5h0M244.8 131.0h0M256.1 130.5h0M273.0 131.1h0M261.6 130.9h0M257.3 131.0h0M287.7 131.0h0M257.4 130.4h0M214.5 130.5h0M259.3 130.9h0M229.9 130.8h0M222.3 131.0h0M213.5 131.7h0M283.8 132.2h0M222.7 131.6h0M260.5 131.7h0M265.9 131.6h0M276.4 131.6h0M274.5 132.0h0M252.6 131.7h0M275.1 132.0h0M289.9 132.1h0M268.5 131.7h0M268.8 132.2h0M263.0 132.2h0M253.1 131.9h0M235.4 131.9h0M286.3 132.0h0M273.9 131.9h0M270.6 132.0h0M251.0 132.0h0M272.4 131.6h0M239.4 131.6h0M269.8 131.9h0M295.0 131.6h0M266.1 131.7h0M265.4 131.9h0M270.0 132.0h0M274.2 131.7h0M287.9 131.7h0M244.9 131.9h0M249.4 131.9h0M284.6 132.1h0M234.0 132.0h0M283.1 132.0h0M235.6 132.1h0M251.4 132.1h0M263.3 132.0h0M236.3 132.1h0M264.0 132.1h0M231.9 131.7h0M319.4 131.7h0M284.3 132.0h0M250.7 132.2h0M263.9 132.2h0M251.4 132.0h0M248.0 131.8h0M276.6 131.7h0M275.5 131.5h0M256.0 131.9h0M237.1 132.2h0M202.2 131.9h0M215.1 132.1h0M253.5 132.2h0M256.0 132.0h0M226.3 131.7h0M252.5 131.9h0M240.2 132.0h0M254.5 132.0h0M275.8 132.0h0M288.5 132.2h0M264.0 132.1h0M286.0 131.5h0M247.8 132.0h0M259.6 131.6h0M227.2 131.8h0M236.5 132.2h0M248.7 131.7h0M277.6 131.9h0M279.3 132.1h0M275.1 131.6h0M294.3 132.0h0M223.1 131.6h0M222.6 132.1h0M263.9 133.0h0M269.2 133.5h0M280.0 133.2h0M224.5 133.0h0M258.5 133.0h0M258.6 133.5h0M289.7 133.4h0M294.4 133.4h0M259.5 133.4h0M266.8 133.4h0M267.5 133.1h0M246.5 133.2h0M281.1 133.5h0M298.4 133.4h0M247.4 133.1h0M269.2 133.2h0M253.9 133.2h0M276.7 133.0h0M258.5 133.5h0M270.5 133.4h0M250.7 133.2h0M297.2 133.1h0M267.5 133.0h0M302.8 133.3h0M241.2 133.1h0M243.4 133.5h0M286.0 132.9h0M294.3 133.4h0M211.2 133.4h0M279.8 133.0h0M274.6 133.2h0M276.2 134.3h0M282.7 134.4h0M221.3 134.3h0M297.7 134.6h0M247.1 134.3h0M287.9 134.7h0M292.6 134.2h0M222.5 134.4h0M267.5 134.6h0M265.2 134.7h0M292.0 134.4h0M260.8 134.4h0M247.4 134.7h0M256.2 134.5h0M277.2 134.7h0M263.4 134.3h0M255.3 134.9h0M271.5 134.7h0M282.2 134.6h0M277.8 134.3h0M311.5 134.3h0M281.1 134.2h0M260.3 134.2h0M179.2 134.6h0M261.3 134.6h0M214.4 134.7h0M286.5 134.6h0M272.1 134.7h0M294.8 134.7h0M284.3 134.6h0M260.1 134.7h0M244.9 134.8h0M291.8 134.9h0M297.6 134.8h0M265.8 134.6h0M271.2 134.7h0M246.2 134.2h0M315.1 135.7h0M265.0 135.6h0M288.8 136.0h0M297.2 135.9h0M255.9 135.9h0M293.2 136.0h0M261.3 136.2h0M280.3 135.9h0M288.8 135.9h0M245.3 136.1h0M225.8 136.0h0M299.3 136.0h0M253.3 136.1h0M241.2 135.8h0M247.6 136.0h0M245.2 135.6h0M259.8 136.1h0M266.7 135.9h0M263.9 136.2h0M230.3 135.9h0M252.1 136.1h0M270.6 136.1h0M280.4 135.9h0M257.4 135.7h0M220.8 136.0h0M284.7 136.2h0M283.0 135.8h0M262.6 136.1h0M235.1 136.0h0M274.6 135.9h0M291.9 135.8h0M275.0 135.6h0M243.2 135.6h0M261.4 135.8h0M244.3 136.1h0M260.9 136.2h0M267.0 135.9h0M252.6 135.6h0M261.3 136.1h0M238.3 136.1h0M263.1 136.1h0M294.6 135.9h0M222.4 135.9h0M282.7 136.0h0M251.9 136.2h0M261.7 136.2h0M276.4 136.0h0M249.4 136.1h0M263.1 136.2h0M214.4 149.0h0M277.7 149.1h0M164.0 149.3h0M271.2 149.1h0M199.4 149.0h0M220.6 148.9h0M169.3 148.7h0M238.3 149.0h0M294.0 149.2h0M193.6 149.0h0M173.4 149.3h0M236.1 148.8h0M226.2 149.1h0M241.6 149.1h0M151.2 149.1h0M174.7 149.3h0M150.9 148.9h0M155.0 149.2h0M216.7 148.7h0M275.4 149.0h0M249.5 148.7h0M211.3 149.2h0M314.0 149.0h0M261.6 149.2h0M222.1 148.8h0M251.3 148.7h0M224.0 148.9h0M304.7 149.0h0M302.8 149.3h0M198.9 148.7h0M229.7 148.7h0M177.6 148.8h0M229.4 149.1h0M263.0 148.8h0M249.6 149.1h0M160.3 149.3h0M291.7 148.9h0M242.0 149.0h0M166.9 148.7h0M291.2 150.2h0M294.1 150.7h0M157.8 150.2h0M153.5 150.1h0M172.0 150.4h0M259.5 150.6h0M185.6 150.6h0M187.2 150.7h0M222.9 150.7h0M302.7 150.1h0M244.4 150.8h0M298.9 150.6h0M292.4 150.4h0M247.2 150.2h0M290.2 150.6h0M246.6 150.5h0M263.5 150.5h0M306.1 150.8h0M219.9 150.4h0M253.9 150.4h0M224.8 150.4h0M280.6 150.4h0M158.3 150.7h0M212.6 150.2h0M248.0 150.5h0M289.0 150.8h0M215.6 150.2h0M214.4 150.3h0M255.5 150.3h0M239.5 150.2h0M172.5 150.7h0M241.5 151.7h0M221.8 151.9h0M247.0 151.6h0M164.6 151.8h0M296.6 151.7h0M210.4 151.7h0M223.2 151.6h0M155.4 152.0h0M256.7 152.0h0M153.5 151.8h0M296.7 151.7h0M190.7 151.5h0M263.0 151.8h0M269.6 151.4h0M240.3 151.5h0M146.3 151.6h0M300.0 151.4h0M162.1 151.6h0M238.3 151.9h0M170.8 152.0h0M171.4 152.0h0M161.1 152.0h0M250.6 151.6h0M249.6 153.2h0M254.0 152.7h0M231.3 153.1h0M225.8 152.7h0M256.2 153.2h0M227.5 152.6h0M219.3 152.8h0M214.0 152.8h0M243.0 152.9h0M232.6 152.8h0M215.5 153.1h0M225.8 153.0h0M215.5 153.1h0M269.1 152.7h0M269.1 152.9h0M254.6 153.0h0M159.5 153.0h0M257.5 152.6h0M233.7 153.1h0M263.6 153.1h0M251.9 152.6h0M245.9 152.7h0M240.3 152.8h0M225.6 152.7h0M303.8 153.2h0M287.7 153.0h0M264.3 152.8h0M255.9 152.7h0M273.4 152.8h0M221.2 153.2h0M235.4 152.6h0M253.8 152.6h0M267.9 152.7h0M260.5 152.8h0M288.7 152.9h0M268.9 152.6h0M175.7 154.2h0M175.6 154.3h0M229.6 154.5h0M213.5 154.1h0M248.3 153.9h0M289.2 154.0h0M222.8 153.8h0M257.4 153.9h0M281.2 154.2h0M233.0 154.4h0M172.9 154.1h0M249.5 153.8h0M256.0 154.1h0M259.9 154.4h0M207.7 154.3h0M177.0 154.4h0M152.8 154.1h0M158.6 154.2h0M170.4 154.4h0M176.5 154.1h0M186.9 154.4h0M270.7 153.9h0M193.6 155.1h0M247.7 155.5h0M281.0 155.4h0M259.1 155.6h0M279.3 155.4h0M268.4 155.4h0M247.1 155.4h0M232.1 155.2h0M240.3 155.6h0M311.5 155.3h0M224.7 155.1h0M259.5 155.5h0M225.0 155.3h0M224.8 156.5h0M304.0 157.1h0M248.5 156.6h0M255.3 156.7h0M300.7 157.1h0M249.9 156.7h0M230.5 157.1h0M215.0 156.7h0M256.3 157.0h0M167.2 156.7h0M174.2 157.0h0M300.8 156.8h0M200.8 156.7h0M258.4 156.6h0M297.1 156.8h0M254.2 157.0h0M166.1 156.7h0M242.7 157.1h0M213.0 156.7h0M191.1 157.1h0M173.5 156.7h0M245.7 156.9h0M239.8 156.7h0M251.9 157.0h0M283.0 157.1h0M204.9 157.0h0M273.6 157.0h0M292.5 156.6h0M197.3 156.7h0M161.9 157.2h0M181.6 157.2h0M286.6 156.9h0M282.9 156.9h0M220.4 157.1h0M268.6 166.1h0M286.0 165.9h0M269.8 165.8h0M255.4 165.6h0M263.7 166.0h0M279.7 165.8h0M260.7 166.1h0M254.8 165.7h0M264.7 165.9h0M258.0 166.2h0M268.4 165.9h0M242.9 165.9h0M280.1 165.7h0M241.6 165.7h0M247.0 166.1h0M287.4 166.0h0M260.4 166.2h0M241.0 166.1h0M265.3 165.9h0M266.3 165.9h0M286.4 165.7h0M266.2 165.9h0M253.6 166.0h0M288.2 165.6h0M260.8 166.2h0M275.5 166.2h0M206.2 165.9h0M325.1 165.8h0M262.5 165.9h0M225.6 165.6h0M261.4 165.9h0M251.2 167.5h0M272.9 167.6h0M275.7 167.4h0M249.9 167.5h0M275.1 167.6h0M239.7 167.4h0M249.8 167.7h0M233.8 167.2h0M229.8 167.2h0M235.1 167.5h0M256.1 167.7h0M258.1 167.3h0M263.4 167.1h0M232.0 167.3h0M258.9 167.7h0M324.3 167.6h0M220.8 167.5h0M229.7 167.1h0M231.4 167.3h0M264.6 167.7h0M239.6 167.2h0M263.3 167.5h0M222.0 167.5h0M248.3 167.4h0M211.4 167.4h0M237.2 167.2h0M257.3 167.4h0M257.0 167.4h0M263.9 167.6h0M247.6 167.5h0M259.6 167.4h0M220.0 167.6h0M219.8 167.6h0M236.8 167.6h0M244.1 167.2h0M314.7 167.1h0M248.7 167.1h0M245.9 167.1h0M250.9 167.2h0M242.7 167.2h0M272.7 167.5h0M241.5 167.5h0M271.4 167.2h0M244.7 167.1h0M255.2 167.1h0M235.2 167.4h0M323.5 167.3h0M315.8 167.6h0M254.3 168.6h0M259.4 168.8h0M268.0 168.5h0M319.7 168.8h0M261.1 168.4h0M248.0 168.5h0M276.0 168.3h0M256.9 168.7h0M252.9 168.3h0M256.0 168.9h0M248.3 168.8h0M241.1 168.8h0M254.3 168.5h0M245.0 168.5h0M250.7 168.7h0M316.9 168.3h0M214.0 168.3h0M237.5 168.4h0M220.2 168.4h0M273.9 168.3h0M267.1 168.6h0M276.9 168.3h0M214.3 168.6h0M261.6 168.3h0M243.2 168.3h0M230.2 168.5h0M238.0 168.3h0M265.1 168.9h0M288.9 168.8h0M221.3 168.7h0M262.0 168.7h0M285.5 168.3h0M328.9 169.8h0M270.6 169.8h0M270.4 170.3h0M268.0 169.9h0M256.8 169.9h0M269.1 169.7h0M196.6 169.7h0M224.5 170.0h0M300.4 170.0h0M245.3 170.0h0M219.4 169.6h0M262.4 169.7h0M242.6 170.0h0M232.6 169.8h0M269.8 169.9h0M297.6 169.7h0M267.2 169.8h0M278.6 169.6h0M227.4 169.9h0M227.3 169.9h0M250.3 169.8h0M284.4 170.3h0M259.7 170.0h0M272.4 170.2h0M252.1 169.9h0M242.0 170.0h0M248.5 169.7h0M247.4 170.2h0M319.9 169.9h0M283.3 170.0h0M265.5 171.7h0M313.1 171.2h0M245.9 171.6h0M248.6 171.5h0M222.9 171.5h0M241.6 171.4h0M268.5 171.3h0M266.7 171.6h0M287.5 171.6h0M246.5 171.3h0M238.2 171.1h0M281.5 171.2h0M256.1 171.3h0M274.4 171.6h0M265.7 171.2h0M251.8 171.7h0M214.7 171.2h0M232.4 171.5h0M279.4 171.2h0M275.7 171.1h0M290.4 171.5h0M290.3 171.4h0M265.5 171.4h0M246.5 171.6h0M248.6 171.3h0M200.0 171.4h0M283.7 171.5h0M247.3 171.1h0M262.8 171.6h0M245.1 171.5h0M217.8 171.1h0M252.3 171.2h0M218.1 171.6h0M247.5 171.6h0M234.5 171.5h0M265.1 171.2h0M245.9 171.7h0M239.4 171.4h0M313.4 171.3h0M308.6 172.4h0M255.0 172.4h0M256.8 172.6h0M244.8 172.5h0M243.4 172.5h0M250.0 172.7h0M272.8 172.2h0M247.1 172.6h0M263.4 172.2h0M227.3 172.4h0M268.5 172.1h0M248.7 172.2h0M227.5 172.2h0M237.4 172.4h0M278.9 172.2h0M270.6 172.1h0M225.0 172.7h0M275.6 172.1h0M266.3 172.8h0M277.2 172.5h0M276.7 172.3h0M211.8 172.4h0M251.3 172.2h0M267.1 172.7h0M281.1 172.5h0M257.5 172.4h0M268.8 172.4h0M267.3 172.7h0M256.0 172.6h0M252.4 172.7h0M229.6 172.8h0M259.1 172.3h0M255.3 172.3h0M274.5 172.1h0M302.6 172.3h0M253.9 172.1h0M228.4 172.8h0M194.5 172.2h0M235.9 172.8h0M281.0 172.7h0M298.2 173.5h0M261.3 173.7h0M305.8 173.8h0M275.5 173.5h0M182.9 173.9h0M267.2 173.5h0M275.2 173.8h0M263.4 173.6h0M292.3 173.4h0M269.6 173.4h0M269.9 173.5h0M243.0 173.9h0M257.6 173.9h0M265.2 173.8h0M291.1 173.9h0M252.1 173.8h0M321.6 173.7h0M275.0 173.3h0M243.0 173.6h0M259.8 173.4h0M237.9 173.7h0M227.7 173.8h0M247.7 173.8h0M318.8 173.6h0M192.2 173.6h0M308.9 173.3h0M298.2 173.8h0M252.0 173.9h0M274.8 173.4h0M257.1 173.4h0M179.5 173.9h0M214.1 173.8h0M239.3 173.7h0M261.7 173.9h0M222.4 173.8h0M199.6 173.5h0M286.3 173.9h0M291.6 175.6h0M258.0 175.0h0M219.8 175.3h0M257.1 175.3h0M272.3 175.0h0M207.5 175.2h0M251.2 175.1h0M289.9 175.3h0M242.8 175.5h0M259.2 175.3h0M234.2 175.3h0M276.1 175.3h0M186.7 175.6h0M256.6 175.3h0M261.7 175.3h0M263.0 175.3h0M283.3 175.5h0M245.4 174.9h0M250.6 174.9h0M265.5 175.5h0M327.8 175.4h0M273.8 175.0h0M268.7 175.2h0M251.2 175.3h0M248.3 175.6h0M294.4 175.5h0M286.0 175.0h0M281.8 175.2h0M243.3 175.1h0M270.8 175.1h0M271.4 175.0h0M222.2 175.5h0M282.8 175.5h0M259.7 176.3h0M257.3 175.9h0M248.8 176.1h0M239.0 176.5h0M174.7 176.0h0M272.0 176.6h0M273.3 176.4h0M240.9 176.3h0M171.0 176.5h0M263.4 176.0h0M282.4 176.0h0M283.3 176.6h0M209.8 176.3h0M233.7 176.6h0M300.0 176.2h0M255.5 176.6h0M198.7 176.0h0M280.5 176.6h0M292.7 176.0h0M263.1 176.3h0M224.3 176.5h0M214.1 176.0h0M255.4 176.3h0M245.8 176.1h0M263.4 176.4h0M192.3 176.2h0M280.0 176.5h0M271.4 176.5h0M299.0 176.2h0M288.8 176.6h0M252.4 176.2h0M249.3 176.0h0M248.2 176.2h0M223.7 177.2h0M279.8 177.7h0M243.5 177.4h0M227.7 177.2h0M285.2 177.9h0M165.7 177.5h0M285.7 177.3h0M272.9 177.8h0M256.6 177.8h0M199.3 177.2h0M268.2 177.3h0M267.9 177.2h0M268.2 177.5h0M217.5 177.3h0M271.5 177.4h0M280.7 177.6h0M305.3 177.6h0M223.7 177.2h0M268.5 177.7h0M260.4 177.6h0M287.4 177.7h0M285.4 177.5h0M276.3 177.6h0M228.7 177.7h0M176.8 177.6h0M265.3 177.2h0M263.0 177.6h0M261.3 177.7h0M249.2 177.7h0M276.4 177.6h0M300.0 177.7h0M236.6 177.9h0M264.7 177.5h0M172.7 178.7h0M317.9 178.7h0M283.6 178.8h0M281.0 178.8h0M274.1 178.7h0M245.0 179.1h0M297.9 179.3h0M152.1 178.9h0M279.6 179.3h0M233.5 179.0h0M194.8 178.9h0M240.2 179.1h0M181.8 179.0h0M281.5 178.7h0M170.4 178.7h0M208.0 179.1h0M168.7 179.2h0M269.9 179.3h0M270.5 179.3h0M203.4 178.7h0M331.1 178.9h0M255.8 178.8h0M286.2 178.9h0M280.9 179.0h0M213.4 179.0h0M290.8 178.9h0M321.2 178.8h0M291.3 178.7h0M185.6 179.2h0M276.9 178.8h0M157.5 179.0h0M280.3 178.7h0M235.9 179.1h0M189.8 178.8h0M238.2 178.8h0M173.5 179.1h0M270.5 179.2h0M250.3 179.0h0M308.1 178.7h0M311.8 178.9h0M273.9 178.9h0M234.0 179.1h0M322.2 179.1h0M312.0 178.8h0M325.2 178.9h0M183.6 178.9h0M244.5 178.6h0M303.6 179.2h0M300.6 180.4h0M287.9 180.2h0M316.1 180.4h0M277.0 180.7h0M270.8 180.2h0M188.5 180.6h0M261.7 180.6h0M291.4 180.3h0M273.2 180.4h0M262.5 180.5h0M235.8 180.3h0M278.6 180.6h0M249.5 180.5h0M216.9 180.3h0M208.5 180.7h0M160.9 180.5h0M295.1 180.7h0M183.2 180.3h0M229.1 180.2h0M244.5 180.7h0M331.1 180.4h0M220.5 180.8h0M250.5 180.5h0M275.3 180.2h0M235.6 180.2h0M258.9 180.5h0M265.5 181.6h0M322.5 181.2h0M227.0 181.7h0M219.6 181.9h0M307.4 181.3h0M197.9 181.6h0M226.1 181.6h0M171.5 181.5h0M268.6 181.8h0M249.9 181.5h0M305.9 181.3h0M231.8 181.3h0M232.3 181.4h0M248.1 181.4h0M277.8 181.8h0M202.0 181.5h0M255.7 181.4h0M232.5 181.7h0M242.7 182.9h0M254.0 183.1h0M255.5 183.0h0M256.8 182.5h0M231.4 182.8h0M315.1 182.6h0M236.6 182.4h0M239.6 182.5h0M321.0 182.8h0M245.7 182.7h0M247.8 182.6h0M280.5 183.1h0M200.6 182.7h0M270.6 182.7h0M245.5 182.5h0M259.4 182.8h0M243.9 183.0h0M269.4 184.3h0M297.1 184.6h0M235.9 184.5h0M240.1 184.3h0M248.6 184.1h0M271.2 184.0h0M233.8 184.0h0M263.5 184.3h0M216.1 184.6h0M229.3 184.1h0M236.8 184.1h0M248.5 184.6h0M279.1 184.2h0M313.1 184.5h0M261.1 184.0h0M238.2 184.1h0M294.0 184.2h0M250.3 184.3h0M265.3 184.2h0M287.0 184.5h0M282.9 184.6h0M263.9 184.6h0M264.2 184.0h0M209.2 184.3h0M254.1 184.1h0M295.0 184.1h0M319.6 184.3h0M308.3 184.4h0M290.9 184.0h0M282.2 184.2h0M225.7 184.5h0M226.7 184.2h0M287.9 184.4h0M274.8 184.2h0M289.1 184.1h0M217.2 184.2h0M232.2 184.0h0M281.0 184.1h0M211.2 184.1h0M233.8 184.1h0M202.0 184.6h0M257.9 184.1h0M312.7 186.0h0M256.4 185.8h0M269.8 185.8h0M253.7 185.4h0M282.0 185.7h0M247.0 185.8h0M264.8 185.3h0M251.1 185.3h0M255.7 185.9h0M281.2 185.9h0M285.2 185.5h0M258.2 185.3h0M263.8 185.3h0M217.9 185.9h0M236.3 185.7h0M203.4 185.4h0M281.0 185.3h0M236.0 185.7h0M236.0 185.9h0M299.0 185.5h0M244.6 185.8h0M259.9 185.9h0M255.1 185.8h0M249.1 185.7h0M296.5 185.8h0M274.9 185.7h0M228.1 185.8h0M266.0 185.6h0M239.9 185.7h0M243.8 185.3h0M306.4 185.4h0M256.6 185.7h0M258.6 185.7h0M273.4 185.6h0M248.6 185.7h0M326.5 185.4h0M272.5 185.5h0M246.0 185.9h0M240.9 185.4h0M250.9 185.6h0M281.1 185.7h0M274.8 185.3h0M269.4 186.5h0M287.2 187.0h0M202.7 187.1h0M270.8 186.7h0M254.4 186.9h0M296.9 186.9h0M274.9 186.7h0M255.4 186.9h0M247.4 187.0h0M285.4 186.4h0M248.4 186.6h0M296.9 186.8h0M258.1 186.4h0M248.7 186.4h0M271.2 186.4h0M325.7 186.6h0M252.4 186.6h0M290.3 186.7h0M248.5 187.0h0M269.7 187.1h0M272.3 186.5h0M257.3 186.8h0M282.4 186.9h0M271.4 186.9h0M257.1 186.6h0M289.7 187.1h0M282.3 186.8h0M245.9 186.9h0M267.2 187.0h0M259.6 188.3h0M287.5 188.3h0M272.0 187.9h0M315.2 188.1h0M289.7 188.2h0M271.0 187.8h0M254.2 188.4h0M285.9 187.8h0M281.1 187.9h0M255.5 188.1h0M256.5 187.7h0M290.1 188.0h0M277.1 188.1h0M284.5 187.9h0M274.9 188.0h0M266.0 187.8h0M289.3 187.9h0M259.1 188.4h0M278.3 188.4h0M275.6 187.7h0M275.8 187.9h0M241.3 188.0h0M258.3 188.1h0M286.5 188.3h0M239.1 188.3h0M211.5 188.0h0M283.4 188.1h0M281.8 188.0h0M251.8 188.3h0M259.8 188.1h0M250.7 188.0h0M285.2 188.3h0M303.0 187.9h0M271.8 188.0h0M209.8 188.0h0M276.1 188.4h0M278.1 188.0h0M272.5 188.0h0M264.1 187.8h0M267.5 188.1h0M286.6 187.9h0M311.0 188.2h0M291.6 188.2h0M272.5 187.9h0M272.7 187.8h0M278.3 188.1h0M291.0 188.1h0M292.0 187.9h0M277.4 187.9h0M246.1 188.3h0M280.8 188.4h0M251.1 188.3h0M285.8 189.5h0M271.0 189.5h0M278.8 189.3h0M318.5 189.7h0M269.8 189.3h0M264.5 189.5h0M264.1 189.6h0M276.2 189.2h0M278.8 189.6h0M266.1 189.6h0M267.9 189.7h0M254.5 189.6h0M254.4 189.9h0M285.4 189.6h0M283.8 189.2h0M284.3 189.5h0M274.4 189.8h0M282.5 189.6h0M272.0 189.6h0M255.0 189.3h0M263.2 189.9h0M248.7 189.6h0M254.5 189.5h0M257.2 191.2h0M267.5 190.6h0M271.3 190.7h0M308.0 191.2h0M256.8 190.7h0M234.9 190.7h0M262.3 190.9h0M268.9 190.7h0M286.4 191.2h0M283.7 190.6h0M283.8 190.9h0M244.7 191.2h0M266.1 191.1h0M232.1 190.7h0M245.2 191.0h0M294.3 190.9h0M240.6 190.7h0M284.5 190.9h0M211.4 190.7h0M258.8 190.6h0M292.4 191.1h0M281.3 191.0h0M267.7 190.9h0M238.6 191.2h0M261.6 190.8h0M306.1 190.9h0M251.5 191.1h0M260.4 190.9h0M313.4 191.0h0M260.3 191.0h0M284.3 190.7h0M274.6 190.8h0M252.0 190.7h0M258.6 191.1h0M230.2 191.0h0M236.6 191.2h0M294.8 190.6h0M294.2 191.1h0M315.7 190.9h0M269.1 190.9h0M238.4 191.2h0M269.7 190.6h0M300.0 191.0h0M297.3 191.2h0M281.0 190.6h0M244.6 190.8h0M273.1 191.0h0M283.6 191.0h0M320.7 191.1h0M280.9 191.0h0M261.6 191.2h0M286.8 190.9h0M257.3 192.1h0M270.5 191.7h0M256.7 192.0h0M260.9 191.9h0M283.6 192.1h0M257.5 192.0h0M264.5 191.8h0M327.4 191.8h0M259.7 191.6h0M257.0 192.2h0M282.6 191.6h0M280.2 192.0h0M266.6 191.9h0M287.4 192.1h0M268.4 191.9h0M275.0 191.5h0M289.3 193.5h0M264.2 193.7h0M257.1 193.2h0M263.7 193.7h0M231.0 193.6h0M262.5 193.3h0M223.0 193.2h0M251.4 193.3h0M241.8 193.1h0M292.5 193.6h0M245.6 193.7h0M265.9 193.4h0M260.1 193.6h0M269.0 193.2h0M261.6 193.7h0M281.2 193.4h0M237.8 193.6h0M274.8 193.6h0M271.3 193.1h0M244.9 193.7h0M307.9 193.6h0M316.8 193.6h0M270.8 193.7h0M265.8 193.3h0M276.4 193.7h0M261.2 193.4h0M288.8 193.7h0M273.5 193.4h0M230.6 193.4h0M257.1 193.1h0M256.5 193.4h0M237.5 193.6h0M262.1 193.5h0M242.7 193.5h0M271.5 193.2h0M268.7 193.4h0M238.2 193.1h0M256.4 193.6h0M262.5 193.8h0M284.9 193.7h0M265.5 193.6h0M259.0 193.3h0M271.1 193.1h0M252.9 194.2h0M257.5 194.5h0M206.9 194.2h0M230.5 194.5h0M247.5 194.1h0M205.7 194.4h0M285.2 194.4h0M265.8 194.6h0M270.3 194.6h0M264.0 194.2h0M262.9 194.4h0M278.2 194.1h0M268.1 194.2h0M273.3 194.7h0M260.5 194.5h0M284.5 194.1h0M256.4 194.2h0M236.9 194.2h0M254.5 194.1h0M250.3 194.7h0M256.7 194.6h0M256.7 194.3h0M196.9 194.6h0M294.1 194.2h0M247.7 194.5h0M277.9 194.5h0M259.6 194.4h0M257.8 194.1h0M279.2 194.5h0M260.3 194.1h0M263.8 194.7h0M257.5 194.3h0M255.7 194.6h0M280.9 194.7h0M260.8 194.4h0M248.6 194.3h0M259.1 194.5h0M245.5 194.7h0M267.9 194.4h0M267.2 194.3h0M307.6 194.7h0M255.6 194.1h0M234.0 194.4h0M264.5 194.1h0M236.1 194.6h0M260.6 194.1h0M248.3 194.2h0M258.9 194.1h0M203.5 194.2h0M313.4 194.5h0M269.2 194.1h0M286.9 194.6h0M246.6 194.4h0M284.5 194.6h0M203.2 194.2h0M228.2 195.8h0M260.7 196.0h0M255.0 196.2h0M239.7 196.1h0M241.8 196.1h0M286.0 196.0h0M275.4 195.9h0M280.1 195.5h0M270.1 195.7h0M220.2 195.6h0M280.9 195.8h0M278.2 195.5h0M242.3 195.8h0M273.1 196.2h0M284.7 196.2h0M255.8 195.8h0M243.5 196.1h0M263.0 195.7h0M237.9 195.7h0M249.1 195.8h0M224.6 195.8h0M276.6 195.9h0M250.4 195.5h0M242.9 196.2h0M233.4 195.5h0M248.6 196.1h0M253.8 195.5h0M267.6 195.7h0M270.6 195.6h0M279.0 195.6h0M282.6 195.8h0M312.5 195.7h0M260.6 195.9h0M303.3 195.7h0M297.2 195.7h0M226.6 195.6h0M308.6 196.2h0M242.4 195.7h0M246.9 196.1h0M258.0 195.6h0M253.7 195.5h0M246.0 195.7h0M224.9 195.7h0M240.4 195.9h0M271.0 196.0h0M197.4 195.8h0M229.5 195.6h0M195.7 195.7h0M266.8 195.8h0M212.1 195.8h0M271.6 195.6h0M250.6 196.0h0M209.2 195.7h0M234.4 196.2h0M267.4 196.1h0M291.8 195.6h0M232.4 197.6h0M283.6 197.3h0M201.5 197.3h0M245.3 197.2h0M248.5 197.4h0M275.8 197.2h0M271.4 197.6h0M261.6 197.3h0M235.5 197.1h0M263.0 197.4h0M270.0 197.6h0M242.1 197.6h0M250.9 197.0h0M238.6 197.3h0M238.8 197.5h0M259.0 197.2h0M245.2 197.3h0M260.2 197.6h0M269.8 197.5h0M248.6 197.3h0M274.9 197.2h0M292.6 197.5h0M254.8 197.2h0M284.8 197.3h0M284.3 197.6h0M231.5 197.3h0M268.2 197.1h0M251.0 197.0h0M242.7 197.1h0M257.4 197.6h0M222.2 197.0h0M271.6 197.1h0M269.1 197.1h0M255.3 197.7h0M258.0 197.0h0M275.7 197.4h0M276.5 197.1h0M249.5 197.3h0M267.5 197.4h0M259.1 197.1h0M271.1 197.6h0M252.6 197.0h0M245.3 197.4h0M257.2 197.5h0M267.7 197.5h0M284.2 197.5h0M274.6 197.1h0M239.7 198.2h0M259.1 198.6h0M245.8 198.2h0M255.9 198.4h0M216.9 198.2h0M272.2 198.0h0M252.5 198.3h0M275.4 198.0h0M260.7 198.1h0M301.2 198.6h0M241.2 198.1h0M191.3 198.4h0M233.8 198.3h0M236.9 198.6h0M279.7 198.4h0M195.5 198.7h0M212.0 198.2h0M238.2 198.3h0M264.2 199.6h0M271.0 199.4h0M271.4 199.7h0M218.5 199.3h0M260.5 199.8h0M268.5 199.5h0M273.3 199.7h0M247.1 199.6h0M223.5 199.5h0M263.6 199.9h0M247.1 200.0h0M244.3 199.3h0M261.6 199.5h0M234.9 199.7h0M231.4 199.4h0M229.4 199.3h0M233.3 199.6h0M271.3 199.5h0M248.5 199.4h0M234.9 199.6h0M257.7 199.5h0M284.4 199.6h0M257.7 199.3h0M231.0 199.6h0M232.0 199.3h0M257.5 199.8h0M243.9 199.6h0M249.8 199.4h0M235.7 199.4h0M203.6 199.6h0M230.2 199.5h0M255.1 199.9h0M226.2 199.7h0M221.7 199.5h0M273.0 200.9h0M248.0 201.0h0M248.0 200.7h0M259.4 200.8h0M231.9 200.7h0M236.5 200.8h0M232.5 200.9h0M240.4 200.8h0M254.4 200.8h0M241.1 200.9h0M252.6 200.8h0M238.4 201.1h0M225.8 201.0h0M261.8 200.8h0M226.7 201.2h0M233.3 201.2h0M260.5 201.2h0M261.1 201.3h0M238.0 201.2h0M268.8 201.0h0M235.7 200.8h0M256.3 200.7h0M260.8 200.9h0M209.8 201.3h0M225.9 201.0h0M246.7 200.9h0M278.0 201.0h0M228.0 200.8h0M242.4 200.7h0M263.1 201.1h0M253.2 200.9h0M218.7 201.2h0M273.8 200.9h0M252.7 200.6h0M233.7 201.1h0M270.2 200.9h0M240.7 201.2h0M253.8 201.2h0M254.3 202.7h0M236.5 202.3h0M233.4 202.2h0M223.3 202.5h0M248.6 202.4h0M217.0 202.2h0M246.7 202.2h0M259.0 202.4h0M250.6 202.2h0M244.4 202.6h0M259.2 202.3h0M249.7 202.1h0M248.1 202.3h0M263.3 202.7h0M271.3 202.7h0M266.2 202.5h0M234.3 202.3h0M226.6 202.2h0M231.6 202.4h0M255.8 202.2h0M261.6 202.4h0M250.3 202.7h0M257.4 202.6h0M255.6 202.4h0M238.4 202.6h0M254.6 202.3h0M274.2 202.4h0M275.3 203.7h0M294.3 203.6h0M245.0 204.0h0M257.0 203.7h0M237.3 203.7h0M243.4 203.8h0M263.5 203.9h0M268.7 203.9h0M247.4 203.4h0M252.8 203.8h0M264.2 204.0h0M246.3 203.7h0M224.5 203.8h0M252.6 203.4h0M275.2 203.7h0M216.8 204.0h0M258.3 203.5h0M231.5 203.9h0M247.8 203.4h0M231.3 203.5h0M263.0 204.1h0M213.8 203.7h0M261.2 204.0h0M214.1 203.4h0M238.3 203.8h0M251.5 204.0h0M277.2 204.0h0M238.9 204.0h0M274.6 203.8h0M253.1 203.8h0M256.1 203.5h0M220.1 203.4h0M244.7 204.0h0M256.0 203.9h0M268.3 204.0h0M254.2 203.5h0M232.5 203.5h0M260.4 203.8h0M247.4 203.9h0M278.9 203.5h0M251.8 203.8h0M245.8 203.5h0M265.0 203.4h0M242.4 203.7h0M245.9 204.9h0M236.1 205.1h0M263.1 205.3h0M237.5 204.9h0M264.9 204.9h0M250.4 204.7h0M261.9 204.8h0M238.7 205.3h0M281.5 204.8h0M226.6 204.8h0M246.4 204.7h0M230.1 204.9h0M259.1 205.2h0M282.8 204.8h0M225.1 205.3h0M237.8 204.8h0M233.6 205.1h0M254.1 205.3h0M249.4 204.7h0M235.7 205.1h0M237.6 205.2h0M240.1 205.3h0M249.1 204.8h0M230.1 204.8h0M260.5 204.8h0M240.1 205.1h0M239.0 205.2h0M262.2 204.9h0M262.2 204.7h0M259.0 205.2h0M236.2 205.3h0M243.6 204.7h0M198.0 205.2h0M267.5 205.1h0M257.4 205.2h0M259.9 205.3h0M270.3 204.9h0M226.9 204.7h0M254.6 205.3h0M270.8 204.9h0M238.2 205.0h0M262.5 205.1h0M261.7 205.1h0M264.4 204.8h0M243.6 205.0h0M252.4 206.3h0M266.0 205.9h0M230.6 206.2h0M239.3 205.9h0M264.3 206.1h0M241.5 206.4h0M251.9 206.5h0M243.5 205.8h0M246.0 206.1h0M265.3 205.9h0M266.7 206.1h0M232.9 206.2h0M271.8 206.2h0M235.4 206.0h0M228.1 206.3h0M268.9 206.3h0M262.5 206.4h0M265.4 206.5h0M249.8 205.9h0M208.5 205.9h0M267.1 205.8h0M256.4 206.0h0M254.2 206.0h0M266.2 205.9h0M251.2 206.0h0M267.9 206.4h0M244.6 206.4h0M275.2 206.5h0M257.3 206.4h0M253.1 206.1h0M260.0 206.3h0M259.2 206.3h0M255.9 206.1h0M275.0 206.2h0M245.8 206.0h0M272.3 205.9h0M258.7 206.1h0M260.6 206.4h0M219.0 206.3h0M263.4 206.4h0M262.5 206.1h0M273.9 206.5h0M255.8 205.8h0M267.0 206.4h0M263.3 206.5h0M247.5 206.0h0M210.8 206.5h0M233.4 206.5h0M265.1 205.9h0M239.3 205.9h0M237.5 206.0h0M259.0 206.0h0M251.6 206.1h0M266.4 206.4h0M239.7 206.4h0M245.1 206.3h0M265.3 206.3h0M236.8 206.1h0M221.7 206.2h0M235.8 205.9h0M265.2 206.0h0M208.8 206.5h0M249.0 205.8h0M247.1 206.1h0M244.0 205.9h0M251.9 207.5h0M259.0 207.8h0M263.3 207.2h0M266.8 207.3h0M264.2 207.5h0M252.3 207.3h0M273.8 207.7h0M265.7 207.8h0M245.8 207.6h0M252.1 207.8h0M248.2 207.8h0M267.9 207.9h0M262.5 207.7h0M220.9 207.6h0M284.5 207.3h0M247.5 207.9h0M252.0 207.8h0M251.2 207.3h0M201.5 207.6h0M262.6 207.6h0M197.2 207.7h0M263.7 207.2h0M211.6 207.4h0M269.5 207.7h0M211.9 207.3h0M258.3 207.4h0M261.0 207.7h0M266.4 207.7h0M254.4 207.7h0M257.0 207.6h0M209.0 207.5h0M246.4 207.7h0M251.9 207.6h0M253.8 207.7h0M254.4 207.6h0M233.0 207.4h0M249.4 207.3h0M258.0 207.7h0M233.7 207.2h0M244.5 207.5h0M248.3 207.3h0M259.3 208.7h0M251.7 208.7h0M246.9 209.1h0M257.2 208.7h0M199.7 209.2h0M206.7 208.9h0M253.5 209.3h0M264.6 209.3h0M248.5 209.3h0M207.5 209.3h0M217.0 209.0h0M256.8 209.4h0M232.4 209.0h0M247.2 208.9h0M225.4 209.1h0M219.3 209.3h0M224.4 208.9h0M242.8 208.8h0M228.4 209.3h0M258.9 209.3h0M224.4 208.9h0M242.7 209.0h0M249.1 208.9h0M244.5 209.2h0M245.6 208.8h0M263.9 209.0h0M259.9 209.4h0M236.6 209.0h0M206.7 208.9h0M265.2 208.8h0M222.3 208.9h0M252.2 209.1h0M246.6 209.4h0M250.5 209.1h0M258.4 208.7h0M255.7 208.9h0M253.2 209.0h0M257.4 209.2h0M252.9 209.1h0M247.6 209.1h0M225.2 209.3h0M262.0 208.9h0M232.4 209.1h0M233.2 209.0h0M220.0 208.8h0M222.4 210.4h0M233.9 210.3h0M215.7 210.0h0M234.8 210.3h0M219.7 210.4h0M269.0 210.1h0M227.1 210.5h0M244.3 210.2h0M253.3 210.1h0M232.8 210.4h0M236.8 210.5h0M212.0 210.5h0M223.8 210.4h0M251.6 210.4h0M224.3 209.9h0M258.4 210.0h0M223.6 210.5h0M214.8 210.5h0M268.9 210.3h0M253.2 210.4h0M271.1 210.5h0M269.2 210.3h0M254.5 210.0h0M247.9 210.5h0M216.4 210.1h0M219.5 209.9h0M229.5 210.2h0M263.8 210.5h0M227.6 210.2h0M268.1 210.2h0M225.3 209.9h0M251.4 210.1h0M238.5 210.5h0M237.9 210.5h0M224.4 209.9h0M216.6 210.4h0M258.5 210.0h0M208.5 211.7h0M250.9 211.4h0M226.0 211.7h0M211.6 211.3h0M242.3 211.2h0M181.8 211.2h0M227.5 211.8h0M255.1 211.3h0M256.9 211.2h0M246.1 211.4h0M230.6 211.2h0M234.1 211.2h0M228.5 211.4h0M247.0 211.6h0M259.3 211.4h0M210.9 211.4h0M241.0 211.5h0M255.0 211.3h0M274.4 211.7h0M219.4 211.5h0M240.9 212.7h0M269.4 212.7h0M269.9 213.0h0M211.1 213.2h0M235.3 212.7h0M213.6 212.5h0M246.5 212.6h0M226.8 213.1h0M224.5 212.8h0M233.9 212.5h0M198.5 213.0h0M218.7 212.7h0M237.3 212.8h0M224.8 212.5h0M220.2 212.6h0M251.5 212.9h0M232.4 212.8h0M246.9 212.6h0M219.7 213.1h0M213.0 213.0h0M225.5 214.4h0M234.1 214.1h0M246.5 214.3h0M235.7 214.4h0M241.0 213.9h0M210.2 214.4h0M253.4 214.3h0M227.7 214.0h0M220.1 214.3h0M220.3 214.1h0M248.9 213.9h0M262.1 214.1h0M193.1 214.3h0M227.0 214.3h0M251.2 214.5h0M175.7 214.0h0M224.9 214.1h0M190.5 214.0h0M226.5 214.0h0M225.6 214.0h0M220.6 213.9h0M254.1 214.1h0M207.3 214.1h0M222.6 214.0h0M212.1 214.3h0M214.5 214.0h0M211.4 214.2h0M214.1 213.9h0M238.5 214.5h0M243.6 214.4h0M232.7 214.5h0M231.1 214.5h0M221.3 214.3h0M239.9 214.2h0M218.5 214.6h0M236.8 214.3h0M246.4 214.2h0M235.2 214.2h0M250.2 214.0h0M244.1 214.3h0M231.5 214.0h0M271.3 214.2h0M277.7 214.2h0M214.4 214.4h0M248.8 213.9h0M251.4 215.5h0M234.4 215.6h0M225.6 215.3h0M238.5 215.4h0M219.5 215.0h0M238.2 215.4h0M201.6 215.7h0M239.0 215.1h0M212.8 215.3h0M216.2 215.0h0M220.6 215.2h0M213.3 215.6h0M249.1 215.3h0M222.8 215.0h0M209.9 215.4h0M263.6 215.3h0M218.3 215.4h0M233.4 215.3h0M224.5 215.6h0M243.2 215.1h0M205.3 217.1h0M247.7 216.5h0M225.7 216.9h0M235.4 216.6h0M221.5 216.5h0M213.0 216.6h0M217.1 217.1h0M263.4 216.9h0M243.8 216.8h0M207.4 216.6h0M223.4 216.7h0M222.4 216.8h0M201.5 216.8h0M203.1 216.8h0M213.1 216.5h0M228.6 216.4h0M234.2 217.0h0M212.2 216.8h0M229.5 216.7h0M224.0 216.7h0M187.2 216.9h0M235.0 216.9h0M200.4 216.9h0M258.4 216.5h0M217.7 217.1h0M189.5 216.5h0M238.8 216.6h0M191.6 217.0h0M178.3 216.6h0M235.9 216.7h0M216.9 216.7h0M215.4 216.4h0M215.7 216.7h0M233.4 216.6h0M200.4 216.7h0M217.2 216.8h0M216.2 216.5h0M232.6 218.3h0M202.7 218.2h0M226.5 218.1h0M241.4 218.0h0M224.9 218.3h0M227.4 217.8h0M222.9 218.1h0M239.2 217.9h0M195.7 217.9h0M234.4 218.1h0M239.9 218.3h0M259.4 218.3h0M213.7 217.8h0M214.0 217.9h0M222.7 218.3h0M251.2 218.0h0M194.4 218.0h0M243.9 218.1h0M226.1 218.1h0M200.5 217.7h0M241.1 217.8h0M195.7 218.2h0M253.7 218.3h0M203.0 218.1h0M239.8 217.8h0M229.8 217.9h0M196.0 217.8h0M209.0 218.1h0M232.3 217.7h0M251.5 217.6h0M198.4 217.8h0M207.2 218.2h0M222.1 217.7h0M218.8 217.8h0M218.2 218.1h0M236.3 217.9h0M210.4 217.7h0M219.4 218.0h0M202.7 217.9h0M211.9 218.0h0M195.4 217.7h0M238.7 219.0h0M194.6 219.3h0M204.6 219.6h0M212.2 218.9h0M271.7 218.9h0M209.9 219.2h0M186.4 218.9h0M213.4 219.2h0M195.4 219.0h0M195.7 219.1h0M256.0 219.5h0M228.1 219.2h0M202.8 219.5h0M235.3 219.5h0M241.6 219.5h0M248.3 219.3h0M236.1 219.1h0M187.2 219.5h0M189.5 219.3h0M188.3 219.2h0M237.8 218.9h0M199.3 219.0h0M183.1 219.4h0M246.2 219.2h0M231.4 219.4h0M240.4 219.2h0M197.8 219.3h0M237.9 219.5h0M215.9 219.1h0M206.0 219.1h0M205.6 219.3h0M234.0 219.0h0M235.5 219.2h0M218.8 219.1h0M278.1 219.0h0M197.6 219.2h0M205.6 219.3h0M237.8 219.1h0M206.2 219.3h0M197.2 219.0h0M196.9 219.4h0M268.7 219.2h0M255.8 219.0h0M250.0 219.5h0M239.2 219.5h0M223.1 220.5h0M216.1 220.5h0M231.2 220.2h0M221.2 220.5h0M244.6 220.7h0M219.5 220.5h0M197.7 220.2h0M245.2 220.7h0M225.8 220.5h0M204.2 220.2h0M205.3 220.4h0M225.1 220.1h0M211.0 220.4h0M229.6 220.5h0M244.8 220.6h0M275.6 220.1h0M207.9 220.5h0M229.6 220.5h0M209.2 220.1h0M254.9 220.7h0M204.2 220.2h0M225.9 220.1h0M243.7 220.4h0M201.7 220.6h0M218.0 220.2h0M207.6 220.7h0M189.0 220.3h0M203.6 220.5h0M230.4 220.3h0M211.5 220.3h0M201.3 220.1h0M226.0 220.7h0M222.8 220.2h0M214.3 220.7h0M216.7 220.2h0M202.0 220.1h0M220.9 220.2h0M214.2 221.7h0M239.3 221.9h0M227.7 222.2h0M222.9 221.9h0M229.4 222.1h0M224.3 222.3h0M257.6 222.2h0M222.1 221.9h0M208.2 222.3h0M253.5 222.3h0M223.5 222.2h0M225.6 221.9h0M208.8 222.2h0M242.6 221.8h0M199.8 222.1h0M220.0 222.0h0M257.4 222.3h0M239.7 221.7h0M203.7 222.2h0M262.3 221.9h0M259.5 221.7h0M205.5 222.0h0M199.0 221.7h0M229.8 221.9h0M231.9 221.7h0M202.1 222.2h0M238.1 221.8h0M218.9 222.3h0M226.4 222.2h0M194.8 221.9h0M195.6 222.0h0M236.0 222.3h0M220.5 222.1h0M185.7 221.8h0M207.6 222.3h0M223.1 222.2h0M218.2 221.8h0M218.3 221.9h0M209.1 221.9h0M189.2 222.1h0M254.7 221.8h0M232.6 222.3h0M223.8 222.2h0M241.2 221.7h0M220.6 222.1h0M217.1 222.2h0M246.8 221.7h0M253.0 221.8h0M275.2 222.0h0M211.6 222.2h0M200.8 222.3h0M241.8 221.9h0M222.0 222.3h0M233.9 223.5h0M219.2 223.1h0M258.9 223.2h0M212.0 222.9h0M261.7 223.2h0M231.7 223.1h0M226.0 223.5h0M206.9 223.0h0M217.7 223.3h0M220.5 223.0h0M202.0 223.4h0M245.9 222.9h0M228.1 223.4h0M205.9 223.2h0M241.0 222.9h0M249.1 223.0h0M256.3 223.4h0M185.6 222.9h0M232.3 223.4h0M221.2 223.1h0M252.9 223.1h0M222.7 223.3h0M222.5 222.9h0M276.8 223.5h0M215.5 223.1h0M200.9 222.9h0M204.9 222.9h0M238.3 223.5h0M213.3 223.0h0M211.1 223.3h0M209.4 223.0h0M249.6 222.8h0M208.8 223.1h0M244.0 222.9h0M203.7 223.0h0M217.9 222.9h0M208.9 223.2h0M186.7 223.0h0M220.5 222.9h0M207.4 222.9h0M260.4 223.1h0M199.0 224.1h0M256.7 224.6h0M246.9 224.6h0M223.2 224.1h0M225.8 224.2h0M222.2 224.7h0M230.3 224.7h0M234.3 224.4h0M265.6 224.7h0M229.6 224.6h0M229.5 224.2h0M213.5 224.2h0M235.7 224.7h0M224.6 224.5h0M200.2 224.5h0M232.8 224.2h0M236.7 224.5h0M246.8 224.1h0M260.9 224.3h0M204.7 224.3h0M223.1 224.4h0M189.2 224.1h0M253.5 224.2h0M211.5 224.3h0M260.5 224.5h0M227.5 224.1h0M246.1 224.7h0M232.0 224.6h0M233.8 224.3h0M238.5 224.2h0M234.1 224.4h0M242.8 224.7h0M248.4 224.2h0M252.8 224.4h0M194.1 224.8h0M258.6 224.5h0M242.7 224.4h0M236.0 225.6h0M230.0 226.1h0M230.1 225.6h0M247.1 225.7h0M198.3 226.2h0M245.2 225.9h0M195.0 225.6h0M272.6 225.8h0M243.3 226.1h0M187.6 225.6h0M229.0 226.1h0M240.6 226.2h0M250.3 226.1h0M231.1 226.2h0M233.4 225.9h0M257.1 225.6h0M208.4 225.8h0M202.9 226.0h0M246.2 226.2h0M246.5 225.7h0M264.3 226.2h0M234.9 226.0h0M244.1 225.9h0M243.1 225.6h0M235.7 226.1h0M244.3 225.8h0M255.5 225.7h0M205.0 225.9h0M212.3 225.9h0M234.2 226.2h0M245.5 225.6h0M230.4 226.2h0M235.2 225.6h0M224.1 225.9h0M254.8 225.8h0M242.8 225.9h0M221.1 226.2h0M231.4 226.0h0M237.6 225.8h0M254.4 225.7h0M237.7 225.8h0M246.5 225.6h0M213.4 226.1h0M211.4 226.1h0M219.7 225.6h0M238.1 226.7h0M253.1 226.9h0M229.2 226.7h0M270.9 227.1h0M202.4 226.7h0M243.9 227.0h0M227.1 226.6h0M234.7 227.0h0M223.2 227.2h0M217.5 226.6h0M224.0 226.8h0M256.8 227.1h0M258.0 226.9h0M244.1 227.2h0M215.4 227.2h0M219.0 226.7h0M241.9 226.7h0M236.0 227.2h0M233.1 226.8h0M231.9 226.8h0M230.2 226.6h0M203.7 227.2h0M246.2 226.9h0M231.4 226.9h0M262.1 227.2h0M235.8 227.2h0M230.2 226.7h0M253.0 227.2h0M210.0 227.1h0M243.4 226.9h0M241.8 227.0h0M254.1 227.2h0M228.1 227.3h0M252.7 227.1h0M250.9 227.1h0M236.5 226.6h0M222.9 227.0h0M192.3 227.0h0M240.9 226.9h0M259.5 226.7h0M241.1 227.2h0M277.7 226.6h0M261.1 226.7h0M245.1 227.2h0M224.3 226.6h0M215.1 227.1h0M213.1 226.9h0M237.3 227.2h0M223.6 226.8h0M245.8 227.1h0M249.1 226.8h0M230.2 226.8h0M245.7 226.6h0M246.7 227.2h0M208.4 226.9h0M189.6 226.9h0M215.2 227.1h0M219.8 226.8h0M251.3 226.6h0M215.6 226.9h0M252.7 226.8h0M243.6 226.9h0M230.0 226.7h0M209.1 227.0h0M263.2 226.6h0M228.7 228.7h0M229.6 228.5h0M265.0 228.9h0M198.4 228.3h0M236.6 228.7h0M213.1 228.2h0M282.3 228.6h0M196.7 228.6h0M260.5 228.8h0M207.8 228.5h0M224.6 228.5h0M219.2 228.3h0M207.6 228.7h0M239.3 228.8h0M257.0 228.5h0M235.8 228.3h0M221.6 228.6h0M206.4 228.3h0M232.9 228.5h0M241.6 228.8h0M260.7 228.8h0M243.0 228.9h0M229.5 228.5h0M255.3 228.4h0M238.0 228.3h0M245.2 228.3h0M215.7 228.7h0M220.6 228.4h0M217.5 228.6h0M238.7 228.3h0M261.1 228.7h0M261.7 228.7h0M240.2 228.2h0M264.1 228.3h0M211.4 228.9h0M254.0 228.3h0M258.0 228.3h0M246.5 229.7h0M243.7 230.1h0M264.5 229.4h0M225.1 229.5h0M231.7 229.5h0M230.7 230.1h0M243.6 229.9h0M227.1 229.6h0M234.8 229.9h0M252.6 229.9h0M205.8 229.8h0M255.8 229.9h0M202.2 229.6h0M223.5 230.0h0M268.7 229.8h0M201.3 230.1h0M236.5 229.9h0M230.9 229.4h0M227.5 229.5h0M215.0 230.0h0M263.1 231.3h0M225.9 230.9h0M248.8 231.3h0M206.2 231.1h0M255.4 231.0h0M211.1 230.8h0M249.8 230.8h0M212.4 231.1h0M235.5 230.8h0M225.8 231.0h0M233.6 230.9h0M191.3 231.1h0M245.3 231.2h0M227.0 231.3h0M249.3 230.8h0M210.9 230.9h0M216.8 231.1h0M226.2 231.3h0M229.6 231.0h0M203.2 231.2h0M205.0 231.0h0M219.8 231.3h0M206.8 231.2h0M245.0 231.3h0M212.7 230.9h0M197.7 230.7h0M233.6 231.1h0M215.1 230.7h0M222.0 230.9h0M240.1 231.0h0M214.6 231.1h0M250.0 230.8h0M231.8 231.2h0M205.1 231.1h0M252.0 231.3h0M225.2 231.0h0M213.8 230.9h0M216.6 232.6h0M242.3 232.3h0M248.6 232.4h0M264.9 232.5h0M213.5 232.6h0M222.4 232.0h0M261.8 232.4h0M242.2 232.2h0M237.8 231.9h0M201.1 232.4h0M229.4 232.4h0M219.2 232.2h0M253.8 232.5h0M249.7 232.3h0M196.4 232.2h0M257.9 232.4h0M236.6 232.3h0M195.9 232.1h0M228.4 232.5h0M204.8 232.4h0M242.4 232.0h0M237.2 232.0h0M232.0 232.1h0M218.4 232.0h0M244.6 232.0h0M259.0 232.6h0M216.1 232.3h0M188.5 232.1h0M219.4 232.4h0M188.2 232.2h0M228.7 232.6h0M211.1 232.2h0M212.8 232.3h0M253.9 232.4h0M239.3 232.1h0M228.1 232.0h0M219.9 232.5h0M236.6 232.3h0M213.0 232.5h0M194.1 231.9h0M226.1 232.4h0M248.0 232.2h0M235.8 231.9h0M214.8 232.4h0M195.2 232.3h0M222.8 233.7h0M261.5 233.5h0M198.3 233.5h0M234.6 233.3h0M211.9 233.4h0M259.3 233.5h0M193.5 233.1h0M229.9 233.2h0M210.8 233.7h0M201.1 233.2h0M246.7 233.1h0M260.6 233.5h0M235.0 233.2h0M235.7 233.7h0M215.5 233.2h0M241.5 233.7h0M252.4 233.6h0M189.0 233.7h0M226.4 233.4h0M195.5 233.5h0M252.3 233.1h0M205.7 233.4h0M276.9 233.7h0M214.1 233.1h0M215.0 233.3h0M208.9 233.1h0M221.6 233.4h0M219.3 233.1h0M220.3 233.2h0M217.4 233.4h0M202.2 233.2h0M213.9 233.4h0M235.3 233.7h0M236.7 233.5h0M230.5 233.4h0M241.5 233.1h0M226.1 233.2h0M252.7 233.5h0M257.6 233.6h0M234.9 233.6h0M242.9 233.1h0M248.5 235.2h0M240.1 235.2h0M231.5 234.8h0M189.8 234.9h0M215.1 234.6h0M190.6 234.6h0M217.8 234.7h0M269.7 234.7h0M240.5 235.1h0M221.9 234.6h0M213.3 234.9h0M206.6 235.1h0M256.4 235.0h0M234.0 235.0h0M237.6 234.8h0M256.9 234.9h0M219.5 235.2h0M205.9 235.2h0M191.5 235.2h0M236.9 234.9h0M251.4 234.8h0M234.8 235.0h0M218.6 235.2h0M235.6 235.2h0M207.9 235.1h0M235.5 235.2h0M217.1 234.8h0M215.6 234.9h0M209.6 234.8h0M214.8 235.2h0M212.8 235.1h0M246.6 235.3h0M194.1 234.9h0M197.1 234.8h0M228.3 234.7h0M263.5 234.6h0M224.4 234.6h0M237.7 235.1h0M180.3 234.7h0M232.9 234.8h0M238.3 234.8h0M272.7 234.9h0M184.4 235.2h0M254.4 235.0h0M204.1 234.9h0M240.7 234.6h0M192.6 235.2h0M232.1 235.0h0M203.7 235.2h0M261.9 234.6h0M250.0 235.2h0M236.5 234.9h0M240.3 235.0h0M219.7 234.9h0M198.3 235.0h0M225.3 234.7h0M207.9 235.0h0M209.0 235.1h0M219.8 235.2h0M247.3 235.1h0M262.8 235.3h0M215.2 234.8h0M237.0 235.2h0M209.1 234.8h0M221.3 234.8h0M221.9 235.8h0M235.0 235.7h0M200.5 235.9h0M230.9 236.1h0M240.0 236.0h0M249.9 236.4h0M215.5 236.2h0M199.4 236.0h0M233.8 236.2h0M204.9 236.2h0M247.6 236.0h0M214.0 236.1h0M195.1 236.0h0M255.0 235.8h0M257.3 235.8h0M208.3 235.8h0M226.4 236.2h0M209.0 236.3h0M246.7 236.0h0M214.8 236.1h0M234.9 237.2h0M243.5 237.1h0M208.2 237.1h0M204.6 237.1h0M221.3 237.7h0M247.0 237.3h0M230.9 237.1h0M209.2 237.3h0M180.0 237.5h0M227.2 237.6h0M204.0 237.2h0M238.1 237.2h0M197.7 237.2h0M198.0 237.4h0M264.0 237.6h0M229.5 237.1h0M243.0 237.7h0M234.4 237.4h0M238.1 237.1h0M205.8 237.7h0M230.4 237.1h0M207.0 237.4h0M212.4 237.7h0M281.0 237.7h0M257.7 237.2h0M235.5 237.2h0M254.2 237.3h0M223.9 237.2h0M218.1 238.4h0M251.4 238.5h0M254.5 239.0h0M236.0 238.5h0M235.5 238.6h0M216.1 238.5h0M234.8 239.0h0M262.3 238.6h0M229.4 238.7h0M204.2 238.4h0M273.9 238.5h0M253.5 239.0h0M220.2 238.7h0M233.4 238.6h0M221.7 238.5h0M211.6 238.6h0M244.7 238.8h0M218.9 238.5h0M197.5 239.0h0M225.3 238.4h0M212.9 238.9h0M255.6 238.7h0M213.4 239.0h0M229.9 238.8h0M238.2 238.6h0M266.0 238.6h0M198.1 238.5h0M219.9 238.8h0M252.1 238.9h0M216.9 238.8h0M261.7 238.7h0M249.1 238.3h0M209.8 238.4h0M194.7 239.0h0M236.7 238.5h0M187.7 238.4h0M212.7 238.5h0M257.6 239.0h0M187.3 239.0h0M230.0 238.6h0M235.6 238.9h0M223.0 238.5h0M211.4 238.5h0M205.7 238.7h0M188.8 238.3h0M258.8 238.6h0M230.1 238.8h0M203.6 238.5h0M239.4 239.0h0M221.5 238.4h0M268.7 238.8h0M204.1 239.0h0M239.8 238.9h0M264.3 238.5h0M233.8 238.8h0M249.4 239.0h0M214.3 238.9h0M219.6 239.0h0M255.8 238.9h0M229.6 238.8h0M203.6 238.7h0M212.1 238.9h0M217.1 238.8h0M221.5 238.6h0M215.8 238.9h0M277.7 239.9h0M207.0 240.0h0M227.0 240.4h0M231.2 240.2h0M238.7 239.9h0M215.4 240.1h0M206.1 240.0h0M238.3 239.9h0M249.5 239.9h0M220.3 240.4h0M221.4 240.1h0M215.0 239.9h0M247.5 240.0h0M221.3 240.0h0M223.0 240.4h0M227.5 240.5h0M264.1 240.3h0M198.7 240.3h0M222.5 240.0h0M240.3 240.0h0M240.6 240.5h0M228.9 240.2h0M230.3 239.8h0M246.8 239.9h0M242.1 240.0h0M247.3 240.4h0M224.5 240.1h0M190.3 240.0h0M241.1 239.9h0M235.5 239.8h0M263.8 240.0h0M232.8 240.4h0M232.4 240.5h0M256.6 239.9h0M220.5 240.1h0M243.0 240.0h0M236.0 240.0h0M237.0 239.9h0M216.3 240.3h0M231.8 240.1h0M213.5 240.2h0M221.6 240.2h0M207.3 240.3h0M203.5 240.4h0M213.6 240.3h0M247.5 240.3h0M266.8 239.8h0M211.8 240.4h0M205.2 240.2h0M252.9 239.8h0M236.4 240.2h0M218.6 240.0h0M259.3 240.4h0M242.1 240.0h0M202.1 240.4h0M251.0 240.1h0M272.1 240.3h0M209.6 240.1h0M234.3 239.8h0M204.2 240.0h0M260.6 240.4h0M235.1 240.1h0M266.9 240.4h0M251.7 239.9h0M254.8 240.3h0M239.6 241.0h0M250.6 241.1h0M237.8 241.1h0M235.3 241.3h0M229.5 241.5h0M250.9 241.0h0M215.5 241.1h0M228.7 241.3h0M235.1 241.0h0M256.7 241.6h0M259.6 241.3h0M231.2 241.5h0M227.8 241.0h0M200.9 241.0h0M236.7 241.5h0M230.6 241.2h0M230.4 241.0h0M239.0 241.1h0M209.8 241.4h0M243.3 241.5h0M244.1 241.1h0M212.7 241.3h0M238.0 241.4h0M272.4 241.6h0M230.7 241.0h0M216.9 241.5h0M216.6 241.0h0M200.0 241.4h0M267.3 241.3h0M201.2 241.2h0M240.5 241.4h0M240.9 241.5h0M215.6 241.6h0M214.7 241.0h0M235.9 241.5h0M189.4 241.4h0M233.7 241.1h0M248.3 241.6h0M210.4 241.2h0M251.6 241.4h0M250.6 241.3h0M240.7 241.3h0M188.8 240.9h0M226.7 241.6h0M282.4 241.4h0M227.0 241.1h0M231.4 241.4h0M250.2 241.4h0M242.8 241.1h0M257.0 241.3h0M232.7 241.6h0M257.0 241.5h0M229.3 241.6h0M244.4 241.3h0M218.3 241.4h0M212.2 241.1h0M240.2 241.0h0M256.0 241.6h0M204.8 241.4h0M241.3 241.3h0M258.3 241.2h0M223.2 241.1h0M244.6 241.6h0M233.6 241.1h0M267.4 241.4h0M260.4 242.4h0M219.3 242.8h0M245.3 242.3h0M237.6 242.4h0M248.6 242.5h0M217.8 242.8h0M247.0 242.6h0M244.7 242.8h0M240.3 242.5h0M210.1 242.4h0M217.2 242.5h0M215.3 242.4h0M247.1 242.9h0M250.9 242.5h0M237.7 242.9h0M246.7 242.6h0M207.6 242.6h0M249.1 242.7h0M257.4 242.3h0M251.9 242.6h0M237.6 242.8h0M208.9 242.7h0M251.9 242.8h0M202.2 242.6h0M214.6 242.5h0M233.0 242.8h0M242.4 242.5h0M252.3 242.5h0M246.9 242.3h0M280.3 242.6h0M249.3 242.6h0M254.3 242.6h0M239.7 242.6h0M235.0 243.0h0M254.4 242.5h0M227.6 242.3h0M242.7 242.7h0M246.6 242.8h0M194.5 242.5h0M233.8 242.6h0M242.2 242.4h0M260.3 242.8h0M234.0 242.9h0M254.3 242.5h0M224.0 242.6h0M237.8 242.3h0M249.7 243.0h0M241.9 242.8h0M237.8 242.9h0M234.6 242.8h0M215.4 242.4h0M240.2 242.3h0M256.2 242.4h0M250.3 242.3h0M210.4 242.5h0M245.8 242.8h0M206.9 242.3h0M225.1 242.8h0M249.3 242.8h0M231.1 242.6h0M241.3 242.7h0M238.6 242.6h0M212.5 242.8h0M234.2 242.5h0M240.7 242.3h0M240.8 243.9h0M225.6 243.8h0M240.7 244.3h0M226.1 244.2h0M251.9 244.1h0M204.5 243.9h0M232.1 244.3h0M231.2 243.9h0M204.1 244.0h0M221.5 243.9h0M208.0 243.8h0M214.4 244.3h0M239.5 244.3h0M234.4 244.2h0M207.5 243.7h0M214.0 244.3h0M206.9 244.1h0M237.6 243.8h0M246.9 243.7h0M231.8 243.8h0M239.4 244.3h0M215.7 243.9h0M240.6 244.3h0M260.8 243.9h0M245.6 244.2h0M236.8 243.9h0M244.3 243.8h0M225.3 243.7h0M264.8 244.2h0M235.3 243.9h0M252.6 243.8h0M243.1 244.1h0M229.6 243.7h0M212.7 244.3h0M243.0 243.7h0M235.6 244.2h0M224.3 244.4h0M251.4 243.7h0M214.7 243.8h0M210.5 244.0h0M256.9 244.4h0M258.5 244.2h0M222.4 244.3h0M214.1 244.0h0M251.7 243.8h0M219.2 245.1h0M245.2 244.9h0M257.8 245.1h0M258.5 245.2h0M247.0 245.4h0M261.9 244.9h0M217.1 245.4h0M231.5 245.1h0M232.8 245.4h0M251.1 245.3h0M237.1 245.4h0M234.2 244.9h0M234.2 245.0h0M221.9 245.4h0M200.5 245.4h0M240.2 245.2h0M228.5 245.3h0M249.6 245.0h0M233.0 245.0h0M242.1 245.5h0M242.9 245.3h0M239.7 245.0h0M237.9 245.2h0M207.5 245.4h0M238.2 245.1h0M225.9 245.5h0M247.2 244.9h0M245.3 245.4h0M191.4 245.5h0M259.1 245.4h0M229.2 245.4h0M234.6 244.9h0M239.8 244.9h0M227.2 245.0h0M237.3 245.3h0M215.1 245.0h0M214.1 244.9h0M265.3 245.4h0M237.6 245.2h0M242.7 245.0h0M238.9 245.1h0M215.3 245.4h0M254.2 245.5h0M224.7 244.9h0M233.6 245.3h0M240.4 245.6h0M250.5 245.1h0M228.3 245.4h0M237.7 245.2h0M231.9 245.4h0M229.6 245.1h0M278.9 245.0h0M250.1 245.1h0M232.7 246.4h0M223.7 246.5h0M229.1 246.7h0M244.3 246.6h0M251.4 246.9h0M237.2 246.5h0M256.7 246.7h0M249.0 246.8h0M253.1 246.4h0M241.2 246.7h0M246.0 246.8h0M233.7 246.8h0M226.0 246.9h0M231.4 246.4h0M205.2 246.8h0M222.5 246.4h0M224.6 246.5h0M245.4 246.7h0M222.2 246.8h0M220.4 246.9h0M233.5 246.7h0M276.6 246.9h0M233.0 246.5h0M215.4 246.4h0M211.4 246.3h0M259.7 246.4h0M259.1 246.7h0M245.7 246.9h0M239.0 246.7h0M229.0 246.4h0M244.6 246.6h0M228.6 246.3h0M232.7 246.6h0M215.0 246.9h0M208.0 246.9h0M205.7 246.7h0M256.8 246.6h0M255.1 246.8h0M230.3 246.7h0M211.2 246.3h0M227.0 246.8h0M219.9 247.8h0M251.8 248.1h0M228.8 247.8h0M229.2 247.5h0M213.6 247.6h0M241.6 247.8h0M214.4 247.7h0M259.8 247.5h0M227.8 248.0h0M214.5 247.7h0M214.3 248.1h0M215.1 247.8h0M211.0 247.6h0M229.2 248.0h0M214.1 247.6h0M226.4 247.8h0M250.8 248.1h0M258.2 247.6h0M247.0 248.1h0M215.5 248.0h0M241.3 248.0h0M238.7 247.8h0M213.7 247.6h0M218.0 247.8h0M231.7 247.6h0M218.1 248.0h0M261.4 247.6h0M261.1 247.8h0M264.9 248.2h0M226.1 247.5h0M245.1 248.0h0M213.2 248.2h0M229.1 247.5h0M224.9 248.2h0M221.7 247.6h0M225.9 248.0h0M236.9 248.2h0M216.3 249.1h0M221.2 248.9h0M253.1 249.4h0M206.9 248.9h0M224.8 249.1h0M236.2 249.2h0M239.2 249.5h0M229.1 248.9h0M207.9 249.5h0M240.4 249.4h0M233.6 249.4h0M220.3 249.0h0M228.5 249.2h0M253.9 248.9h0M205.7 249.5h0M233.6 249.1h0M243.7 249.3h0M211.8 249.3h0M232.9 249.2h0M226.2 249.0h0M222.2 249.4h0M232.0 249.2h0M216.9 249.1h0M246.5 249.5h0M218.9 249.0h0M278.8 248.9h0M214.0 249.1h0M278.1 249.5h0M219.6 249.4h0M213.9 249.4h0M272.7 249.1h0M212.8 249.3h0M226.8 249.1h0M211.8 249.0h0M227.7 249.1h0M241.9 249.1h0M217.4 249.4h0M244.8 249.3h0M195.7 249.4h0M267.6 249.5h0M234.1 249.6h0M253.5 249.4h0M222.5 248.9h0M205.1 249.1h0M216.7 249.0h0M227.0 249.6h0M233.3 249.4h0M210.7 249.0h0M272.0 249.3h0M274.4 249.5h0M232.1 249.2h0M267.4 249.0h0M227.1 249.0h0M220.2 249.5h0M241.5 249.0h0M207.4 249.1h0M213.9 249.0h0M232.4 249.5h0M228.2 249.3h0M227.9 249.3h0M244.0 249.2h0M201.1 249.1h0M216.4 249.4h0M199.7 249.2h0M266.5 249.4h0M230.7 250.4h0M249.0 250.4h0M248.7 250.7h0M246.2 250.5h0M250.4 250.6h0M236.5 250.9h0M220.2 250.9h0M229.1 250.8h0M228.9 250.5h0M213.2 250.4h0M240.7 250.7h0M244.8 250.6h0M261.4 250.6h0M251.7 250.7h0M233.4 250.4h0M252.1 250.5h0M219.9 250.8h0M237.9 250.5h0M209.5 250.4h0M210.5 250.9h0M218.9 250.7h0M211.8 250.5h0M220.8 250.4h0M221.7 250.7h0M217.8 250.4h0M258.9 250.8h0M217.6 251.0h0M217.7 250.7h0M227.8 250.6h0M229.2 250.8h0M237.0 250.8h0M208.2 250.9h0M225.4 250.7h0M215.9 250.6h0M220.3 250.9h0M211.7 250.8h0M253.1 250.9h0M205.7 250.8h0M215.2 250.5h0M218.0 251.0h0M224.4 250.9h0M240.4 250.6h0M202.8 250.6h0M230.6 250.8h0M235.7 250.4h0M226.2 250.5h0M220.1 250.7h0M257.1 250.4h0M243.6 250.7h0M221.2 251.0h0M250.9 250.9h0M213.9 250.7h0M216.6 250.9h0M256.8 250.8h0M243.0 250.6h0M217.0 251.0h0M243.0 250.6h0M227.9 250.8h0M231.5 250.6h0M227.3 250.9h0M266.0 250.7h0M244.1 250.5h0M255.9 250.9h0M217.6 250.7h0M250.9 250.8h0M223.9 251.9h0M242.4 252.2h0M238.4 251.8h0M223.6 251.8h0M248.9 251.9h0M238.9 251.8h0M261.3 251.5h0M234.0 251.7h0M240.5 251.8h0M225.9 251.7h0M255.8 252.0h0M235.1 251.9h0M211.1 252.0h0M240.2 251.5h0M252.9 251.6h0M230.7 251.5h0M250.6 252.1h0M223.0 252.0h0M236.7 252.1h0M237.2 251.9h0M243.3 251.6h0M226.9 252.0h0M240.7 252.0h0M218.6 251.5h0M224.9 251.5h0M230.0 251.8h0M262.9 252.1h0M238.0 251.6h0M217.7 251.9h0M238.3 251.8h0M236.7 251.8h0M219.1 252.1h0M234.8 252.0h0M226.9 251.6h0M204.9 251.7h0M207.2 252.0h0M229.8 252.1h0M221.5 251.6h0M241.3 251.6h0M231.2 251.9h0M246.2 252.2h0M214.3 251.7h0M267.9 251.9h0M222.1 252.1h0M231.8 251.7h0M208.1 251.8h0M232.5 251.8h0M248.0 251.8h0M256.7 251.5h0M227.2 252.0h0M217.7 251.6h0M236.0 251.7h0M223.3 251.8h0M250.7 251.9h0M225.6 251.9h0M215.6 251.5h0M225.5 252.2h0M233.6 252.1h0M208.7 252.1h0M221.3 251.5h0M220.8 251.9h0M233.7 251.6h0M263.5 251.9h0M225.9 252.2h0M234.8 251.8h0M227.4 252.9h0M226.5 253.2h0M251.8 252.9h0M233.8 253.4h0M215.1 253.0h0M260.0 252.8h0M213.4 253.0h0M240.8 253.0h0M242.6 252.8h0M255.7 253.1h0M256.2 252.9h0M233.5 252.9h0M258.9 253.0h0M224.5 252.9h0M239.9 253.3h0M247.1 253.1h0M237.4 252.9h0M246.9 252.8h0M248.5 252.8h0M243.7 253.0h0M229.8 253.1h0M231.0 253.3h0M261.4 253.0h0M201.1 252.7h0M213.5 253.3h0M225.1 252.8h0M263.9 253.0h0M229.7 252.9h0M233.5 254.3h0M234.9 254.3h0M246.7 253.9h0M268.7 254.5h0M252.2 254.1h0M237.2 254.2h0M223.8 254.0h0M221.8 254.0h0M257.1 254.2h0M242.1 254.5h0M259.7 254.4h0M233.8 254.2h0M226.6 254.5h0M262.5 254.3h0M210.1 254.3h0M246.7 254.3h0M232.7 254.5h0M245.0 254.5h0M223.3 253.9h0M221.4 254.0h0M236.2 254.0h0M247.6 254.5h0M251.7 254.1h0M247.0 254.2h0M252.0 254.2h0M232.4 254.1h0M242.8 254.6h0M258.4 254.6h0M238.9 255.8h0M264.0 255.8h0M203.1 255.9h0M255.3 255.8h0M243.4 255.3h0M239.6 255.8h0M252.7 255.6h0M232.5 255.5h0M229.3 255.4h0M260.9 255.8h0M219.8 255.7h0M252.7 255.4h0M253.4 255.7h0M223.6 255.9h0M245.5 255.9h0M219.9 255.6h0M250.2 255.5h0M230.7 255.7h0M258.7 255.9h0M239.2 255.6h0M253.8 255.7h0M220.9 255.2h0M228.4 255.9h0M258.5 255.6h0M236.9 255.8h0M247.3 255.3h0M258.3 255.9h0M233.7 255.3h0M226.3 255.5h0M264.0 255.9h0M237.2 255.6h0M252.9 255.9h0M227.9 255.6h0M239.8 255.5h0M220.8 255.7h0M235.9 255.9h0M252.1 255.6h0M239.6 255.9h0M239.5 255.7h0M221.4 255.7h0M240.0 255.8h0M230.4 255.7h0M219.9 255.7h0M251.0 255.3h0M213.7 255.6h0M226.8 257.3h0M256.2 257.2h0M261.2 257.1h0M256.6 257.1h0M246.4 257.3h0M263.8 256.7h0M261.0 256.9h0M223.0 256.8h0M243.9 257.0h0M219.7 256.9h0M245.9 257.1h0M248.6 257.3h0M249.2 256.8h0M282.5 257.1h0M239.6 257.2h0M263.8 257.2h0M251.8 257.1h0M256.8 257.2h0M262.2 257.1h0M235.0 256.7h0M263.4 256.7h0M229.3 257.0h0M239.6 257.1h0M243.5 256.8h0M260.0 257.0h0M260.1 257.3h0M247.9 256.8h0M226.6 256.6h0M279.4 256.8h0M252.8 256.7h0M246.8 257.0h0M269.4 256.9h0M230.0 257.3h0M267.3 256.7h0M239.7 257.3h0M235.2 256.8h0M206.3 257.1h0M253.9 257.3h0M257.9 257.1h0M232.6 256.6h0M264.5 257.0h0M244.4 257.3h0M253.0 256.8h0M267.8 257.0h0M251.7 256.9h0M263.3 257.2h0M271.4 256.7h0M225.2 257.0h0M244.9 257.3h0M251.0 256.7h0M268.2 256.9h0M252.9 256.9h0M206.2 257.3h0M242.8 258.6h0M259.3 258.2h0M232.0 258.5h0M243.3 258.7h0M250.6 258.5h0M258.5 258.2h0M246.1 258.5h0M267.4 258.7h0M252.9 258.5h0M249.6 258.7h0M230.3 258.3h0M256.6 258.5h0M238.4 258.7h0M249.4 258.4h0M257.8 258.6h0M249.5 258.5h0M235.5 258.3h0M242.2 258.1h0M244.5 258.4h0M238.3 258.7h0M247.8 258.5h0M238.9 258.2h0M242.0 258.3h0M225.4 258.6h0M245.5 258.1h0M227.5 258.0h0M259.7 258.4h0M226.1 258.6h0M226.2 258.1h0M249.9 258.2h0M227.2 258.5h0M247.1 258.2h0M224.4 258.2h0M249.7 258.2h0M238.3 258.4h0M257.7 258.5h0M236.1 258.5h0M249.0 258.0h0M261.5 258.4h0M247.3 258.7h0M238.8 258.5h0M250.7 258.4h0M243.0 258.0h0M244.1 258.5h0M230.1 258.6h0M267.0 258.6h0M232.1 258.3h0M237.5 258.1h0M226.7 258.1h0M263.4 258.3h0M256.3 258.1h0M244.5 258.3h0M230.0 258.4h0M262.5 258.5h0M251.7 258.0h0M236.6 258.3h0M232.4 258.1h0M247.2 258.1h0M268.4 258.3h0M242.0 258.3h0M234.5 258.7h0M245.2 258.1h0M249.1 258.5h0M227.2 258.7h0M236.0 258.7h0M208.9 260.0h0M230.6 259.7h0M249.5 259.5h0M250.1 259.6h0M245.1 259.6h0M248.2 260.0h0M242.5 260.1h0M262.7 259.8h0M229.2 260.1h0M245.1 259.8h0M236.1 259.6h0M249.4 259.7h0M244.3 260.0h0M225.6 260.1h0M254.4 259.6h0M229.0 259.9h0M252.4 259.8h0M235.8 259.7h0M247.1 259.6h0M241.7 259.8h0M228.6 260.1h0M239.2 260.1h0M245.3 259.7h0M243.0 259.8h0M246.2 259.9h0M257.2 260.0h0M259.8 259.9h0M254.0 259.5h0M246.5 260.0h0M233.6 259.7h0M231.8 259.7h0M256.5 259.9h0M243.6 259.6h0M233.5 259.7h0M232.1 259.6h0M223.5 259.6h0M248.6 259.5h0M277.4 259.6h0M225.6 259.5h0M240.6 260.1h0M247.4 259.9h0M238.9 259.5h0M252.8 259.7h0M252.0 259.6h0M233.3 259.9h0M242.3 260.8h0M245.7 261.0h0M225.1 260.5h0M240.4 260.6h0M242.1 260.8h0M225.8 260.9h0M242.9 261.0h0M249.1 260.7h0M242.7 260.8h0M232.3 260.6h0M247.3 260.9h0M237.6 261.0h0M239.4 261.1h0M235.9 261.1h0M239.6 261.0h0M233.9 261.0h0M251.3 260.5h0M237.9 261.1h0M224.6 260.7h0M247.5 261.0h0M242.3 261.0h0M248.2 260.7h0M250.5 260.6h0M231.1 260.9h0M265.8 260.5h0M243.1 260.8h0M266.5 260.6h0M241.7 260.9h0M236.0 260.7h0M242.6 260.5h0M240.0 260.5h0M261.2 260.8h0M244.1 261.1h0M263.2 260.9h0M240.3 260.6h0M233.5 260.8h0M266.9 260.4h0M237.5 260.6h0M225.1 261.0h0M237.4 260.8h0M221.5 261.1h0M227.2 260.9h0M238.8 260.7h0M242.8 260.5h0M266.2 260.5h0M252.7 262.6h0M241.7 262.3h0M247.4 262.7h0M243.2 262.1h0M240.5 262.1h0M242.4 262.2h0M233.9 262.2h0M259.1 262.1h0M250.8 262.3h0M248.2 262.4h0M277.7 262.5h0M254.2 262.1h0M239.2 262.5h0M244.9 262.5h0M248.7 262.5h0M229.0 262.2h0M245.7 262.4h0M235.9 262.1h0M249.5 262.6h0M250.2 262.5h0M246.3 262.1h0M228.9 262.1h0M249.5 262.2h0M269.2 262.5h0M244.9 262.1h0M243.1 262.4h0M254.2 262.6h0M232.6 262.4h0M224.1 262.2h0M229.2 262.3h0M253.6 262.4h0M231.6 262.7h0M262.9 262.1h0M253.8 262.0h0M264.5 262.4h0M260.1 262.7h0M241.6 262.7h0M252.3 262.2h0M267.2 262.5h0M231.3 262.2h0M263.7 262.4h0M248.7 263.5h0M249.2 263.1h0M246.3 263.6h0M248.8 263.2h0M271.8 263.7h0M230.6 263.2h0M244.7 263.1h0M253.6 263.6h0M250.6 263.4h0M230.4 263.3h0M218.4 263.6h0M238.2 263.4h0M231.2 263.2h0M276.2 263.2h0M284.6 263.6h0M257.4 263.6h0M237.9 263.7h0M255.4 263.3h0M254.6 263.5h0M256.2 263.5h0M257.9 264.8h0M246.0 265.3h0M262.1 264.8h0M225.1 265.0h0M264.2 265.0h0M271.9 265.0h0M241.9 265.2h0M243.9 265.2h0M251.3 264.8h0M262.1 265.0h0M253.1 265.0h0M235.2 264.8h0M242.9 265.0h0M235.1 265.1h0M221.3 265.3h0M230.4 265.2h0M257.7 265.3h0M243.1 264.7h0M260.5 264.8h0M241.2 265.3h0M256.3 265.2h0M257.1 264.9h0M253.1 264.8h0M245.9 264.7h0M245.2 264.9h0M256.2 265.0h0M250.1 264.9h0M253.5 264.7h0M257.5 264.9h0M220.6 265.2h0M272.8 264.8h0M250.8 264.8h0M230.8 265.3h0M237.7 265.0h0M247.2 265.2h0M268.6 265.1h0M276.3 265.1h0M264.5 264.9h0M266.8 265.1h0M256.7 265.0h0M222.5 264.8h0M273.4 265.9h0M261.5 266.0h0M273.7 265.8h0M255.9 265.9h0M216.9 266.1h0M223.2 265.9h0M245.6 265.8h0M233.3 266.0h0M241.8 266.0h0M247.8 266.1h0M252.0 266.1h0M261.7 266.2h0M268.8 266.3h0M236.4 265.8h0M259.9 265.9h0M255.0 266.1h0M259.0 266.2h0M258.9 266.3h0M249.3 266.1h0M251.7 265.7h0M237.9 265.8h0M277.5 265.8h0M253.6 265.9h0M238.1 266.2h0M267.9 265.7h0M279.0 265.9h0M237.7 266.1h0M271.9 266.0h0M235.3 266.2h0M277.9 266.3h0M245.7 266.2h0M254.6 266.1h0M264.7 265.7h0M266.1 266.1h0M240.0 265.7h0M235.1 265.9h0M243.5 266.0h0M257.2 266.0h0M256.8 266.3h0M258.4 266.0h0M251.3 266.0h0M261.5 265.7h0M284.6 266.3h0M237.4 265.7h0M246.9 265.8h0M268.5 266.1h0M242.4 265.7h0M259.5 266.1h0M235.7 266.1h0M246.6 266.1h0M247.9 266.0h0M225.2 266.3h0M251.3 266.0h0M242.8 265.8h0M263.9 266.1h0M255.2 266.0h0M242.5 266.0h0M257.5 265.8h0M270.8 265.9h0M252.6 265.7h0M222.9 266.2h0M241.6 266.1h0M244.1 266.1h0M263.8 266.0h0M262.9 266.3h0M245.0 267.4h0M252.6 267.5h0M249.0 267.6h0M257.3 267.0h0M237.4 267.6h0M250.4 267.4h0M233.3 267.0h0M247.9 267.6h0M224.6 267.2h0M238.3 267.3h0M251.4 267.3h0M256.6 267.6h0M250.0 267.5h0M257.0 267.2h0M235.1 267.4h0M235.3 267.3h0M286.6 267.2h0M242.8 267.6h0M257.3 267.2h0M237.7 267.5h0M250.6 267.1h0M249.0 267.6h0M240.9 267.4h0M234.0 267.0h0M237.8 267.1h0M251.9 267.4h0M236.2 267.7h0M248.5 267.3h0M251.4 267.1h0M256.5 267.6h0M255.2 267.6h0M261.8 267.6h0M241.3 267.5h0M249.0 267.3h0M259.0 267.6h0M251.0 267.4h0M252.4 267.0h0M264.5 268.5h0M264.5 268.7h0M249.8 268.5h0M260.8 269.1h0M226.0 268.8h0M258.3 269.1h0M249.0 269.1h0M240.5 268.5h0M249.6 268.9h0M257.1 268.8h0M249.2 269.1h0M230.8 268.6h0M239.4 268.8h0M251.9 268.9h0M248.0 268.5h0M241.8 268.8h0M258.4 268.6h0M255.5 268.7h0M252.5 268.8h0M230.2 268.9h0M247.3 268.6h0M254.8 268.7h0M245.8 268.6h0M279.5 268.8h0M233.4 269.2h0M251.7 268.9h0M273.9 268.6h0M284.3 269.0h0M269.8 270.2h0M251.0 270.1h0M265.2 270.3h0M252.6 270.3h0M246.5 270.3h0M277.7 270.0h0M243.1 270.0h0M243.5 270.3h0M238.6 269.9h0M265.8 270.3h0M252.9 270.0h0M234.9 270.3h0M264.7 269.8h0M255.7 269.9h0M248.7 269.8h0M260.3 270.1h0M240.7 269.9h0M247.6 269.8h0M233.9 270.1h0M251.4 270.1h0M224.2 270.3h0M271.0 269.8h0M246.4 270.2h0M238.1 270.3h0M263.7 270.3h0M255.7 269.7h0M242.2 270.0h0M303.0 271.1h0M244.2 270.9h0M288.1 271.0h0M262.9 271.2h0M264.7 270.9h0M274.3 270.9h0M287.4 271.3h0M318.2 271.3h0M261.0 270.9h0M250.1 271.4h0M249.9 271.2h0M267.3 271.3h0M260.6 271.2h0M271.6 271.4h0M285.6 271.3h0M279.2 271.3h0M271.6 270.9h0M261.7 271.5h0M258.9 271.3h0M300.7 271.0h0M268.5 271.1h0M256.5 271.5h0M256.7 271.0h0M325.6 271.3h0M259.2 271.1h0M286.7 272.5h0M257.4 272.8h0M282.4 272.5h0M292.9 272.9h0M254.6 272.6h0M266.2 272.6h0M249.7 273.0h0M285.8 272.8h0M275.5 272.9h0M277.6 272.9h0M242.4 272.9h0M317.5 272.5h0M256.2 272.9h0M283.3 272.4h0M266.4 273.0h0M285.1 273.0h0M253.2 272.8h0M289.7 274.2h0M266.9 274.2h0M260.1 273.7h0M286.5 273.8h0M268.5 274.0h0M292.0 274.2h0M302.5 273.8h0M282.1 273.7h0M275.8 274.1h0M269.5 273.7h0M290.2 273.9h0M278.0 274.2h0M290.7 274.2h0M277.6 273.7h0M299.2 273.7h0M266.6 274.2h0M285.9 274.0h0M289.6 274.3h0M288.9 274.0h0M268.5 274.2h0M261.3 274.2h0M265.7 273.9h0M270.7 273.7h0M269.8 273.6h0M278.7 274.0h0M274.2 274.2h0M270.8 273.7h0M287.5 274.2h0M275.6 273.8h0M300.2 275.0h0M291.5 275.2h0M277.1 275.3h0M282.4 275.2h0M315.3 274.8h0M307.6 275.1h0M263.0 275.3h0M294.3 275.0h0M302.1 275.0h0M287.8 275.2h0M286.5 274.9h0M284.3 275.3h0M263.9 274.8h0M278.2 275.3h0M299.3 275.2h0M286.8 275.1h0M321.4 274.9h0M265.1 275.3h0M246.5 275.0h0M273.1 274.8h0M280.8 274.9h0M310.4 274.8h0M303.7 274.8h0M290.1 274.7h0M240.6 274.7h0M255.9 275.3h0M249.5 274.9h0M300.7 274.8h0M320.7 275.2h0M273.1 275.0h0M278.9 274.8h0M305.6 274.9h0M239.3 274.9h0M276.6 275.2h0M298.1 275.1h0M286.4 275.2h0M286.2 274.7h0M284.0 275.0h0M324.1 275.3h0M308.4 276.6h0M278.9 276.1h0M284.3 276.3h0M273.5 276.4h0M276.5 276.5h0M315.1 276.1h0M312.7 276.5h0M290.0 276.1h0M297.7 276.4h0M273.2 276.4h0M313.0 276.7h0M282.4 276.3h0M309.0 276.1h0M292.0 276.2h0M305.1 276.5h0M294.3 276.0h0M314.5 276.5h0M302.7 276.6h0M270.4 276.2h0M304.2 276.4h0M283.4 276.1h0M295.0 276.6h0M310.7 277.8h0M308.6 277.7h0M284.7 277.6h0M297.7 277.5h0M305.0 277.4h0M297.9 277.8h0M294.3 277.4h0M306.4 277.9h0M301.1 277.5h0M295.6 277.7h0M313.7 279.1h0M309.8 279.1h0M310.8 279.2h0M280.2 278.8h0M321.0 279.3h0M294.1 279.0h0M309.4 278.7h0M296.5 279.3h0M317.5 278.9h0M301.6 279.2h0M331.8 278.7h0M312.0 279.3h0M296.9 280.5h0M302.7 280.3h0M321.0 280.6h0M316.2 280.4h0M318.0 280.5h0M320.5 280.3h0M280.2 280.5h0M280.9 279.9h0M311.5 280.2h0M309.8 280.1h0M308.6 280.3h0M312.5 280.5h0M285.8 280.3h0M307.7 281.5h0M317.0 281.6h0M301.8 281.8h0M313.7 281.7h0M323.6 281.3h0M311.4 281.9h0M292.7 281.9h0M297.5 281.5h0M312.3 281.4h0M308.7 282.8h0M317.3 282.9h0M306.1 283.3h0M292.6 282.7h0M317.1 283.3h0M264.6 283.3h0M320.8 283.1h0M296.2 283.3h0M314.4 282.7h0M308.1 283.0h0M305.5 283.0h0M300.2 282.8h0M288.1 282.8h0M290.5 283.3h0M299.6 283.0h0M287.9 283.0h0M275.1 283.2h0M302.7 282.9h0M306.4 282.9h0M310.1 283.3h0M291.0 283.2h0M308.4 282.9h0M289.5 282.8h0M298.3 282.8h0M305.1 282.9h0M265.8 282.8h0M316.2 283.1h0M296.9 283.3h0M293.6 283.3h0M281.1 283.0h0M272.1 282.7h0M306.1 283.1h0M316.5 283.0h0M279.2 283.4h0M284.2 283.2h0M317.2 283.3h0M322.0 284.6h0M283.8 284.7h0M280.1 284.6h0M299.7 284.4h0M304.0 284.2h0M316.4 284.2h0M315.2 284.6h0M289.8 284.5h0M305.7 284.5h0M272.0 284.6h0M267.3 284.8h0M283.6 284.6h0M271.5 284.4h0M308.7 284.8h0M297.0 284.8h0M301.7 284.3h0M280.5 284.6h0M284.6 284.7h0M287.2 284.3h0M295.2 284.3h0M275.5 284.4h0M282.7 284.6h0M303.0 284.2h0M280.9 284.5h0M313.1 284.4h0M278.2 284.4h0M291.2 284.7h0M294.5 284.5h0M260.0 284.3h0M280.0 285.5h0M301.0 285.5h0M282.0 285.7h0M306.6 285.4h0M300.0 285.6h0M279.3 285.9h0M275.3 285.9h0M285.0 286.0h0M299.4 285.5h0M300.1 285.4h0M292.3 285.6h0M267.5 285.5h0M289.6 285.8h0M280.8 285.9h0M311.7 285.7h0M303.2 285.5h0M265.4 285.7h0M278.7 285.9h0M272.6 285.4h0M293.5 285.8h0M305.5 286.1h0M313.5 286.1h0M313.6 285.6h0M303.0 285.7h0M306.8 285.4h0M291.3 285.7h0M266.0 285.7h0M319.0 286.0h0M287.2 285.5h0M314.9 286.0h0M255.6 285.6h0M268.7 286.0h0M293.2 285.4h0M298.2 285.7h0M300.5 285.5h0M291.3 285.6h0M312.8 286.1h0M297.6 286.0h0M265.8 285.9h0M275.8 285.9h0M300.5 285.6h0M295.7 286.0h0M247.5 286.7h0M265.8 286.8h0M278.3 286.9h0M340.2 287.0h0M304.0 286.8h0M290.4 286.8h0M260.1 287.0h0M259.4 287.1h0M301.7 287.2h0M274.5 287.2h0M293.5 287.4h0M296.9 287.1h0M287.1 287.1h0M268.9 287.0h0M292.2 286.9h0M284.7 287.2h0M284.7 287.3h0M284.4 287.4h0M303.1 286.9h0M298.0 286.9h0M287.4 287.2h0M308.5 287.0h0M307.3 287.0h0M307.0 286.7h0M302.6 286.9h0M278.2 286.7h0M253.2 287.2h0M279.1 287.3h0M301.3 287.2h0M286.3 287.2h0M288.7 287.1h0M274.2 287.1h0M290.3 288.1h0M275.5 288.4h0M299.7 288.2h0M305.9 288.6h0M287.2 288.0h0M273.6 288.2h0M288.2 288.2h0M268.4 288.5h0M263.1 288.2h0M317.3 288.0h0M297.9 288.6h0M278.8 288.0h0M298.7 287.9h0M278.7 288.2h0M326.8 288.4h0M289.0 288.1h0M282.0 288.3h0M326.8 288.2h0M299.5 288.5h0M284.5 288.3h0M281.9 288.1h0M293.8 288.6h0M294.9 288.1h0M288.7 288.6h0M303.7 288.0h0M271.6 288.1h0M290.6 288.6h0M279.0 288.2h0M255.6 288.5h0M297.4 287.9h0M316.0 288.0h0M265.8 288.2h0M285.2 288.0h0M281.8 288.2h0M278.4 288.6h0M298.5 288.0h0M326.9 289.3h0M295.6 289.4h0M302.6 289.6h0M257.1 289.9h0M296.1 289.7h0M257.3 289.4h0M305.1 290.0h0M298.9 289.5h0M266.7 289.8h0M313.2 289.8h0M270.8 289.8h0M259.1 289.9h0M296.6 290.0h0M295.4 289.5h0M280.9 289.7h0M299.1 289.9h0M290.0 289.6h0M284.3 289.6h0M260.9 289.3h0M299.5 289.7h0M287.5 289.5h0M318.7 289.6h0M263.2 289.8h0M304.4 289.4h0M264.4 289.5h0M292.3 289.9h0M296.8 289.6h0M268.6 289.4h0M269.0 289.6h0M300.0 291.2h0M292.8 290.7h0M274.6 291.2h0M264.5 290.8h0M288.3 290.7h0M270.8 291.1h0M255.3 291.2h0M272.1 290.9h0M292.8 291.0h0M259.9 290.7h0M301.4 290.9h0M263.1 291.1h0M289.0 290.7h0M268.9 291.2h0M311.8 290.6h0M291.7 291.1h0M283.5 292.2h0M286.9 291.9h0M297.9 291.9h0M293.9 291.9h0M311.1 292.2h0M293.3 291.9h0M305.5 291.8h0M299.5 292.2h0M265.7 291.6h0M271.1 291.8h0M298.3 292.3h0M328.5 292.3h0M285.3 292.2h0M286.8 291.7h0M294.0 292.0h0M298.5 291.8h0M285.9 292.2h0M282.9 291.9h0M298.5 291.8h0M299.0 291.8h0M276.6 291.8h0M279.8 291.8h0M283.8 291.9h0M270.8 292.1h0M306.6 291.9h0M288.4 291.9h0M333.0 291.9h0M290.7 292.1h0M305.1 291.6h0M292.6 292.3h0M293.5 292.1h0M297.4 291.7h0M314.3 292.3h0M304.3 291.8h0M278.7 291.9h0M278.7 292.2h0M293.0 292.1h0M278.3 292.0h0M294.6 292.3h0M289.4 293.1h0M299.8 293.2h0M298.4 293.0h0M297.9 293.2h0M279.3 293.6h0M268.9 293.5h0M256.6 293.2h0M311.4 293.5h0M295.6 293.4h0M313.5 293.5h0M281.4 293.5h0M276.9 293.2h0M286.3 293.1h0M305.1 293.3h0M289.4 293.3h0M287.6 293.1h0M327.2 293.1h0M309.7 293.0h0M296.2 293.0h0M292.6 293.2h0M296.7 293.1h0M327.1 293.3h0M279.9 293.6h0M291.2 293.0h0M299.2 293.0h0M325.5 293.1h0M303.3 293.6h0M295.7 293.2h0M297.4 295.0h0M327.5 295.0h0M277.5 295.0h0M294.1 294.6h0M316.8 295.2h0M302.5 294.7h0M253.0 294.6h0M290.7 295.1h0M311.5 295.1h0M288.4 294.7h0M298.5 294.8h0M306.7 295.0h0M296.0 27.5h0M300.0 29.0h0M303.0 27.0h0M306.0 28.5h0M310.0 27.8h0M299.0 31.5h0M304.0 33.0h0M291.0 24.0h0M288.0 34.0h0M179.9 199.8h0M169.1 199.7h0M164.8 200.4h0M183.0 199.9h0M181.9 200.1h0M196.1 200.4h0M180.1 199.7h0M189.7 218.6h0M165.7 218.8h0M172.8 218.4h0M156.6 218.2h0M161.3 218.1h0M187.0 218.8h0M157.2 234.9h0M178.8 235.2h0M166.3 234.7h0M158.1 235.0h0M198.4 235.0h0M192.7 251.9h0M154.1 252.1h0M191.0 251.8h0M159.4 252.0h0M190.3 252.1h0M158.5 252.0h0M190.0 251.9h0M156.2 252.4h0M147.4 182.9h0M168.8 183.1h0M189.9 182.7h0M176.1 183.1h0M189.9 183.4h0M142.0 183.1h0M196.0 183.2h0M145.4 183.2h0M181.1 183.1h0M195.0 171.3h0M162.9 170.6h0M181.1 170.8h0M189.1 171.1h0M191.9 171.2h0M180.5 171.2h0M189.7 170.7h0M179.9 43.4h0M194.2 42.5h0M170.6 41.7h0M198.5 40.9h0M160.1 41.6h0M174.8 41.7h0M163.4 42.1h0M180.0 42.3h0M191.0 40.7h0M200.5 42.5h0M189.8 42.3h0M187.0 42.5h0M215.1 43.2h0" stroke="#404040" stroke-width="2.3" stroke-linecap="round" fill="none"/>
<path d="M237.2 13.0C235.8 13.9 229.9 17.3 229.1 18.7C228.3 20.1 233.7 20.1 232.2 21.1C230.7 22.1 216.2 23.0 220.1 24.7C223.9 26.4 253.8 28.8 255.3 31.1C256.8 33.5 229.9 36.5 229.1 38.8C228.2 41.1 248.4 43.5 250.2 44.8C252.0 46.0 246.7 45.8 240.0 46.3C233.3 46.8 221.3 46.9 210.0 47.9C198.7 48.9 175.2 50.7 172.0 52.0C168.8 53.3 193.5 54.3 191.0 55.7C188.5 57.1 160.8 59.3 157.2 60.6C153.6 61.9 166.5 62.5 169.5 63.5C172.5 64.5 174.5 65.4 175.1 66.3C175.7 67.2 173.0 68.3 173.2 69.1C173.3 69.9 171.3 70.2 176.0 71.0C180.7 71.8 200.7 73.0 201.5 73.8C202.3 74.6 185.1 74.9 180.8 75.7C176.6 76.5 176.0 77.5 176.0 78.5C176.0 79.5 182.8 80.0 180.8 81.4C178.8 82.8 168.5 85.4 163.8 87.0C159.1 88.6 150.7 89.4 152.5 90.8C154.3 92.2 174.9 93.0 174.8 95.5C174.8 98.0 149.2 103.4 152.2 105.9C155.2 108.4 188.5 109.2 192.7 110.6C196.9 112.0 179.6 113.5 177.6 114.4C175.6 115.3 183.0 114.8 180.5 116.2C178.0 117.6 159.3 120.9 162.6 122.8C165.8 124.7 181.6 125.8 200.0 127.6C218.4 129.4 260.4 132.2 273.0 133.5C285.6 134.8 274.9 135.1 275.3 135.4" stroke="#22cc22" stroke-width="2.3" fill="none" stroke-linejoin="round" stroke-linecap="round"/>
<path d="M251.2 12.6C250.2 13.7 245.7 17.6 245.2 19.1C244.7 20.6 249.2 20.6 248.2 21.5C247.2 22.4 235.5 23.2 239.2 24.7C242.9 26.2 269.6 28.3 270.3 30.7C271.0 33.1 244.4 36.8 243.2 39.2C242.0 41.6 263.8 43.8 263.3 45.2C262.8 46.6 248.9 46.7 240.0 47.5C231.1 48.3 218.7 49.0 210.0 49.8C201.3 50.6 188.8 51.3 188.0 52.3C187.2 53.2 207.5 54.3 205.5 55.5C203.5 56.7 178.7 58.4 176.1 59.7C173.5 61.0 188.2 62.2 190.2 63.5C192.2 64.8 187.7 66.1 188.3 67.2C188.9 68.3 188.7 68.9 194.0 70.0C199.3 71.1 220.0 72.7 220.3 73.8C220.6 74.9 200.5 75.6 195.8 76.6C191.1 77.5 192.0 78.5 192.0 79.5C192.0 80.5 198.6 80.7 195.8 82.3C193.0 83.9 179.2 87.3 175.1 88.9C171.0 90.5 168.8 90.6 171.4 91.7C174.0 92.8 191.2 93.1 190.8 95.5C190.4 97.9 167.0 103.6 169.2 105.9C171.4 108.2 199.8 108.3 204.0 109.6C208.2 110.8 196.0 112.4 194.6 113.4C193.2 114.4 195.8 114.9 195.5 115.5C195.2 116.1 195.7 116.0 192.7 117.2C189.7 118.4 176.4 121.2 177.6 122.8C178.8 124.3 182.5 124.9 200.0 126.5C217.5 128.1 268.1 131.0 282.4 132.4C296.7 133.8 285.3 134.3 285.9 134.7" stroke="#ff9900" stroke-width="2.3" fill="none" stroke-linejoin="round" stroke-linecap="round"/>
<path d="M128.7 12.1C129.5 12.6 132.2 14.2 133.5 15.3C134.8 16.4 135.8 17.3 136.6 18.4C137.4 19.4 137.8 20.5 138.2 21.6C138.6 22.7 138.3 23.8 139.0 24.8C139.7 25.9 142.2 27.0 142.2 27.9C142.2 28.8 140.7 29.4 139.0 30.3C137.3 31.2 134.1 32.3 131.9 33.5C129.7 34.7 127.0 36.4 125.6 37.4C124.1 38.4 123.1 38.7 123.2 39.8C123.3 40.9 126.4 42.5 126.4 43.8C126.4 45.1 124.3 46.7 123.2 47.7C122.1 48.8 120.4 49.3 120.0 50.1C119.6 50.9 120.9 51.5 120.8 52.5C120.7 53.5 119.6 55.3 119.2 56.4C118.8 57.5 118.6 57.8 118.3 59.2C118.0 60.6 117.4 63.1 117.4 65.0C117.4 66.9 117.8 69.2 118.3 70.6C118.8 72.0 120.3 72.2 120.2 73.4C120.1 74.7 117.6 76.4 117.4 78.1C117.2 79.8 119.2 81.8 119.3 83.7C119.4 85.6 118.3 87.0 118.3 89.3C118.3 91.6 119.6 95.5 119.3 97.7C119.0 99.9 117.4 101.2 116.5 102.4C115.6 103.7 113.9 104.0 113.7 105.2C113.5 106.4 115.5 108.1 115.5 109.8C115.5 111.5 113.9 113.2 113.7 115.4C113.5 117.6 113.8 121.0 114.6 122.9C115.4 124.8 117.2 125.3 118.3 126.6C119.4 127.9 119.8 129.0 121.1 130.6C122.3 132.2 125.0 135.3 125.8 136.2" stroke="#0000ff" stroke-width="2.6" fill="none" stroke-linejoin="round" stroke-linecap="round"/>
<path d="M261.4 149.2C256.1 150.0 232.2 152.8 229.7 153.9C227.2 155.0 243.8 155.7 246.6 156.0" stroke="#22cc22" stroke-width="2.3" fill="none" stroke-linejoin="round" stroke-linecap="round"/>
<path d="M270.0 149.2C264.9 150.0 241.7 152.7 239.2 153.9C236.7 155.2 252.4 156.2 255.0 156.7" stroke="#ff9900" stroke-width="2.3" fill="none" stroke-linejoin="round" stroke-linecap="round"/>
<path d="M122.1 150.2C121.1 151.3 116.9 155.7 115.9 156.8" stroke="#0000ff" stroke-width="2.6" fill="none" stroke-linejoin="round" stroke-linecap="round"/>
<path d="M243.5 168.8C242.6 169.3 235.1 170.6 238.0 171.8C240.9 173.0 266.2 174.3 261.0 176.0C255.8 177.7 204.7 180.1 207.0 182.0C209.3 183.9 270.7 184.4 275.0 187.2C279.3 190.0 235.8 195.7 233.0 199.0C230.2 202.3 266.0 203.6 258.0 207.0C250.0 210.4 189.5 216.2 185.0 219.4C180.5 222.6 228.8 223.4 231.0 226.0C233.2 228.6 197.3 232.5 198.0 235.0C198.7 237.5 234.8 238.5 235.0 241.0C235.2 243.5 199.2 247.3 199.0 250.0C198.8 252.7 229.7 255.2 234.0 257.0C238.3 258.8 223.5 259.4 225.0 260.6C226.5 261.8 242.3 262.4 243.0 264.0C243.7 265.6 226.2 268.3 229.0 270.0C231.8 271.7 249.3 272.9 260.0 274.0C270.7 275.1 286.2 275.5 293.0 276.5C299.8 277.5 299.9 278.9 301.0 279.8C302.1 280.7 301.1 280.8 299.5 282.0C297.9 283.2 294.3 285.6 291.3 287.0C288.3 288.4 282.5 289.4 281.4 290.5C280.3 291.6 284.1 293.2 284.7 293.8" stroke="#22cc22" stroke-width="2.3" fill="none" stroke-linejoin="round" stroke-linecap="round"/>
<path d="M254.0 169.4C252.9 169.8 242.9 170.7 247.7 172.1C252.5 173.5 287.8 176.3 283.0 178.0C278.2 179.7 218.7 180.4 219.0 182.1C219.3 183.8 280.7 185.4 284.7 188.4C288.7 191.4 245.8 196.9 243.0 200.0C240.2 203.1 275.2 203.8 268.0 207.0C260.8 210.2 204.3 216.2 200.0 219.4C195.7 222.6 239.8 223.4 242.0 226.0C244.2 228.6 212.0 232.3 213.0 235.0C214.0 237.7 247.7 239.5 248.0 242.0C248.3 244.5 214.5 247.6 215.0 250.0C215.5 252.4 247.2 254.7 251.0 256.5C254.8 258.3 237.0 259.6 238.0 261.0C239.0 262.4 256.2 263.3 257.0 265.0C257.8 266.7 242.5 269.8 243.0 271.0C243.5 272.2 250.3 271.5 260.0 272.4C269.7 273.3 292.2 275.1 301.0 276.5C309.8 277.9 312.1 279.4 312.7 280.6C313.3 281.8 307.2 282.4 304.5 283.9C301.8 285.4 296.8 288.0 296.2 289.7C295.6 291.4 300.4 293.1 301.2 293.8" stroke="#ff9900" stroke-width="2.3" fill="none" stroke-linejoin="round" stroke-linecap="round"/>
<path d="M115.5 169.3C116.0 170.0 117.5 172.3 118.3 173.6C119.1 174.9 121.3 176.1 120.2 177.3C119.1 178.5 112.5 179.9 111.8 181.0C111.1 182.1 114.5 183.0 116.0 184.0C117.5 185.0 119.5 185.9 121.0 187.0C122.5 188.1 124.4 189.1 124.9 190.6C125.4 192.1 124.5 194.3 124.0 196.2C123.5 198.1 122.3 199.3 122.1 201.8C121.9 204.3 123.3 208.8 123.0 211.1C122.7 213.4 121.5 214.4 120.2 215.8C119.0 217.2 115.8 218.3 115.5 219.6C115.2 220.8 117.0 221.9 118.3 223.3C119.5 224.7 121.9 226.4 123.0 228.0C124.1 229.6 124.6 231.0 124.9 232.6C125.2 234.2 124.4 235.7 124.9 237.3C125.4 238.9 127.9 240.1 127.7 242.0C127.5 243.9 124.6 247.3 124.0 248.5C123.4 249.7 123.8 248.5 124.1 249.3C124.4 250.2 125.3 252.0 125.9 253.6C126.5 255.2 126.9 257.1 127.6 258.8C128.3 260.5 129.5 262.0 130.2 264.0C130.9 266.0 130.9 269.0 131.9 270.9C132.9 272.8 136.3 273.9 136.2 275.2C136.0 276.5 131.6 277.5 131.0 278.6C130.4 279.8 131.7 281.0 132.8 282.1C134.0 283.2 135.8 283.8 137.9 285.5C140.1 287.2 144.4 291.2 145.7 292.4" stroke="#0000ff" stroke-width="2.6" fill="none" stroke-linejoin="round" stroke-linecap="round"/>
<path d="M98.25 5.5v3.5M98.25 313.3v-3.5M144.00 5.5v3.5M144.00 313.3v-3.5M189.75 5.5v3.5M189.75 313.3v-3.5M235.50 5.5v3.5M235.50 313.3v-3.5M281.25 5.5v3.5M281.25 313.3v-3.5M327.00 5.5v3.5M327.00 313.3v-3.5M372.75 5.5v3.5M372.75 313.3v-3.5M52.5 292.64h3.5M418.5 292.64h-3.5M52.5 251.52h3.5M418.5 251.52h-3.5M52.5 210.40h3.5M418.5 210.40h-3.5M52.5 169.28h3.5M418.5 169.28h-3.5M52.5 128.16h3.5M418.5 128.16h-3.5M52.5 87.04h3.5M418.5 87.04h-3.5M52.5 45.92h3.5M418.5 45.92h-3.5" stroke="#6e6e6e" stroke-width="1" fill="none"/>
<rect x="52.5" y="5.5" width="366.0" height="307.8" fill="none" stroke="#6e6e6e" stroke-width="1"/>
<text x="46.6" y="296.94" font-family="Liberation Sans, sans-serif" font-weight="bold" font-size="12" text-anchor="end" textLength="25" lengthAdjust="spacingAndGlyphs">4994</text>
<text x="46.6" y="255.82" font-family="Liberation Sans, sans-serif" font-weight="bold" font-size="12" text-anchor="end" textLength="25" lengthAdjust="spacingAndGlyphs">4996</text>
<text x="46.6" y="214.70" font-family="Liberation Sans, sans-serif" font-weight="bold" font-size="12" text-anchor="end" textLength="25" lengthAdjust="spacingAndGlyphs">4998</text>
<text x="46.6" y="173.58" font-family="Liberation Sans, sans-serif" font-weight="bold" font-size="12" text-anchor="end" textLength="25" lengthAdjust="spacingAndGlyphs">5000</text>
<text x="46.6" y="132.46" font-family="Liberation Sans, sans-serif" font-weight="bold" font-size="12" text-anchor="end" textLength="25" lengthAdjust="spacingAndGlyphs">5002</text>
<text x="46.6" y="91.34" font-family="Liberation Sans, sans-serif" font-weight="bold" font-size="12" text-anchor="end" textLength="25" lengthAdjust="spacingAndGlyphs">5004</text>
<text x="46.6" y="50.22" font-family="Liberation Sans, sans-serif" font-weight="bold" font-size="12" text-anchor="end" textLength="25" lengthAdjust="spacingAndGlyphs">5006</text>
<text x="46.6" y="9.10" font-family="Liberation Sans, sans-serif" font-weight="bold" font-size="12" text-anchor="end" textLength="25" lengthAdjust="spacingAndGlyphs">5008</text>
<text x="52.50" y="328" font-family="Liberation Sans, sans-serif" font-weight="bold" font-size="12" text-anchor="middle">0</text>
<text x="98.25" y="328" font-family="Liberation Sans, sans-serif" font-weight="bold" font-size="12" text-anchor="middle">5</text>
<text x="144.00" y="328" font-family="Liberation Sans, sans-serif" font-weight="bold" font-size="12" text-anchor="middle">10</text>
<text x="189.75" y="328" font-family="Liberation Sans, sans-serif" font-weight="bold" font-size="12" text-anchor="middle">15</text>
<text x="235.50" y="328" font-family="Liberation Sans, sans-serif" font-weight="bold" font-size="12" text-anchor="middle">20</text>
<text x="281.25" y="328" font-family="Liberation Sans, sans-serif" font-weight="bold" font-size="12" text-anchor="middle">25</text>
<text x="327.00" y="328" font-family="Liberation Sans, sans-serif" font-weight="bold" font-size="12" text-anchor="middle">30</text>
<text x="372.75" y="328" font-family="Liberation Sans, sans-serif" font-weight="bold" font-size="12" text-anchor="middle">35</text>
<text x="418.50" y="328" font-family="Liberation Sans, sans-serif" font-weight="bold" font-size="12" text-anchor="middle">40</text>
<text x="168.2" y="343.8" font-family="Liberation Sans, sans-serif" font-weight="bold" font-size="12" textLength="133.5" lengthAdjust="spacingAndGlyphs">Standard Deviation (m)</text>
<text transform="translate(11.5,199) rotate(-90)" x="0" y="0" font-family="Liberation Sans, sans-serif" font-weight="bold" font-size="12" textLength="80" lengthAdjust="spacingAndGlyphs">Northing (km)</text>
<rect x="322.5" y="9" width="93" height="47.3" fill="#fff" stroke="#6e6e6e" stroke-width="1"/>
<path d="M326.6 17.6H347.3" stroke="#1010e0" stroke-width="2.4"/>
<path d="M326.6 32.3H347.3" stroke="#22cc22" stroke-width="2.4"/>
<path d="M326.6 47.9H347.3" stroke="#ff8c00" stroke-width="2.4"/>
<text x="349.9" y="22" font-family="Liberation Sans, sans-serif" font-weight="bold" font-size="12" textLength="39" lengthAdjust="spacingAndGlyphs">Climate</text>
<text x="349.9" y="36.5" font-family="Liberation Sans, sans-serif" font-weight="bold" font-size="12" textLength="62" lengthAdjust="spacingAndGlyphs">Morphology</text>
<text x="349.9" y="52" font-family="Liberation Sans, sans-serif" font-weight="bold" font-size="12" textLength="28" lengthAdjust="spacingAndGlyphs">Total</text>
</svg>
</body></html>
